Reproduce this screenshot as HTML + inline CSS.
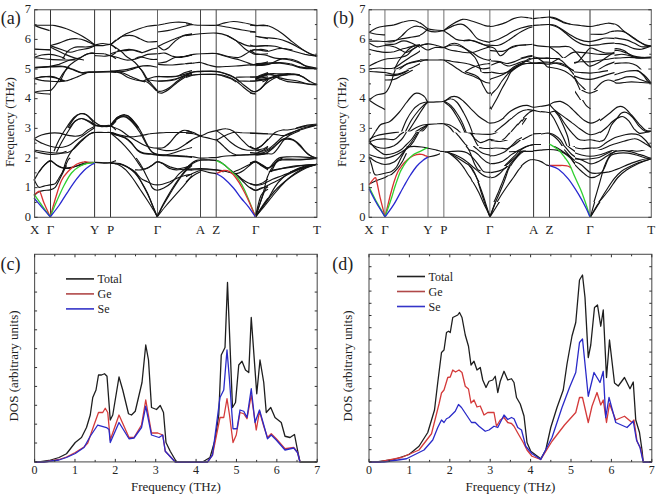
<!DOCTYPE html>
<html><head><meta charset="utf-8"><style>
html,body{margin:0;padding:0;background:#fff;width:656px;height:497px;overflow:hidden}
svg{display:block}
text{font-family:"Liberation Serif", serif}
</style></head><body>
<svg width="656" height="497" viewBox="0 0 656 497">
<rect width="656" height="497" fill="#fff"/>
<line x1="50.5" y1="9.75" x2="50.5" y2="217.3" stroke="#333" stroke-width="1"/>
<line x1="94.6" y1="9.75" x2="94.6" y2="217.3" stroke="#333" stroke-width="1"/>
<line x1="110.5" y1="9.75" x2="110.5" y2="217.3" stroke="#333" stroke-width="1"/>
<line x1="157.5" y1="9.75" x2="157.5" y2="217.3" stroke="#666" stroke-width="1"/>
<line x1="200.5" y1="9.75" x2="200.5" y2="217.3" stroke="#444" stroke-width="1"/>
<line x1="216.2" y1="9.75" x2="216.2" y2="217.3" stroke="#444" stroke-width="1"/>
<line x1="255.8" y1="9.75" x2="255.8" y2="217.3" stroke="#555" stroke-width="1"/>
<defs><mask id="m34_0" maskUnits="userSpaceOnUse" x="0" y="0" width="656" height="497"><rect x="0" y="0" width="656" height="497" fill="#fff"/></mask></defs>
<g mask="url(#m34_0)">
<path d="M34.0 25.2C36.7 25.2 46.7 25.2 50.2 25.2C53.8 25.3 52.5 25.0 55.2 25.6C58.0 26.2 62.8 27.4 66.5 28.8C70.2 30.1 74.4 32.1 77.8 33.8C81.1 35.4 83.6 36.9 86.5 38.8C89.4 40.6 93.5 44.0 94.9 45.0" fill="none" stroke="#141414" stroke-width="1.15"/>
<path d="M34.0 25.2C35.2 25.7 38.9 27.2 41.5 28.1C44.1 29.0 48.3 30.2 49.6 30.6" fill="none" stroke="#141414" stroke-width="1.15"/>
<path d="M50.2 45.6C51.7 45.2 55.9 44.2 59.0 43.1C62.1 42.1 65.9 40.1 69.0 39.4C72.1 38.6 75.0 38.5 77.8 38.8C80.5 39.0 82.4 39.6 85.2 40.6C88.1 41.7 93.3 44.3 94.9 45.0" fill="none" stroke="#141414" stroke-width="1.15"/>
<path d="M94.9 45.0C96.2 44.8 100.1 43.6 102.8 43.5C105.4 43.4 108.3 45.0 110.5 44.4C112.7 43.8 115.1 40.7 116.0 40.0" fill="none" stroke="#141414" stroke-width="1.15"/>
<path d="M94.9 45.6C96.2 45.6 100.1 45.8 102.8 45.6C105.4 45.4 108.3 43.9 110.5 44.4C112.7 44.9 115.1 48.0 116.0 48.8" fill="none" stroke="#141414" stroke-width="1.15"/>
<polyline points="34.00,49.00 50.25,49.75" fill="none" stroke="#141414" stroke-width="1.15" stroke-linejoin="round" />
<polyline points="34.00,49.25 50.25,50.00" fill="none" stroke="#141414" stroke-width="1.15" stroke-linejoin="round" />
<path d="M50.2 45.6C52.3 46.4 59.4 48.9 62.8 50.0C66.1 51.1 67.5 52.2 70.2 52.2C73.0 52.2 75.9 50.7 79.0 50.0C82.1 49.3 86.4 48.9 89.0 48.1C91.6 47.4 93.9 46.0 94.9 45.6" fill="none" stroke="#141414" stroke-width="1.15"/>
<path d="M62.8 58.8C63.6 57.5 65.9 53.1 67.8 51.2C69.6 49.4 72.1 48.2 74.0 47.5C75.9 46.8 76.7 47.0 79.0 46.9C81.3 46.8 85.1 47.1 87.8 46.9C90.4 46.7 93.7 45.8 94.9 45.6" fill="none" stroke="#141414" stroke-width="1.15"/>
<path d="M50.2 46.9C52.8 48.1 61.1 52.5 65.2 54.4C69.4 56.2 72.1 57.2 75.2 58.1C78.4 59.1 82.5 59.7 84.0 60.0" fill="none" stroke="#141414" stroke-width="1.15"/>
<path d="M34.0 57.5C35.2 57.1 38.8 55.5 41.5 55.0C44.2 54.5 47.3 54.2 50.2 54.4C53.2 54.6 56.5 55.5 59.0 56.2C61.5 57.0 64.2 58.3 65.2 58.8" fill="none" stroke="#141414" stroke-width="1.15"/>
<path d="M34.0 57.5C36.7 57.8 45.0 59.0 50.2 59.4C55.5 59.8 61.1 59.9 65.2 60.0C69.4 60.1 73.6 60.0 75.2 60.0" fill="none" stroke="#141414" stroke-width="1.15"/>
<path d="M34.0 67.5C36.7 67.3 46.1 66.8 50.2 66.2C54.4 65.7 55.7 65.4 59.0 64.4C62.3 63.3 66.9 61.0 70.2 60.0C73.6 59.0 76.3 59.1 79.0 58.1C81.7 57.2 84.4 55.3 86.5 54.4C88.6 53.5 90.1 52.9 91.5 52.8C92.9 52.6 94.3 53.4 94.9 53.5" fill="none" stroke="#141414" stroke-width="1.15"/>
<path d="M34.0 67.5C36.7 67.3 45.5 66.7 50.2 66.5C55.0 66.3 59.2 65.9 62.8 66.2C66.3 66.6 68.4 67.7 71.5 68.8C74.6 69.8 78.6 72.0 81.5 72.5C84.4 73.0 84.2 72.1 89.0 71.9C93.8 71.7 106.0 71.2 110.5 71.2C115.0 71.2 115.1 71.8 116.0 71.9" fill="none" stroke="#141414" stroke-width="1.15"/>
<path d="M34.0 67.9C36.7 67.7 45.5 67.2 50.2 67.0C55.0 66.8 59.2 66.4 62.8 66.8C66.3 67.1 68.4 68.2 71.5 69.2C74.6 70.3 78.6 72.5 81.5 73.0C84.4 73.5 84.2 72.6 89.0 72.4C93.8 72.2 106.0 71.8 110.5 71.8C115.0 71.8 115.1 72.3 116.0 72.4" fill="none" stroke="#141414" stroke-width="1.15"/>
<path d="M60.2 81.2C61.3 79.2 64.6 71.7 66.5 68.8C68.4 65.8 69.4 65.4 71.5 63.8C73.6 62.1 76.3 60.4 79.0 58.8C81.7 57.1 85.1 54.6 87.8 53.8C90.4 52.9 93.7 53.5 94.9 53.5" fill="none" stroke="#141414" stroke-width="1.15"/>
<path d="M94.9 53.5C96.4 53.5 101.4 53.4 104.0 53.8C106.6 54.1 108.5 55.8 110.5 55.6C112.5 55.4 115.1 53.0 116.0 52.5" fill="none" stroke="#141414" stroke-width="1.15"/>
<path d="M94.9 55.6C96.4 55.7 101.4 56.2 104.0 56.2C106.6 56.2 108.5 55.2 110.5 55.6C112.5 56.0 115.1 58.2 116.0 58.8" fill="none" stroke="#141414" stroke-width="1.15"/>
<path d="M34.0 78.8C35.2 78.4 38.8 77.2 41.5 76.9C44.2 76.6 47.3 76.6 50.2 76.9C53.2 77.2 56.5 78.0 59.0 78.8C61.5 79.5 64.2 80.8 65.2 81.2" fill="none" stroke="#141414" stroke-width="1.15"/>
<path d="M110.6 44.4C111.8 43.5 114.9 41.1 117.5 39.4C120.1 37.6 122.9 35.4 126.2 33.8C129.6 32.1 134.0 30.6 137.5 29.4C141.0 28.1 144.2 26.9 147.5 26.2C150.8 25.6 155.6 25.4 157.2 25.2" fill="none" stroke="#141414" stroke-width="1.15"/>
<path d="M158.1 25.2C159.3 25.0 162.2 24.2 165.0 23.8C167.8 23.2 171.7 22.5 175.0 22.2C178.3 22.0 182.2 22.1 185.0 22.5C187.8 22.9 190.8 24.1 192.0 24.4" fill="none" stroke="#141414" stroke-width="1.15"/>
<path d="M158.1 31.9C159.7 31.7 163.9 31.4 167.5 30.6C171.1 29.9 175.9 28.5 180.0 27.5C184.1 26.5 190.0 24.9 192.0 24.4" fill="none" stroke="#141414" stroke-width="1.15"/>
<path d="M117.5 39.4C118.3 38.9 120.0 36.9 122.5 36.2C125.0 35.6 129.6 35.2 132.5 35.6C135.4 36.0 137.5 37.7 140.0 38.8C142.5 39.8 144.6 41.4 147.5 41.9C150.4 42.3 155.6 41.6 157.2 41.5" fill="none" stroke="#141414" stroke-width="1.15"/>
<path d="M110.6 44.4C111.8 45.1 115.5 47.4 117.5 48.8C119.5 50.1 121.0 51.2 122.5 52.5C124.0 53.8 124.2 54.6 126.2 56.2C128.3 57.9 132.5 60.2 135.0 62.5C137.5 64.8 139.4 67.3 141.2 70.0C143.1 72.7 145.0 76.8 146.2 78.8C147.5 80.8 148.3 81.5 148.8 82.0" fill="none" stroke="#141414" stroke-width="1.15"/>
<path d="M110.6 53.8C112.0 53.3 115.7 52.0 118.8 51.2C121.8 50.5 126.0 49.5 128.8 49.4C131.5 49.3 132.7 50.1 135.0 50.6C137.3 51.1 139.8 52.7 142.5 52.5C145.2 52.3 148.8 50.1 151.2 49.4C153.7 48.6 156.2 48.3 157.2 48.1" fill="none" stroke="#141414" stroke-width="1.15"/>
<path d="M117.5 50.6C119.0 50.6 123.8 50.7 126.2 50.6C128.8 50.5 130.4 49.9 132.5 50.0C134.6 50.1 137.1 50.7 138.8 51.2C140.4 51.8 141.9 52.8 142.5 53.1" fill="none" stroke="#141414" stroke-width="1.15"/>
<path d="M110.6 55.6C111.8 55.9 114.9 56.8 117.5 57.5C120.1 58.2 123.5 59.7 126.2 60.0C129.0 60.3 131.5 59.8 133.8 59.4C136.0 59.0 137.7 58.3 140.0 57.5C142.3 56.7 144.6 55.0 147.5 54.4C150.4 53.8 155.6 53.9 157.2 53.8" fill="none" stroke="#141414" stroke-width="1.15"/>
<path d="M135.0 58.8C135.8 58.4 138.5 57.1 140.0 56.9C141.5 56.7 141.9 57.1 143.8 57.5C145.6 57.9 149.0 59.1 151.2 59.4C153.5 59.7 156.2 59.4 157.2 59.4" fill="none" stroke="#141414" stroke-width="1.15"/>
<path d="M110.6 71.2C111.8 71.1 114.7 70.9 117.5 70.6C120.3 70.3 124.2 70.0 127.5 69.4C130.8 68.8 134.2 67.5 137.5 66.9C140.8 66.2 144.2 65.6 147.5 65.6C150.8 65.7 155.6 67.0 157.2 67.2" fill="none" stroke="#141414" stroke-width="1.15"/>
<path d="M110.6 71.2C112.4 71.5 118.0 71.7 121.2 72.5C124.5 73.3 127.1 75.0 130.0 76.2C132.9 77.5 136.2 79.0 138.8 80.0C141.2 81.0 144.0 81.7 145.0 82.0" fill="none" stroke="#141414" stroke-width="1.15"/>
<path d="M158.1 46.2C159.5 45.6 163.4 43.8 166.2 42.5C169.1 41.2 171.9 40.0 175.0 38.8C178.1 37.5 182.2 35.8 185.0 35.0C187.8 34.2 190.8 34.0 192.0 33.8" fill="none" stroke="#141414" stroke-width="1.15"/>
<path d="M158.1 46.2C159.1 46.9 162.0 49.8 163.8 50.0C165.5 50.2 166.9 49.0 168.8 47.5C170.6 46.0 172.7 43.1 175.0 41.2C177.3 39.4 179.7 37.4 182.5 36.2C185.3 35.1 190.4 34.7 192.0 34.4" fill="none" stroke="#141414" stroke-width="1.15"/>
<path d="M158.1 53.8C159.3 53.6 162.6 52.7 165.0 53.1C167.4 53.5 170.0 55.5 172.5 56.2C175.0 57.0 176.8 57.7 180.0 57.5C183.2 57.3 190.0 55.4 192.0 55.0" fill="none" stroke="#141414" stroke-width="1.15"/>
<path d="M158.1 63.1C159.5 62.9 163.4 62.8 166.2 61.9C169.1 60.9 171.9 58.4 175.0 57.5C178.1 56.6 182.2 56.7 185.0 56.2C187.8 55.8 190.8 55.2 192.0 55.0" fill="none" stroke="#141414" stroke-width="1.15"/>
<path d="M158.1 64.4C160.5 64.5 168.0 65.1 172.5 65.0C177.0 64.9 181.8 64.1 185.0 63.8C188.2 63.4 190.8 63.2 192.0 63.1" fill="none" stroke="#141414" stroke-width="1.15"/>
<path d="M158.1 76.2C159.7 76.4 164.3 76.9 167.5 76.9C170.7 76.9 174.6 77.0 177.5 76.2C180.4 75.5 182.6 73.4 185.0 72.5C187.4 71.6 190.8 70.9 192.0 70.6" fill="none" stroke="#141414" stroke-width="1.15"/>
<path d="M158.1 81.2C160.1 81.0 166.4 80.6 170.0 80.0C173.6 79.4 176.3 78.8 180.0 77.5C183.7 76.2 190.0 73.3 192.0 72.5" fill="none" stroke="#141414" stroke-width="1.15"/>
<path d="M186.0 23.8C187.2 23.9 191.1 24.5 193.5 24.8C195.9 25.0 196.6 25.2 200.4 25.2C204.2 25.3 212.5 25.6 216.4 25.2C220.2 24.9 220.6 23.8 223.5 23.1C226.4 22.5 230.2 21.6 233.5 21.5C236.8 21.4 239.8 22.1 243.5 22.8C247.2 23.4 251.5 24.8 255.6 25.2C259.7 25.7 265.9 25.6 268.0 25.6" fill="none" stroke="#141414" stroke-width="1.15"/>
<path d="M216.4 25.2C218.6 25.6 225.4 26.7 229.8 27.5C234.1 28.3 237.9 29.3 242.2 30.0C246.6 30.7 253.4 31.6 255.6 31.9" fill="none" stroke="#141414" stroke-width="1.15"/>
<path d="M186.0 35.6C188.4 35.3 195.3 34.2 200.4 33.8C205.4 33.3 211.9 32.8 216.4 33.1C220.9 33.4 223.6 34.2 227.2 35.6C230.9 37.1 235.2 40.2 238.5 41.9C241.8 43.5 244.4 44.9 247.2 45.6C250.1 46.4 252.2 46.2 255.6 46.2C259.1 46.2 265.9 45.7 268.0 45.6" fill="none" stroke="#141414" stroke-width="1.15"/>
<path d="M227.2 35.6C228.7 36.5 233.1 38.4 236.0 40.6C238.9 42.8 242.2 46.8 244.8 48.8C247.2 50.7 249.2 51.6 251.0 52.5C252.8 53.4 252.8 54.2 255.6 54.4C258.5 54.6 265.9 53.9 268.0 53.8" fill="none" stroke="#141414" stroke-width="1.15"/>
<polyline points="255.62,36.25 268.00,38.75" fill="none" stroke="#141414" stroke-width="1.15" stroke-linejoin="round" />
<path d="M255.6 50.0C256.5 49.9 258.9 49.3 261.0 49.4C263.1 49.5 266.8 50.4 268.0 50.6" fill="none" stroke="#141414" stroke-width="1.15"/>
<path d="M186.0 56.2C187.2 55.9 191.1 54.8 193.5 54.4C195.9 54.0 196.6 53.9 200.4 53.8C204.2 53.6 211.9 53.1 216.4 53.5C220.9 53.9 223.6 55.6 227.2 56.2C230.9 56.9 235.4 57.9 238.5 57.5C241.6 57.1 243.9 54.9 246.0 53.8C248.1 52.6 249.4 51.4 251.0 50.6C252.6 49.9 254.9 49.6 255.6 49.4" fill="none" stroke="#141414" stroke-width="1.15"/>
<path d="M216.4 53.5C218.6 54.2 225.9 56.4 229.8 57.5C233.6 58.6 236.6 59.1 239.8 60.0C242.9 60.9 245.9 62.3 248.5 63.1C251.1 64.0 252.4 64.9 255.6 65.0C258.9 65.1 265.9 64.0 268.0 63.8" fill="none" stroke="#141414" stroke-width="1.15"/>
<path d="M186.0 63.8C187.2 63.6 191.1 63.3 193.5 63.1C195.9 62.9 197.9 62.2 200.4 62.5C202.9 62.8 205.8 64.3 208.5 65.0C211.2 65.7 213.5 66.6 216.4 66.9C219.3 67.1 222.7 66.6 226.0 66.5C229.3 66.4 231.1 66.4 236.0 66.0C240.9 65.6 250.3 65.1 255.6 64.4C261.0 63.7 265.9 62.3 268.0 61.9" fill="none" stroke="#141414" stroke-width="1.15"/>
<path d="M186.0 75.0C187.2 74.5 191.1 72.5 193.5 71.9C195.9 71.2 196.6 71.4 200.4 71.2C204.2 71.1 212.1 70.8 216.4 71.2C220.6 71.7 223.1 72.8 226.0 73.8C228.9 74.7 231.2 75.5 233.5 76.9C235.8 78.2 238.7 81.1 239.8 82.0" fill="none" stroke="#141414" stroke-width="1.15"/>
<path d="M186.0 75.6C187.2 75.5 191.1 75.2 193.5 75.0C195.9 74.8 196.6 74.5 200.4 74.4C204.2 74.3 212.5 74.1 216.4 74.4C220.2 74.7 221.1 75.5 223.5 76.2C225.9 77.0 228.9 77.8 231.0 78.8C233.1 79.7 235.2 81.5 236.0 82.0" fill="none" stroke="#141414" stroke-width="1.15"/>
<path d="M255.6 77.5C256.5 77.1 258.9 75.8 261.0 75.0C263.1 74.2 266.8 72.9 268.0 72.5" fill="none" stroke="#141414" stroke-width="1.15"/>
<polyline points="255.62,78.75 268.00,76.88" fill="none" stroke="#141414" stroke-width="1.15" stroke-linejoin="round" />
<path d="M250.0 25.2C250.9 25.3 253.1 25.6 255.6 25.6C258.1 25.6 262.2 24.9 265.0 25.2C267.8 25.6 269.6 26.1 272.5 27.5C275.4 28.9 279.2 31.4 282.5 33.8C285.8 36.1 289.2 39.3 292.5 41.9C295.8 44.5 299.6 47.4 302.5 49.4C305.4 51.4 307.6 52.6 310.0 53.8C312.4 54.9 315.9 55.8 317.1 56.2" fill="none" stroke="#141414" stroke-width="1.15"/>
<polyline points="250.00,31.88 255.62,32.12" fill="none" stroke="#141414" stroke-width="1.15" stroke-linejoin="round" />
<path d="M255.6 36.2C257.2 36.5 261.4 37.1 265.0 37.5C268.6 37.9 273.8 38.0 277.5 38.8C281.2 39.5 284.2 40.5 287.5 41.9C290.8 43.2 294.2 45.1 297.5 46.9C300.8 48.6 304.2 50.9 307.5 52.5C310.8 54.1 315.5 55.6 317.1 56.2" fill="none" stroke="#141414" stroke-width="1.15"/>
<path d="M250.0 45.0C250.9 45.2 253.1 46.1 255.6 46.2C258.1 46.4 261.8 45.6 265.0 45.6C268.2 45.6 271.9 45.7 275.0 46.2C278.1 46.8 280.6 47.9 283.8 48.8C286.9 49.6 290.2 50.3 293.8 51.2C297.3 52.2 301.1 53.5 305.0 54.4C308.9 55.2 315.1 55.9 317.1 56.2" fill="none" stroke="#141414" stroke-width="1.15"/>
<path d="M250.0 51.2C250.9 51.0 253.5 49.9 255.6 49.8C257.7 49.6 260.3 50.4 262.5 50.6C264.7 50.9 266.2 51.6 268.8 51.2C271.2 50.9 275.0 49.2 277.5 48.8C280.0 48.3 281.2 48.3 283.8 48.5C286.2 48.7 291.0 49.8 292.5 50.0" fill="none" stroke="#141414" stroke-width="1.15"/>
<path d="M250.0 50.0C250.9 50.6 253.1 52.9 255.6 53.8C258.1 54.6 261.8 54.3 265.0 55.0C268.2 55.7 272.1 57.5 275.0 58.1C277.9 58.8 280.0 58.4 282.5 58.8C285.0 59.1 287.1 59.3 290.0 60.0C292.9 60.7 296.9 61.9 300.0 63.1C303.1 64.4 305.9 66.6 308.8 67.5C311.6 68.4 315.7 68.5 317.1 68.8" fill="none" stroke="#141414" stroke-width="1.15"/>
<path d="M255.6 63.8C257.4 63.6 262.2 63.3 266.2 63.1C270.3 62.9 276.0 62.4 280.0 62.5C284.0 62.6 286.7 63.0 290.0 63.8C293.3 64.5 296.7 66.1 300.0 66.9C303.3 67.6 307.1 67.9 310.0 68.1C312.9 68.4 315.9 68.4 317.1 68.5" fill="none" stroke="#141414" stroke-width="1.15"/>
<path d="M255.6 65.6C257.8 65.4 264.7 65.4 268.8 64.4C272.8 63.3 276.9 60.3 280.0 59.4C283.1 58.4 284.6 58.4 287.5 58.8C290.4 59.1 294.6 60.1 297.5 61.2C300.4 62.4 301.7 64.5 305.0 65.6C308.3 66.8 315.1 67.7 317.1 68.1" fill="none" stroke="#141414" stroke-width="1.15"/>
<path d="M250.0 65.0C250.9 65.0 252.5 65.0 255.6 64.8C258.8 64.5 264.7 64.0 268.8 63.8C272.8 63.5 276.2 62.9 280.0 63.1C283.8 63.3 287.5 64.2 291.2 65.0C295.0 65.8 298.2 67.5 302.5 68.1C306.8 68.8 314.7 68.6 317.1 68.8" fill="none" stroke="#141414" stroke-width="1.15"/>
<path d="M255.6 78.8C256.8 78.2 260.1 76.5 262.5 75.6C264.9 74.8 267.1 74.1 270.0 73.8C272.9 73.4 276.5 73.8 280.0 73.8C283.5 73.8 287.9 73.4 291.2 73.8C294.6 74.1 297.3 74.6 300.0 75.6C302.7 76.7 305.8 78.9 307.5 80.0C309.2 81.1 309.6 81.7 310.0 82.0" fill="none" stroke="#141414" stroke-width="1.15"/>
<path d="M255.6 80.0C257.8 79.7 264.9 79.0 268.8 78.1C272.6 77.3 275.6 75.5 278.8 75.0C281.9 74.5 286.0 75.0 287.5 75.0" fill="none" stroke="#141414" stroke-width="1.15"/>
<path d="M262.5 82.0C264.6 81.0 271.7 77.4 275.0 76.2C278.3 75.1 281.2 75.2 282.5 75.0" fill="none" stroke="#141414" stroke-width="1.15"/>
<path d="M34.0 78.5C35.2 78.2 38.8 77.4 41.5 77.0C44.2 76.6 48.0 76.2 50.2 76.2C52.5 76.3 53.6 76.7 55.2 77.2C56.9 77.8 58.6 79.1 60.2 79.8C61.9 80.4 63.4 81.1 65.2 81.0C67.1 80.9 69.4 79.9 71.5 79.1C73.6 78.4 75.2 77.7 77.8 76.6C80.2 75.6 85.0 73.5 86.5 72.9" fill="none" stroke="#141414" stroke-width="1.15"/>
<path d="M34.0 78.5C35.2 78.8 38.8 79.9 41.5 80.4C44.2 80.8 47.3 81.0 50.2 81.2C53.2 81.5 56.7 81.6 59.0 81.6C61.3 81.6 63.2 81.3 64.0 81.2" fill="none" stroke="#141414" stroke-width="1.15"/>
<path d="M50.2 91.0C50.9 90.4 52.5 89.1 54.0 87.2C55.5 85.4 57.3 82.2 59.0 79.8C60.7 77.2 62.3 74.4 64.0 72.2C65.7 70.1 68.2 67.6 69.0 66.6" fill="none" stroke="#141414" stroke-width="1.15"/>
<path d="M34.0 92.2C35.2 92.0 38.8 91.3 41.5 91.0C44.2 90.7 48.8 90.5 50.2 90.4" fill="none" stroke="#141414" stroke-width="1.15"/>
<path d="M34.0 92.2C35.2 92.5 38.8 93.2 41.5 93.5C44.2 93.8 48.8 94.0 50.2 94.1" fill="none" stroke="#141414" stroke-width="1.15"/>
<path d="M67.8 128.0C68.8 126.4 71.9 120.9 74.0 118.5C76.1 116.1 78.2 114.4 80.2 113.8C82.3 113.1 84.1 113.3 86.5 114.8C88.9 116.2 92.4 120.4 94.9 122.2C97.4 124.1 98.9 125.4 101.5 126.0C104.1 126.6 108.1 126.8 110.5 126.0C112.9 125.2 115.1 121.8 116.0 121.0" fill="none" stroke="#141414" stroke-width="1.15"/>
<path d="M69.0 128.0C70.0 126.8 73.2 122.6 75.2 121.0C77.3 119.4 79.2 118.5 81.5 118.5C83.8 118.5 86.8 120.0 89.0 121.0C91.2 122.0 92.8 123.8 94.9 124.8C97.0 125.7 98.9 126.4 101.5 126.6C104.1 126.8 109.0 126.1 110.5 126.0" fill="none" stroke="#141414" stroke-width="1.15"/>
<path d="M110.6 71.6C112.2 71.8 117.2 71.9 120.0 72.9C122.8 73.8 125.0 76.1 127.5 77.2C130.0 78.4 132.5 79.1 135.0 79.8C137.5 80.4 140.4 80.6 142.5 81.0C144.6 81.4 145.8 81.3 147.5 82.2C149.2 83.2 150.9 85.2 152.5 86.6C154.1 88.1 155.6 90.3 157.2 91.0C158.9 91.7 160.4 91.6 162.5 91.0C164.6 90.4 167.5 88.9 170.0 87.2C172.5 85.6 175.0 82.9 177.5 81.0C180.0 79.1 182.6 77.4 185.0 76.0C187.4 74.6 190.8 73.4 192.0 72.9" fill="none" stroke="#141414" stroke-width="1.15"/>
<path d="M157.2 92.2C158.1 92.4 160.4 93.5 162.5 92.9C164.6 92.2 167.5 90.3 170.0 88.5C172.5 86.7 175.0 84.1 177.5 82.2C180.0 80.4 182.6 78.6 185.0 77.2C187.4 75.9 190.8 74.6 192.0 74.1" fill="none" stroke="#141414" stroke-width="1.15"/>
<path d="M110.6 71.6C112.6 71.6 118.9 72.0 122.5 71.6C126.1 71.2 129.6 70.0 132.5 69.1C135.4 68.3 138.8 67.0 140.0 66.6" fill="none" stroke="#141414" stroke-width="1.15"/>
<path d="M137.5 66.0C138.3 66.8 141.0 69.1 142.5 71.0C144.0 72.9 145.0 75.4 146.2 77.2C147.5 79.1 148.8 80.7 150.0 82.2C151.2 83.8 152.5 85.3 153.8 86.6C155.0 88.0 156.7 89.8 157.2 90.4" fill="none" stroke="#141414" stroke-width="1.15"/>
<path d="M142.5 81.6C143.3 81.2 145.6 79.9 147.5 79.1C149.4 78.4 152.1 77.4 153.8 77.0C155.4 76.6 155.2 76.7 157.2 76.6C159.3 76.6 162.9 76.7 166.2 76.6C169.6 76.5 174.4 76.4 177.5 76.0C180.6 75.6 182.6 74.8 185.0 74.1C187.4 73.5 190.8 72.6 192.0 72.2" fill="none" stroke="#141414" stroke-width="1.15"/>
<path d="M147.5 79.8C149.1 80.0 154.1 80.8 157.2 81.0C160.4 81.2 163.3 81.2 166.2 81.0C169.2 80.8 171.9 80.7 175.0 79.8C178.1 78.8 183.3 76.1 185.0 75.4" fill="none" stroke="#141414" stroke-width="1.15"/>
<path d="M110.6 124.8C111.8 123.5 115.1 118.9 117.5 117.2C119.9 115.6 122.7 114.5 125.0 114.8C127.3 115.0 129.2 116.3 131.2 118.5C133.3 120.7 136.5 126.4 137.5 128.0" fill="none" stroke="#141414" stroke-width="1.15"/>
<path d="M110.6 126.0C111.8 124.8 115.1 120.2 117.5 118.5C119.9 116.8 122.1 115.2 125.0 116.0C127.9 116.8 132.7 121.5 135.0 123.5C137.3 125.5 138.1 127.2 138.8 128.0" fill="none" stroke="#141414" stroke-width="1.15"/>
<path d="M186.0 74.8C187.2 74.3 191.1 72.5 193.5 72.0C195.9 71.5 196.6 71.7 200.4 71.6C204.2 71.6 212.1 71.2 216.4 71.6C220.6 72.0 222.7 73.0 226.0 74.1C229.3 75.3 233.1 76.7 236.0 78.5C238.9 80.3 241.0 82.8 243.5 84.8C246.0 86.7 249.0 89.2 251.0 90.4C253.0 91.5 254.0 91.9 255.6 91.6C257.3 91.3 258.9 90.5 261.0 88.5C263.1 86.5 266.8 81.2 268.0 79.8" fill="none" stroke="#141414" stroke-width="1.15"/>
<path d="M186.0 77.5C187.2 77.1 191.1 75.5 193.5 75.0C195.9 74.5 196.6 74.6 200.4 74.5C204.2 74.4 212.1 74.2 216.4 74.5C220.6 74.8 222.7 74.9 226.0 76.0C229.3 77.1 233.1 79.1 236.0 81.0C238.9 82.9 241.0 85.3 243.5 87.2C246.0 89.2 249.0 91.7 251.0 92.9C253.0 94.0 254.9 93.9 255.6 94.1" fill="none" stroke="#141414" stroke-width="1.15"/>
<path d="M236.0 77.2C237.7 77.2 242.7 77.0 246.0 77.0C249.3 77.0 253.1 77.2 255.6 77.0C258.1 76.8 258.9 76.6 261.0 76.0C263.1 75.4 266.8 73.9 268.0 73.5" fill="none" stroke="#141414" stroke-width="1.15"/>
<path d="M239.8 81.0C241.6 81.0 248.4 81.2 251.0 81.2C253.6 81.2 254.0 81.1 255.6 81.0C257.3 80.9 258.9 80.8 261.0 80.4C263.1 80.0 266.8 78.8 268.0 78.5" fill="none" stroke="#141414" stroke-width="1.15"/>
<path d="M255.6 79.8C256.5 79.2 258.9 77.6 261.0 76.6C263.1 75.7 266.8 74.5 268.0 74.1" fill="none" stroke="#141414" stroke-width="1.15"/>
<path d="M250.0 90.4C250.9 90.6 254.0 91.8 255.6 91.6C257.3 91.4 258.2 90.5 260.0 89.1C261.8 87.8 264.0 85.3 266.2 83.5C268.5 81.7 271.0 79.9 273.8 78.5C276.5 77.1 279.0 76.0 282.5 75.4C286.0 74.8 291.7 74.5 295.0 74.8C298.3 75.0 300.0 75.5 302.5 76.6C305.0 77.8 307.6 80.3 310.0 81.6C312.4 83.0 315.9 84.2 317.1 84.8" fill="none" stroke="#141414" stroke-width="1.15"/>
<polyline points="250.00,92.88 255.00,93.50" fill="none" stroke="#141414" stroke-width="1.15" stroke-linejoin="round" />
<path d="M250.0 77.0C250.9 77.0 253.5 77.1 255.6 77.0C257.7 76.9 260.3 77.0 262.5 76.6C264.7 76.2 266.7 75.0 268.8 74.8C270.8 74.5 272.7 75.4 275.0 75.4C277.3 75.4 279.4 75.0 282.5 74.8C285.6 74.5 290.8 74.1 293.8 74.1C296.7 74.1 299.0 74.6 300.0 74.8" fill="none" stroke="#141414" stroke-width="1.15"/>
<path d="M250.0 81.0C250.9 81.0 253.1 81.0 255.6 80.8C258.1 80.5 261.8 80.3 265.0 79.8C268.2 79.2 271.7 77.4 275.0 77.2C278.3 77.1 281.2 78.5 285.0 79.1C288.8 79.8 294.0 80.3 297.5 81.0C301.0 81.7 303.0 82.9 306.2 83.5C309.5 84.1 315.3 84.5 317.1 84.8" fill="none" stroke="#141414" stroke-width="1.15"/>
<path d="M255.6 78.5C257.4 77.8 263.4 74.8 266.2 74.1C269.1 73.5 270.2 73.9 272.5 74.8C274.8 75.6 277.5 78.0 280.0 79.1C282.5 80.3 284.2 81.0 287.5 81.6C290.8 82.2 296.2 82.4 300.0 82.9C303.8 83.4 307.1 84.2 310.0 84.5C312.9 84.8 315.9 84.7 317.1 84.8" fill="none" stroke="#141414" stroke-width="1.15"/>
<path d="M296.2 128.0C297.9 127.6 302.8 126.0 306.2 125.4C309.7 124.7 315.3 124.3 317.1 124.1" fill="none" stroke="#141414" stroke-width="1.15"/>
<path d="M54.0 151.2C54.8 149.4 56.9 144.0 59.0 140.0C61.1 136.0 64.0 131.2 66.5 127.5C69.0 123.8 71.7 119.8 74.0 117.5C76.3 115.2 78.2 114.2 80.2 113.8C82.3 113.3 84.6 114.0 86.5 115.0C88.4 116.0 90.1 118.3 91.5 120.0C92.9 121.7 93.2 124.1 94.9 125.0C96.5 125.9 98.9 125.5 101.5 125.6C104.1 125.7 108.1 126.5 110.5 125.6C112.9 124.8 115.1 121.5 116.0 120.6" fill="none" stroke="#141414" stroke-width="1.15"/>
<path d="M56.5 152.5C57.3 150.8 59.4 146.2 61.5 142.5C63.6 138.8 66.7 133.5 69.0 130.0C71.3 126.5 73.2 123.2 75.2 121.2C77.3 119.3 79.4 118.5 81.5 118.5C83.6 118.5 85.9 120.3 87.8 121.2C89.6 122.2 91.6 123.6 92.8 124.4C93.9 125.1 93.4 125.4 94.9 125.6C96.3 125.9 98.9 126.0 101.5 126.0C104.1 126.0 108.1 125.0 110.5 125.6C112.9 126.3 115.1 129.3 116.0 130.0" fill="none" stroke="#141414" stroke-width="1.15"/>
<path d="M34.0 138.8C35.2 138.1 38.8 135.9 41.5 135.0C44.2 134.1 47.3 133.4 50.2 133.1C53.2 132.8 56.3 132.8 59.0 133.1C61.7 133.4 63.8 134.5 66.5 135.0C69.2 135.5 72.8 136.2 75.2 136.2C77.8 136.2 79.4 136.0 81.5 135.0C83.6 134.0 85.5 131.5 87.8 130.0C90.0 128.5 93.7 126.9 94.9 126.2" fill="none" stroke="#141414" stroke-width="1.15"/>
<path d="M34.0 138.8C35.2 139.5 38.8 141.9 41.5 143.1C44.2 144.4 47.3 145.5 50.2 146.2C53.2 147.0 56.3 147.5 59.0 147.5C61.7 147.5 64.4 146.9 66.5 146.2C68.6 145.6 69.8 144.8 71.5 143.8C73.2 142.7 74.4 141.5 76.5 140.0C78.6 138.5 81.7 136.6 84.0 135.0C86.3 133.4 88.4 131.9 90.2 130.6C92.1 129.4 94.1 128.0 94.9 127.5" fill="none" stroke="#141414" stroke-width="1.15"/>
<path d="M34.0 150.0C35.2 150.2 38.8 150.8 41.5 151.2C44.2 151.7 47.3 152.2 50.2 152.5C53.2 152.8 56.1 153.1 59.0 153.1C61.9 153.1 65.2 153.2 67.8 152.5C70.2 151.8 71.7 150.6 74.0 148.8C76.3 146.9 79.0 143.6 81.5 141.2C84.0 138.9 86.8 135.8 89.0 134.4C91.2 132.9 92.4 132.8 94.9 132.5C97.4 132.2 101.4 132.5 104.0 132.5C106.6 132.5 108.5 132.3 110.5 132.5C112.5 132.7 115.1 133.5 116.0 133.8" fill="none" stroke="#141414" stroke-width="1.15"/>
<path d="M34.0 151.2C35.2 151.6 38.8 152.6 41.5 153.1C44.2 153.6 47.3 154.3 50.2 154.4C53.2 154.5 56.3 154.3 59.0 153.8C61.7 153.2 65.2 151.7 66.5 151.2" fill="none" stroke="#141414" stroke-width="1.15"/>
<path d="M62.8 172.0C63.4 170.0 65.0 163.5 66.5 160.0C68.0 156.5 69.4 154.2 71.5 151.2C73.6 148.3 76.5 145.0 79.0 142.5C81.5 140.0 84.4 137.8 86.5 136.2C88.6 134.7 90.1 133.8 91.5 133.1C92.9 132.5 94.3 132.4 94.9 132.2" fill="none" stroke="#141414" stroke-width="1.15"/>
<path d="M39.0 172.0C39.8 170.9 42.1 167.5 44.0 165.6C45.9 163.7 48.2 160.7 50.2 160.6C52.3 160.5 54.2 163.8 56.5 165.0C58.8 166.2 61.7 167.6 64.0 168.1C66.3 168.6 67.8 168.6 70.2 168.1C72.8 167.6 76.3 165.9 79.0 165.0C81.7 164.1 83.9 162.9 86.5 162.5C89.1 162.1 92.0 162.4 94.9 162.5C97.8 162.6 101.4 163.1 104.0 163.1C106.6 163.1 108.5 162.9 110.5 162.5C112.5 162.1 115.1 160.9 116.0 160.6" fill="none" stroke="#141414" stroke-width="1.15"/>
<path d="M110.6 125.6C111.8 124.3 115.1 119.3 117.5 117.5C119.9 115.7 122.5 114.6 125.0 115.0C127.5 115.4 130.0 117.5 132.5 120.0C135.0 122.5 137.7 126.2 140.0 130.0C142.3 133.8 144.4 139.0 146.2 142.5C148.1 146.0 149.8 149.4 151.2 151.2C152.7 153.1 154.0 153.2 155.0 153.8C156.0 154.3 156.9 154.3 157.2 154.4" fill="none" stroke="#141414" stroke-width="1.15"/>
<path d="M110.6 126.2C111.8 125.0 115.1 120.3 117.5 118.8C119.9 117.2 122.5 116.2 125.0 116.9C127.5 117.5 130.0 119.9 132.5 122.5C135.0 125.1 137.5 128.5 140.0 132.5C142.5 136.5 145.4 142.9 147.5 146.2C149.6 149.6 150.9 151.1 152.5 152.5C154.1 153.9 156.5 154.1 157.2 154.4" fill="none" stroke="#141414" stroke-width="1.15"/>
<path d="M110.6 126.2C112.2 126.9 117.0 128.3 120.0 130.0C123.0 131.7 126.2 134.6 128.8 136.2C131.2 137.9 132.5 138.5 135.0 140.0C137.5 141.5 141.0 143.8 143.8 145.0C146.5 146.2 149.0 147.0 151.2 147.5C153.5 148.0 155.2 148.1 157.2 148.1C159.3 148.1 161.6 148.4 163.8 147.5C165.9 146.6 167.9 144.6 170.0 142.5C172.1 140.4 174.2 137.0 176.2 135.0C178.3 133.0 180.6 131.4 182.5 130.6C184.4 129.9 185.9 130.3 187.5 130.6C189.1 130.9 191.2 132.2 192.0 132.5" fill="none" stroke="#141414" stroke-width="1.15"/>
<path d="M110.6 132.5C112.2 132.9 116.8 134.3 120.0 135.0C123.2 135.7 126.5 136.8 130.0 136.9C133.5 137.0 137.9 136.1 141.2 135.6C144.6 135.1 147.3 134.2 150.0 133.8C152.7 133.3 154.5 133.3 157.2 133.1C160.0 132.9 163.1 132.6 166.2 132.5C169.4 132.4 173.1 132.5 176.2 132.5C179.4 132.5 182.4 132.4 185.0 132.5C187.6 132.6 190.8 133.0 192.0 133.1" fill="none" stroke="#141414" stroke-width="1.15"/>
<path d="M110.6 132.5C111.8 132.9 115.1 134.2 117.5 135.0C119.9 135.8 122.7 136.2 125.0 137.5C127.3 138.8 129.2 140.4 131.2 142.5C133.3 144.6 135.4 148.2 137.5 150.0C139.6 151.8 141.5 152.5 143.8 153.1C146.0 153.8 149.0 153.5 151.2 153.8C153.5 154.0 154.8 154.5 157.2 154.8C159.8 155.0 162.9 155.1 166.2 155.2C169.6 155.4 173.2 155.4 177.5 155.6C181.8 155.9 189.6 156.7 192.0 156.9" fill="none" stroke="#141414" stroke-width="1.15"/>
<path d="M110.6 133.0C111.8 133.4 115.1 134.7 117.5 135.5C119.9 136.3 122.7 136.8 125.0 138.0C127.3 139.2 129.2 140.9 131.2 143.0C133.3 145.1 135.4 148.7 137.5 150.5C139.6 152.3 141.5 153.0 143.8 153.6C146.0 154.2 149.0 154.0 151.2 154.2C153.5 154.5 154.8 155.0 157.2 155.2C159.8 155.5 162.9 155.6 166.2 155.8C169.6 155.9 173.2 155.9 177.5 156.1C181.8 156.4 189.6 157.2 192.0 157.4" fill="none" stroke="#141414" stroke-width="1.15"/>
<path d="M110.6 133.1C111.8 134.1 115.1 136.6 117.5 138.8C119.9 140.9 122.5 143.5 125.0 146.2C127.5 149.0 130.2 152.1 132.5 155.0C134.8 157.9 137.1 161.5 138.8 163.8C140.4 166.0 141.0 168.0 142.5 168.8C144.0 169.5 145.8 168.8 147.5 168.1C149.2 167.5 150.9 166.0 152.5 165.0C154.1 164.0 155.6 162.2 157.2 161.9C158.9 161.6 160.4 162.3 162.5 163.1C164.6 164.0 167.5 165.9 170.0 166.9C172.5 167.8 175.0 168.6 177.5 168.8C180.0 168.9 182.6 168.1 185.0 167.5C187.4 166.9 190.8 165.4 192.0 165.0" fill="none" stroke="#141414" stroke-width="1.15"/>
<path d="M157.2 148.8C158.8 149.1 163.3 150.4 166.2 150.6C169.2 150.8 172.3 150.7 175.0 150.0C177.7 149.3 179.7 147.9 182.5 146.2C185.3 144.6 190.4 141.0 192.0 140.0" fill="none" stroke="#141414" stroke-width="1.15"/>
<path d="M157.2 154.4C158.8 154.4 163.3 155.1 166.2 154.8C169.2 154.4 172.3 153.3 175.0 152.5C177.7 151.7 179.7 150.8 182.5 150.0C185.3 149.2 190.4 147.9 192.0 147.5" fill="none" stroke="#141414" stroke-width="1.15"/>
<path d="M186.0 130.6C187.2 130.9 191.0 131.7 193.5 132.5C196.0 133.3 198.2 135.6 200.8 135.6C203.2 135.6 205.9 133.3 208.5 132.5C211.1 131.7 213.5 131.2 216.4 130.6C219.3 130.0 223.1 128.6 226.0 128.8C228.9 128.9 231.0 129.6 233.5 131.2C236.0 132.9 238.5 136.2 241.0 138.8C243.5 141.2 246.1 144.6 248.5 146.2C250.9 147.9 253.3 148.8 255.4 148.8C257.5 148.8 258.9 147.9 261.0 146.2C263.1 144.6 266.8 140.0 268.0 138.8" fill="none" stroke="#141414" stroke-width="1.15"/>
<path d="M186.0 133.1C187.2 133.2 191.0 133.2 193.5 133.8C196.0 134.3 198.2 135.5 200.8 136.2C203.2 137.0 205.9 137.5 208.5 138.1C211.1 138.7 213.9 140.1 216.4 139.8C218.9 139.4 220.6 137.5 223.5 136.2C226.4 135.0 230.4 133.1 233.5 132.5C236.6 131.9 238.6 132.6 242.2 132.8C245.9 132.9 251.1 133.0 255.4 133.1C259.7 133.3 265.9 133.6 268.0 133.8" fill="none" stroke="#141414" stroke-width="1.15"/>
<path d="M186.0 143.8C187.2 142.9 191.0 140.1 193.5 138.8C196.0 137.4 199.5 136.1 200.8 135.6" fill="none" stroke="#141414" stroke-width="1.15"/>
<path d="M216.4 130.6C217.6 131.5 221.1 133.6 223.5 135.6C225.9 137.6 228.5 140.5 231.0 142.5C233.5 144.5 236.0 146.2 238.5 147.5C241.0 148.8 243.2 149.6 246.0 150.0C248.8 150.4 252.5 150.2 255.4 150.0C258.3 149.8 261.4 149.4 263.5 148.8C265.6 148.1 267.2 146.7 268.0 146.2" fill="none" stroke="#141414" stroke-width="1.15"/>
<path d="M216.4 139.8C217.6 140.8 221.3 144.2 223.5 146.2C225.7 148.3 227.7 150.5 229.8 151.9C231.8 153.3 233.3 154.3 236.0 154.8C238.7 155.2 242.8 154.9 246.0 154.8C249.2 154.6 252.5 154.5 255.4 153.8C258.3 153.0 261.4 151.0 263.5 150.0C265.6 149.0 267.2 147.9 268.0 147.5" fill="none" stroke="#141414" stroke-width="1.15"/>
<path d="M186.0 156.2C187.2 156.4 191.0 156.6 193.5 156.9C196.0 157.2 198.2 158.0 200.8 158.1C203.2 158.3 205.9 157.9 208.5 157.8C211.1 157.6 213.9 157.8 216.4 157.5C218.9 157.2 220.6 156.6 223.5 156.2C226.4 155.9 230.2 155.8 233.5 155.6C236.8 155.4 239.9 155.1 243.5 155.0C247.1 154.9 251.3 155.0 255.4 154.8C259.5 154.5 265.9 153.9 268.0 153.8" fill="none" stroke="#141414" stroke-width="1.15"/>
<path d="M186.0 168.8C186.8 167.9 189.3 165.1 191.0 163.8C192.7 162.4 194.4 161.3 196.0 160.6C197.6 160.0 198.7 159.9 200.8 159.8C202.8 159.6 205.9 159.9 208.5 160.0C211.1 160.1 215.1 160.5 216.4 160.6" fill="none" stroke="#141414" stroke-width="1.15"/>
<path d="M186.0 170.0C187.2 170.0 191.0 169.8 193.5 169.8C196.0 169.7 196.9 169.7 200.8 169.8C204.6 169.8 212.6 169.6 216.4 170.0C220.2 170.4 222.3 171.7 223.5 172.0" fill="none" stroke="#141414" stroke-width="1.15"/>
<path d="M233.5 172.0C234.8 171.5 238.5 169.9 241.0 168.8C243.5 167.6 246.1 166.1 248.5 165.0C250.9 163.9 253.3 161.9 255.4 161.9C257.5 161.9 258.9 163.9 261.0 165.0C263.1 166.1 266.8 168.1 268.0 168.8" fill="none" stroke="#141414" stroke-width="1.15"/>
<path d="M250.0 133.1C250.9 133.2 253.1 133.4 255.6 133.5C258.1 133.6 261.8 133.6 265.0 133.8C268.2 133.9 272.1 134.1 275.0 134.4C277.9 134.7 280.4 135.5 282.5 135.6C284.6 135.7 285.4 135.7 287.5 135.0C289.6 134.3 292.1 132.5 295.0 131.2C297.9 130.0 301.3 128.5 305.0 127.5C308.7 126.5 315.1 125.4 317.1 125.0" fill="none" stroke="#141414" stroke-width="1.15"/>
<path d="M250.0 146.2C250.9 146.7 253.5 149.0 255.6 148.8C257.7 148.5 260.3 146.7 262.5 145.0C264.7 143.3 266.7 140.8 268.8 138.8C270.8 136.7 272.7 134.0 275.0 132.5C277.3 131.0 280.4 130.4 282.5 130.0C284.6 129.6 285.4 130.2 287.5 130.0C289.6 129.8 292.1 129.4 295.0 128.8C297.9 128.1 301.3 126.9 305.0 126.2C308.7 125.6 315.1 125.2 317.1 125.0" fill="none" stroke="#141414" stroke-width="1.15"/>
<path d="M255.6 150.0C256.8 150.2 260.3 151.5 262.5 151.2C264.7 151.0 266.7 150.0 268.8 148.8C270.8 147.5 272.7 145.7 275.0 143.8C277.3 141.8 280.0 138.6 282.5 136.9C285.0 135.1 287.1 134.3 290.0 133.1C292.9 132.0 295.5 131.4 300.0 130.0C304.5 128.6 314.3 125.8 317.1 125.0" fill="none" stroke="#141414" stroke-width="1.15"/>
<path d="M250.0 154.4C250.9 154.4 253.5 154.6 255.6 154.4C257.7 154.2 260.3 153.9 262.5 153.1C264.7 152.4 266.7 151.2 268.8 150.0C270.8 148.8 272.7 147.3 275.0 145.6C277.3 144.0 280.0 141.0 282.5 140.0C285.0 139.0 287.9 139.2 290.0 139.4C292.1 139.6 293.3 140.1 295.0 141.2C296.7 142.4 298.3 144.6 300.0 146.2C301.7 147.9 303.3 149.7 305.0 151.2C306.7 152.8 308.0 154.5 310.0 155.6C312.0 156.8 315.9 157.7 317.1 158.1" fill="none" stroke="#141414" stroke-width="1.15"/>
<path d="M250.0 152.5C250.9 152.6 253.5 153.0 255.6 153.1C257.7 153.2 259.7 153.0 262.5 153.1C265.3 153.2 270.0 154.5 272.5 153.8C275.0 153.0 275.6 151.0 277.5 148.8C279.4 146.5 281.7 142.3 283.8 140.0C285.8 137.7 287.3 136.6 290.0 135.0C292.7 133.4 298.3 131.4 300.0 130.6" fill="none" stroke="#141414" stroke-width="1.15"/>
<path d="M255.6 155.0C257.2 154.8 262.0 155.0 265.0 153.8C268.0 152.5 271.0 149.8 273.8 147.5C276.5 145.2 279.0 141.6 281.2 140.0C283.5 138.4 285.4 138.1 287.5 138.1C289.6 138.1 291.7 138.9 293.8 140.0C295.8 141.1 297.9 142.9 300.0 145.0C302.1 147.1 304.2 150.5 306.2 152.5C308.3 154.5 310.7 155.9 312.5 156.9C314.3 157.8 316.4 157.9 317.1 158.1" fill="none" stroke="#141414" stroke-width="1.15"/>
<path d="M250.0 163.8C250.9 163.3 253.5 161.0 255.6 161.2C257.7 161.5 260.3 163.9 262.5 165.0C264.7 166.1 266.9 168.5 268.8 168.1C270.6 167.7 272.1 164.2 273.8 162.5C275.4 160.8 276.5 159.1 278.8 158.1C281.0 157.2 284.0 157.1 287.5 156.9C291.0 156.7 296.2 156.8 300.0 156.9C303.8 157.0 307.1 157.3 310.0 157.5C312.9 157.7 315.9 158.0 317.1 158.1" fill="none" stroke="#141414" stroke-width="1.15"/>
<path d="M271.2 172.0C272.1 170.4 274.4 164.5 276.2 162.5C278.1 160.5 279.4 160.4 282.5 160.0C285.6 159.6 291.0 160.1 295.0 160.0C299.0 159.9 302.6 159.7 306.2 159.4C309.9 159.1 315.3 158.3 317.1 158.1" fill="none" stroke="#141414" stroke-width="1.15"/>
<path d="M268.8 172.0C270.8 171.5 277.1 169.6 281.2 168.8C285.4 167.9 289.6 167.5 293.8 166.9C297.9 166.2 302.4 165.4 306.2 165.0C310.1 164.6 315.3 164.5 317.1 164.4" fill="none" stroke="#141414" stroke-width="1.15"/>
<path d="M290.0 172.0C291.7 171.5 296.7 169.7 300.0 168.8C303.3 167.8 307.1 167.0 310.0 166.2C312.9 165.5 315.9 164.7 317.1 164.4" fill="none" stroke="#141414" stroke-width="1.15"/>
<path d="M34.0 180.5C34.8 179.0 37.1 174.5 39.0 171.8C40.9 169.0 43.4 166.0 45.2 164.2C47.1 162.5 48.8 161.3 50.2 161.1C51.7 160.9 52.5 162.1 54.0 163.0C55.5 163.9 57.3 165.9 59.0 166.8C60.7 167.6 61.9 167.9 64.0 168.0C66.1 168.1 68.6 167.9 71.5 167.4C74.4 166.9 78.6 165.6 81.5 164.9C84.4 164.1 86.8 163.4 89.0 163.0C91.2 162.6 92.6 162.4 94.9 162.4C97.2 162.3 100.1 162.6 102.8 162.8C105.4 162.9 108.3 162.9 110.5 163.0C112.7 163.1 115.1 163.5 116.0 163.6" fill="none" stroke="#141414" stroke-width="1.15"/>
<path d="M34.0 179.2C34.4 180.1 35.7 182.9 36.5 184.2C37.3 185.6 37.8 187.1 39.0 187.4C40.2 187.7 42.1 186.5 44.0 186.1C45.9 185.7 48.4 185.3 50.2 184.9C52.1 184.5 53.8 184.8 55.2 183.6C56.7 182.5 57.5 180.4 59.0 178.0C60.5 175.6 62.5 172.2 64.0 169.2C65.5 166.3 66.7 162.4 67.8 160.5C68.8 158.6 69.8 158.4 70.2 158.0" fill="none" stroke="#141414" stroke-width="1.15"/>
<path d="M34.0 195.5C34.8 194.9 37.3 192.6 39.0 191.8C40.7 190.9 42.1 190.8 44.0 190.5C45.9 190.2 48.4 190.4 50.2 189.9C52.1 189.4 53.8 188.9 55.2 187.4C56.7 185.8 57.8 182.9 59.0 180.5C60.2 178.1 61.5 175.5 62.8 173.0C64.0 170.5 65.9 166.8 66.5 165.5" fill="none" stroke="#141414" stroke-width="1.15"/>
<path d="M110.6 163.0C111.8 163.2 115.1 163.2 117.5 164.2C119.9 165.3 122.5 167.0 125.0 169.2C127.5 171.5 130.0 174.7 132.5 178.0C135.0 181.3 137.5 185.5 140.0 189.2C142.5 193.0 145.2 197.0 147.5 200.5C149.8 204.0 152.1 207.8 153.8 210.5C155.4 213.2 156.7 215.7 157.2 216.8" fill="none" stroke="#141414" stroke-width="1.15"/>
<path d="M110.6 163.0C112.2 163.1 117.0 162.8 120.0 163.6C123.0 164.5 126.2 166.4 128.8 168.0C131.2 169.6 132.9 170.7 135.0 173.0C137.1 175.3 139.2 178.4 141.2 181.8C143.3 185.1 145.6 189.0 147.5 193.0C149.4 197.0 150.9 201.5 152.5 205.5C154.1 209.5 156.5 214.9 157.2 216.8" fill="none" stroke="#141414" stroke-width="1.15"/>
<path d="M110.6 163.0C112.6 163.3 119.1 163.8 122.5 164.9C125.9 165.9 128.8 167.5 131.2 169.2C133.8 171.0 135.4 172.6 137.5 175.5C139.6 178.4 141.7 182.8 143.8 186.8C145.8 190.7 147.8 194.2 150.0 199.2C152.2 204.2 156.0 213.8 157.2 216.8" fill="none" stroke="#141414" stroke-width="1.15"/>
<path d="M135.0 169.9C136.0 169.9 139.2 170.2 141.2 169.9C143.3 169.6 145.6 168.8 147.5 168.0C149.4 167.2 150.9 165.9 152.5 164.9C154.1 163.8 155.6 162.0 157.2 161.8C158.9 161.5 160.4 162.5 162.5 163.6C164.6 164.8 167.7 167.6 170.0 168.6C172.3 169.7 173.8 169.8 176.2 169.9C178.8 170.0 182.4 169.2 185.0 169.2C187.6 169.2 190.8 169.8 192.0 169.9" fill="none" stroke="#141414" stroke-width="1.15"/>
<path d="M136.2 158.0C137.1 159.2 139.8 163.0 141.2 165.5C142.7 168.0 143.8 170.5 145.0 173.0C146.2 175.5 147.5 178.0 148.8 180.5C150.0 183.0 151.1 186.4 152.5 188.0C153.9 189.6 155.4 190.2 157.2 190.2C159.1 190.2 161.4 189.2 163.8 188.0C166.1 186.8 168.8 185.3 171.2 183.0C173.8 180.7 176.2 176.8 178.8 174.2C181.2 171.8 184.0 169.7 186.2 168.0C188.5 166.3 191.0 164.9 192.0 164.2" fill="none" stroke="#141414" stroke-width="1.15"/>
<path d="M128.8 168.0C129.8 168.6 132.9 170.0 135.0 171.8C137.1 173.5 139.2 177.0 141.2 178.6C143.3 180.3 145.6 180.8 147.5 181.8C149.4 182.7 150.9 183.7 152.5 184.2C154.1 184.8 155.6 184.9 157.2 184.9C158.9 184.9 160.4 184.8 162.5 184.2C164.6 183.7 167.5 182.8 170.0 181.8C172.5 180.7 175.0 179.0 177.5 178.0C180.0 177.0 182.6 176.1 185.0 175.5C187.4 174.9 190.8 174.5 192.0 174.2" fill="none" stroke="#141414" stroke-width="1.15"/>
<path d="M157.2 216.8C158.1 214.9 160.6 209.2 162.5 205.5C164.4 201.8 166.7 197.8 168.8 194.2C170.8 190.7 172.9 187.4 175.0 184.2C177.1 181.1 179.2 178.2 181.2 175.5C183.3 172.8 185.7 169.9 187.5 168.0C189.3 166.1 191.2 164.9 192.0 164.2" fill="none" stroke="#141414" stroke-width="1.15"/>
<path d="M157.2 216.8C158.3 214.7 161.4 208.4 163.8 204.2C166.1 200.1 169.0 195.5 171.2 191.8C173.5 188.0 175.2 185.1 177.5 181.8C179.8 178.4 182.6 174.5 185.0 171.8C187.4 169.0 190.8 166.5 192.0 165.5" fill="none" stroke="#141414" stroke-width="1.15"/>
<path d="M157.2 216.8C158.8 214.9 163.1 209.2 166.2 205.5C169.4 201.8 173.1 197.8 176.2 194.2C179.4 190.7 182.4 187.4 185.0 184.2C187.6 181.1 190.8 177.0 192.0 175.5" fill="none" stroke="#141414" stroke-width="1.15"/>
<path d="M186.0 168.0C187.2 167.2 191.1 164.3 193.5 163.0C195.9 161.7 196.8 160.7 200.6 160.2C204.4 159.8 212.6 159.6 216.4 160.2C220.2 160.9 221.1 162.5 223.5 164.2C225.9 166.0 228.9 168.9 231.0 170.5C233.1 172.1 233.9 173.6 236.0 173.6C238.1 173.6 241.0 172.1 243.5 170.5C246.0 168.9 249.0 165.7 251.0 164.2C253.0 162.8 253.7 161.5 255.4 161.8C257.0 162.0 258.9 164.1 261.0 165.5C263.1 166.9 266.8 169.1 268.0 169.9" fill="none" stroke="#141414" stroke-width="1.15"/>
<path d="M186.0 169.2C188.4 169.1 195.6 168.5 200.6 168.6C205.7 168.7 211.9 169.4 216.4 169.9C220.8 170.4 224.0 171.0 227.2 171.8C230.5 172.5 233.5 173.0 236.0 174.2C238.5 175.5 240.2 177.8 242.2 179.2C244.3 180.7 246.3 182.1 248.5 183.0C250.7 183.9 253.3 184.8 255.4 184.9C257.5 185.0 258.9 184.6 261.0 183.6C263.1 182.7 266.8 180.0 268.0 179.2" fill="none" stroke="#141414" stroke-width="1.15"/>
<path d="M186.0 176.8C187.2 176.1 191.1 174.0 193.5 173.0C195.9 172.0 198.1 170.6 200.6 170.5C203.1 170.4 205.9 171.9 208.5 172.4C211.1 172.9 215.1 173.4 216.4 173.6" fill="none" stroke="#141414" stroke-width="1.15"/>
<path d="M186.0 181.8C187.2 180.7 191.1 177.2 193.5 175.5C195.9 173.8 199.4 172.4 200.6 171.8" fill="none" stroke="#141414" stroke-width="1.15"/>
<path d="M236.0 174.2C237.0 175.3 240.2 178.4 242.2 180.5C244.3 182.6 246.3 185.1 248.5 186.8C250.7 188.4 253.3 190.3 255.4 190.5C257.5 190.7 258.9 188.6 261.0 188.0C263.1 187.4 266.8 187.0 268.0 186.8" fill="none" stroke="#141414" stroke-width="1.15"/>
<path d="M255.4 216.8C256.3 213.2 258.9 200.1 261.0 195.5C263.1 190.9 266.8 190.3 268.0 189.2" fill="none" stroke="#141414" stroke-width="1.15"/>
<path d="M255.4 216.8C256.7 214.7 261.4 207.4 263.5 204.2C265.6 201.1 267.2 199.0 268.0 198.0" fill="none" stroke="#141414" stroke-width="1.15"/>
<path d="M255.4 216.8C256.9 212.4 262.6 195.5 264.8 190.5C266.9 185.5 267.5 187.4 268.0 186.8" fill="none" stroke="#141414" stroke-width="1.15"/>
<path d="M250.0 163.0C250.9 162.8 253.5 161.3 255.6 161.8C257.7 162.2 260.5 164.5 262.5 165.5C264.5 166.5 265.8 168.0 267.5 168.0C269.2 168.0 270.8 166.8 272.5 165.5C274.2 164.2 275.8 161.8 277.5 160.5C279.2 159.2 281.7 158.4 282.5 158.0" fill="none" stroke="#141414" stroke-width="1.15"/>
<path d="M255.6 216.8C256.8 213.2 260.5 202.2 262.5 195.5C264.5 188.8 265.8 181.5 267.5 176.8C269.2 172.0 270.8 169.4 272.5 166.8C274.2 164.1 275.8 162.4 277.5 161.1C279.2 159.9 278.8 159.6 282.5 159.2C286.2 158.9 294.2 159.4 300.0 159.2C305.8 159.1 314.3 158.7 317.1 158.6" fill="none" stroke="#141414" stroke-width="1.15"/>
<path d="M250.0 183.6C250.9 183.9 253.5 185.1 255.6 185.2C257.7 185.4 259.7 185.2 262.5 184.2C265.3 183.2 269.2 180.7 272.5 179.2C275.8 177.8 279.2 176.8 282.5 175.5C285.8 174.2 289.2 173.1 292.5 171.8C295.8 170.4 298.4 168.6 302.5 167.4C306.6 166.1 314.7 164.8 317.1 164.2" fill="none" stroke="#141414" stroke-width="1.15"/>
<path d="M250.0 187.4C250.9 187.9 253.5 190.1 255.6 190.2C257.7 190.4 260.1 189.0 262.5 188.0C264.9 187.0 267.5 185.5 270.0 184.2C272.5 183.0 275.0 181.9 277.5 180.5C280.0 179.1 282.3 177.6 285.0 176.1C287.7 174.7 290.4 173.2 293.8 171.8C297.1 170.3 301.1 168.6 305.0 167.4C308.9 166.1 315.1 164.8 317.1 164.2" fill="none" stroke="#141414" stroke-width="1.15"/>
<path d="M255.6 216.8C256.8 215.1 260.1 210.1 262.5 206.8C264.9 203.4 267.5 199.9 270.0 196.8C272.5 193.6 274.6 190.9 277.5 188.0C280.4 185.1 284.2 182.0 287.5 179.2C290.8 176.5 294.2 173.8 297.5 171.8C300.8 169.7 304.2 168.0 307.5 166.8C310.8 165.5 315.5 164.7 317.1 164.2" fill="none" stroke="#141414" stroke-width="1.15"/>
<path d="M255.6 216.8C257.2 214.9 261.8 209.5 265.0 205.5C268.2 201.5 271.7 197.0 275.0 193.0C278.3 189.0 281.7 184.9 285.0 181.8C288.3 178.6 291.5 176.5 295.0 174.2C298.5 172.0 302.6 169.7 306.2 168.0C309.9 166.3 315.3 164.9 317.1 164.2" fill="none" stroke="#141414" stroke-width="1.15"/>
<path d="M255.6 216.8C257.4 214.2 263.0 206.8 266.2 201.8C269.5 196.8 272.3 190.7 275.0 186.8C277.7 182.8 279.8 180.5 282.5 178.0C285.2 175.5 287.9 173.6 291.2 171.8C294.6 169.9 298.2 168.0 302.5 166.8C306.8 165.5 314.7 164.7 317.1 164.2" fill="none" stroke="#141414" stroke-width="1.15"/>
<path d="M270.0 170.5C271.9 170.2 277.3 169.4 281.2 168.6C285.2 167.9 287.8 166.9 293.8 166.1C299.7 165.4 313.2 164.6 317.1 164.2" fill="none" stroke="#141414" stroke-width="1.15"/>
</g>
<path d="M34.0 195.5C34.6 194.9 36.7 192.3 37.8 191.8C38.8 191.2 39.2 190.5 40.2 192.4C41.3 194.2 42.3 198.9 44.0 203.0C45.7 207.1 49.2 214.5 50.2 216.8" fill="none" stroke="#d83030" stroke-width="1.3"/>
<path d="M50.2 216.8C51.1 213.8 53.4 205.3 55.2 199.2C57.1 193.2 59.2 185.3 61.5 180.5C63.8 175.7 66.5 173.2 69.0 170.5C71.5 167.8 74.0 165.7 76.5 164.2C79.0 162.8 81.9 162.1 84.0 161.8C86.1 161.4 87.2 162.2 89.0 162.4C90.8 162.5 93.9 162.7 94.9 162.8" fill="none" stroke="#d83030" stroke-width="1.3"/>
<path d="M34.0 194.2C35.0 195.7 38.2 200.1 40.2 203.0C42.3 205.9 44.8 209.5 46.5 211.8C48.2 214.0 49.6 215.9 50.2 216.8" fill="none" stroke="#30d030" stroke-width="1.3"/>
<path d="M50.2 216.8C51.3 214.2 54.2 207.0 56.5 201.8C58.8 196.5 61.5 190.3 64.0 185.5C66.5 180.7 69.0 176.1 71.5 173.0C74.0 169.9 76.5 168.3 79.0 166.8C81.5 165.2 83.9 164.3 86.5 163.6C89.1 163.0 93.5 162.9 94.9 162.8" fill="none" stroke="#30d030" stroke-width="1.3"/>
<path d="M34.0 198.0C35.2 199.5 38.8 203.6 41.5 206.8C44.2 209.9 48.8 215.1 50.2 216.8" fill="none" stroke="#2828d0" stroke-width="1.3"/>
<path d="M50.2 216.8C51.7 214.9 56.1 209.7 59.0 205.5C61.9 201.3 64.8 196.1 67.8 191.8C70.7 187.4 73.8 182.8 76.5 179.2C79.2 175.7 81.7 172.8 84.0 170.5C86.3 168.2 88.4 166.8 90.2 165.5C92.1 164.2 94.1 163.4 94.9 163.0" fill="none" stroke="#2828d0" stroke-width="1.3"/>
<path d="M216.4 160.5C217.6 161.1 221.1 162.5 223.5 164.2C225.9 166.0 228.5 168.6 231.0 171.1C233.5 173.6 236.2 176.0 238.5 179.2C240.8 182.5 242.7 186.1 244.8 190.5C246.8 194.9 249.2 201.1 251.0 205.5C252.8 209.9 254.6 214.9 255.4 216.8" fill="none" stroke="#30d030" stroke-width="1.3"/>
<path d="M216.4 173.6C217.6 173.1 221.3 170.8 223.5 170.5C225.7 170.2 227.7 170.5 229.8 171.8C231.8 173.0 233.9 175.3 236.0 178.0C238.1 180.7 240.2 184.2 242.2 188.0C244.3 191.8 246.3 195.7 248.5 200.5C250.7 205.3 254.2 214.0 255.4 216.8" fill="none" stroke="#d83030" stroke-width="1.3"/>
<path d="M216.4 173.6C217.6 174.4 220.6 175.6 223.5 178.0C226.4 180.4 230.6 184.7 233.5 188.0C236.4 191.3 238.5 194.9 241.0 198.0C243.5 201.1 246.1 203.6 248.5 206.8C250.9 209.9 254.2 215.1 255.4 216.8" fill="none" stroke="#2828d0" stroke-width="1.3"/>
<rect x="34.6" y="9.75" width="282.29999999999995" height="207.55" fill="none" stroke="#555" stroke-width="1.1"/>
<line x1="34.6" y1="217.30" x2="37.6" y2="217.30" stroke="#333" stroke-width="1"/>
<line x1="316.9" y1="217.30" x2="313.9" y2="217.30" stroke="#333" stroke-width="1"/>
<line x1="34.6" y1="202.48" x2="36.6" y2="202.48" stroke="#333" stroke-width="1"/>
<line x1="316.9" y1="202.48" x2="314.9" y2="202.48" stroke="#333" stroke-width="1"/>
<line x1="34.6" y1="187.65" x2="37.6" y2="187.65" stroke="#333" stroke-width="1"/>
<line x1="316.9" y1="187.65" x2="313.9" y2="187.65" stroke="#333" stroke-width="1"/>
<line x1="34.6" y1="172.83" x2="36.6" y2="172.83" stroke="#333" stroke-width="1"/>
<line x1="316.9" y1="172.83" x2="314.9" y2="172.83" stroke="#333" stroke-width="1"/>
<line x1="34.6" y1="158.00" x2="37.6" y2="158.00" stroke="#333" stroke-width="1"/>
<line x1="316.9" y1="158.00" x2="313.9" y2="158.00" stroke="#333" stroke-width="1"/>
<line x1="34.6" y1="143.18" x2="36.6" y2="143.18" stroke="#333" stroke-width="1"/>
<line x1="316.9" y1="143.18" x2="314.9" y2="143.18" stroke="#333" stroke-width="1"/>
<line x1="34.6" y1="128.35" x2="37.6" y2="128.35" stroke="#333" stroke-width="1"/>
<line x1="316.9" y1="128.35" x2="313.9" y2="128.35" stroke="#333" stroke-width="1"/>
<line x1="34.6" y1="113.53" x2="36.6" y2="113.53" stroke="#333" stroke-width="1"/>
<line x1="316.9" y1="113.53" x2="314.9" y2="113.53" stroke="#333" stroke-width="1"/>
<line x1="34.6" y1="98.70" x2="37.6" y2="98.70" stroke="#333" stroke-width="1"/>
<line x1="316.9" y1="98.70" x2="313.9" y2="98.70" stroke="#333" stroke-width="1"/>
<line x1="34.6" y1="83.88" x2="36.6" y2="83.88" stroke="#333" stroke-width="1"/>
<line x1="316.9" y1="83.88" x2="314.9" y2="83.88" stroke="#333" stroke-width="1"/>
<line x1="34.6" y1="69.05" x2="37.6" y2="69.05" stroke="#333" stroke-width="1"/>
<line x1="316.9" y1="69.05" x2="313.9" y2="69.05" stroke="#333" stroke-width="1"/>
<line x1="34.6" y1="54.23" x2="36.6" y2="54.23" stroke="#333" stroke-width="1"/>
<line x1="316.9" y1="54.23" x2="314.9" y2="54.23" stroke="#333" stroke-width="1"/>
<line x1="34.6" y1="39.40" x2="37.6" y2="39.40" stroke="#333" stroke-width="1"/>
<line x1="316.9" y1="39.40" x2="313.9" y2="39.40" stroke="#333" stroke-width="1"/>
<line x1="34.6" y1="24.58" x2="36.6" y2="24.58" stroke="#333" stroke-width="1"/>
<line x1="316.9" y1="24.58" x2="314.9" y2="24.58" stroke="#333" stroke-width="1"/>
<line x1="34.6" y1="9.75" x2="37.6" y2="9.75" stroke="#333" stroke-width="1"/>
<line x1="316.9" y1="9.75" x2="313.9" y2="9.75" stroke="#333" stroke-width="1"/>
<text x="31.0" y="220.9" font-size="12.5" text-anchor="end" fill="#222" >0</text>
<text x="31.0" y="191.25" font-size="12.5" text-anchor="end" fill="#222" >1</text>
<text x="31.0" y="161.6" font-size="12.5" text-anchor="end" fill="#222" >2</text>
<text x="31.0" y="131.95000000000002" font-size="12.5" text-anchor="end" fill="#222" >3</text>
<text x="31.0" y="102.30000000000001" font-size="12.5" text-anchor="end" fill="#222" >4</text>
<text x="31.0" y="72.65" font-size="12.5" text-anchor="end" fill="#222" >5</text>
<text x="31.0" y="43.000000000000036" font-size="12.5" text-anchor="end" fill="#222" >6</text>
<text x="31.0" y="13.350000000000028" font-size="12.5" text-anchor="end" fill="#222" >7</text>
<text x="34.6" y="233.8" font-size="13" text-anchor="middle" fill="#222" >X</text>
<text x="50.5" y="233.8" font-size="13" text-anchor="middle" fill="#222" >Γ</text>
<text x="94.6" y="233.8" font-size="13" text-anchor="middle" fill="#222" >Y</text>
<text x="110.5" y="233.8" font-size="13" text-anchor="middle" fill="#222" >P</text>
<text x="157.5" y="233.8" font-size="13" text-anchor="middle" fill="#222" >Γ</text>
<text x="200.5" y="233.8" font-size="13" text-anchor="middle" fill="#222" >A</text>
<text x="216.2" y="233.8" font-size="13" text-anchor="middle" fill="#222" >Z</text>
<text x="255.8" y="233.8" font-size="13" text-anchor="middle" fill="#222" >Γ</text>
<text x="316.9" y="233.8" font-size="13" text-anchor="middle" fill="#222" >T</text>
<line x1="384.9" y1="9.75" x2="384.9" y2="217.3" stroke="#999" stroke-width="1.4"/>
<line x1="428.0" y1="9.75" x2="428.0" y2="217.3" stroke="#999" stroke-width="1.4"/>
<line x1="443.8" y1="9.75" x2="443.8" y2="217.3" stroke="#999" stroke-width="1.4"/>
<line x1="489.8" y1="9.75" x2="489.8" y2="217.3" stroke="#999" stroke-width="1.4"/>
<line x1="533.6" y1="9.75" x2="533.6" y2="217.3" stroke="#333" stroke-width="1"/>
<line x1="549.5" y1="9.75" x2="549.5" y2="217.3" stroke="#333" stroke-width="1"/>
<line x1="590.0" y1="9.75" x2="590.0" y2="217.3" stroke="#333" stroke-width="1"/>
<defs><mask id="m369_0" maskUnits="userSpaceOnUse" x="0" y="0" width="656" height="497"><rect x="0" y="0" width="656" height="497" fill="#fff"/><rect x="368.5" y="7.5" width="83.0" height="63.0" fill="#000"/><rect x="450.5" y="7.5" width="83.0" height="63.0" fill="#000"/><rect x="532.5" y="7.5" width="83.0" height="63.0" fill="#000"/><rect x="614.5" y="7.5" width="38.0" height="63.0" fill="#000"/><rect x="368.5" y="69.5" width="83.0" height="63.0" fill="#000"/><rect x="450.5" y="69.5" width="83.0" height="63.0" fill="#000"/><rect x="532.5" y="69.5" width="83.0" height="63.0" fill="#000"/><rect x="614.5" y="69.5" width="38.0" height="63.0" fill="#000"/><rect x="368.5" y="131.5" width="83.0" height="45.0" fill="#000"/><rect x="450.5" y="131.5" width="83.0" height="45.0" fill="#000"/><rect x="532.5" y="131.5" width="83.0" height="45.0" fill="#000"/><rect x="614.5" y="131.5" width="38.0" height="45.0" fill="#000"/><rect x="368.5" y="175.5" width="83.0" height="43.0" fill="#000"/><rect x="450.5" y="175.5" width="83.0" height="43.0" fill="#000"/><rect x="532.5" y="175.5" width="83.0" height="43.0" fill="#000"/><rect x="614.5" y="175.5" width="38.0" height="43.0" fill="#000"/><rect x="440" y="110" width="82" height="62" fill="#000"/><rect x="440" y="172" width="82" height="46" fill="#000"/><rect x="444.6" y="146" width="45.39999999999998" height="36" fill="#000"/><rect x="490.6" y="140" width="42.60000000000002" height="36" fill="#000"/><rect x="490.6" y="166" width="42.60000000000002" height="36" fill="#000"/><rect x="575" y="140" width="77" height="62" fill="#000"/><rect x="420" y="10" width="70" height="62" fill="#000"/><rect x="437" y="72" width="81" height="60.5" fill="#000"/><rect x="575" y="90" width="77" height="60" fill="#000"/><rect x="491" y="58" width="83" height="60" fill="#000"/><rect x="541" y="100" width="59" height="46" fill="#000"/></mask><mask id="m369_1" maskUnits="userSpaceOnUse" x="0" y="0" width="656" height="497"><rect x="368.5" y="7.5" width="83.0" height="63.0" fill="#fff"/><rect x="450.5" y="7.5" width="83.0" height="63.0" fill="#000"/><rect x="368.5" y="69.5" width="83.0" height="63.0" fill="#000"/><rect x="450.5" y="69.5" width="83.0" height="63.0" fill="#000"/><rect x="420" y="10" width="70" height="62" fill="#000"/></mask><mask id="m369_2" maskUnits="userSpaceOnUse" x="0" y="0" width="656" height="497"><rect x="450.5" y="7.5" width="83.0" height="63.0" fill="#fff"/><rect x="532.5" y="7.5" width="83.0" height="63.0" fill="#000"/><rect x="368.5" y="69.5" width="83.0" height="63.0" fill="#000"/><rect x="450.5" y="69.5" width="83.0" height="63.0" fill="#000"/><rect x="532.5" y="69.5" width="83.0" height="63.0" fill="#000"/><rect x="420" y="10" width="70" height="62" fill="#000"/><rect x="491" y="58" width="83" height="60" fill="#000"/></mask><mask id="m369_3" maskUnits="userSpaceOnUse" x="0" y="0" width="656" height="497"><rect x="532.5" y="7.5" width="83.0" height="63.0" fill="#fff"/><rect x="614.5" y="7.5" width="38.0" height="63.0" fill="#000"/><rect x="450.5" y="69.5" width="83.0" height="63.0" fill="#000"/><rect x="532.5" y="69.5" width="83.0" height="63.0" fill="#000"/><rect x="614.5" y="69.5" width="38.0" height="63.0" fill="#000"/><rect x="491" y="58" width="83" height="60" fill="#000"/></mask><mask id="m369_4" maskUnits="userSpaceOnUse" x="0" y="0" width="656" height="497"><rect x="614.5" y="7.5" width="38.0" height="63.0" fill="#fff"/><rect x="532.5" y="69.5" width="83.0" height="63.0" fill="#000"/><rect x="614.5" y="69.5" width="38.0" height="63.0" fill="#000"/></mask><mask id="m369_5" maskUnits="userSpaceOnUse" x="0" y="0" width="656" height="497"><rect x="368.5" y="69.5" width="83.0" height="63.0" fill="#fff"/><rect x="450.5" y="69.5" width="83.0" height="63.0" fill="#000"/><rect x="368.5" y="131.5" width="83.0" height="45.0" fill="#000"/><rect x="450.5" y="131.5" width="83.0" height="45.0" fill="#000"/><rect x="440" y="110" width="82" height="62" fill="#000"/><rect x="420" y="10" width="70" height="62" fill="#000"/><rect x="437" y="72" width="81" height="60.5" fill="#000"/></mask><mask id="m369_6" maskUnits="userSpaceOnUse" x="0" y="0" width="656" height="497"><rect x="450.5" y="69.5" width="83.0" height="63.0" fill="#fff"/><rect x="532.5" y="69.5" width="83.0" height="63.0" fill="#000"/><rect x="368.5" y="131.5" width="83.0" height="45.0" fill="#000"/><rect x="450.5" y="131.5" width="83.0" height="45.0" fill="#000"/><rect x="532.5" y="131.5" width="83.0" height="45.0" fill="#000"/><rect x="440" y="110" width="82" height="62" fill="#000"/><rect x="420" y="10" width="70" height="62" fill="#000"/><rect x="437" y="72" width="81" height="60.5" fill="#000"/><rect x="491" y="58" width="83" height="60" fill="#000"/></mask><mask id="m369_7" maskUnits="userSpaceOnUse" x="0" y="0" width="656" height="497"><rect x="532.5" y="69.5" width="83.0" height="63.0" fill="#fff"/><rect x="614.5" y="69.5" width="38.0" height="63.0" fill="#000"/><rect x="450.5" y="131.5" width="83.0" height="45.0" fill="#000"/><rect x="532.5" y="131.5" width="83.0" height="45.0" fill="#000"/><rect x="614.5" y="131.5" width="38.0" height="45.0" fill="#000"/><rect x="575" y="90" width="77" height="60" fill="#000"/><rect x="491" y="58" width="83" height="60" fill="#000"/><rect x="541" y="100" width="59" height="46" fill="#000"/></mask><mask id="m369_8" maskUnits="userSpaceOnUse" x="0" y="0" width="656" height="497"><rect x="614.5" y="69.5" width="38.0" height="63.0" fill="#fff"/><rect x="532.5" y="131.5" width="83.0" height="45.0" fill="#000"/><rect x="614.5" y="131.5" width="38.0" height="45.0" fill="#000"/><rect x="575" y="90" width="77" height="60" fill="#000"/></mask><mask id="m369_9" maskUnits="userSpaceOnUse" x="0" y="0" width="656" height="497"><rect x="368.5" y="131.5" width="83.0" height="45.0" fill="#fff"/><rect x="450.5" y="131.5" width="83.0" height="45.0" fill="#000"/><rect x="368.5" y="175.5" width="83.0" height="43.0" fill="#000"/><rect x="450.5" y="175.5" width="83.0" height="43.0" fill="#000"/><rect x="440" y="110" width="82" height="62" fill="#000"/><rect x="440" y="172" width="82" height="46" fill="#000"/><rect x="444.6" y="146" width="45.39999999999998" height="36" fill="#000"/><rect x="437" y="72" width="81" height="60.5" fill="#000"/></mask><mask id="m369_10" maskUnits="userSpaceOnUse" x="0" y="0" width="656" height="497"><rect x="450.5" y="131.5" width="83.0" height="45.0" fill="#fff"/><rect x="532.5" y="131.5" width="83.0" height="45.0" fill="#000"/><rect x="368.5" y="175.5" width="83.0" height="43.0" fill="#000"/><rect x="450.5" y="175.5" width="83.0" height="43.0" fill="#000"/><rect x="532.5" y="175.5" width="83.0" height="43.0" fill="#000"/><rect x="440" y="110" width="82" height="62" fill="#000"/><rect x="440" y="172" width="82" height="46" fill="#000"/><rect x="444.6" y="146" width="45.39999999999998" height="36" fill="#000"/><rect x="490.6" y="140" width="42.60000000000002" height="36" fill="#000"/><rect x="490.6" y="166" width="42.60000000000002" height="36" fill="#000"/><rect x="437" y="72" width="81" height="60.5" fill="#000"/></mask><mask id="m369_11" maskUnits="userSpaceOnUse" x="0" y="0" width="656" height="497"><rect x="532.5" y="131.5" width="83.0" height="45.0" fill="#fff"/><rect x="614.5" y="131.5" width="38.0" height="45.0" fill="#000"/><rect x="450.5" y="175.5" width="83.0" height="43.0" fill="#000"/><rect x="532.5" y="175.5" width="83.0" height="43.0" fill="#000"/><rect x="614.5" y="175.5" width="38.0" height="43.0" fill="#000"/><rect x="490.6" y="140" width="42.60000000000002" height="36" fill="#000"/><rect x="490.6" y="166" width="42.60000000000002" height="36" fill="#000"/><rect x="575" y="140" width="77" height="62" fill="#000"/><rect x="575" y="90" width="77" height="60" fill="#000"/><rect x="541" y="100" width="59" height="46" fill="#000"/></mask><mask id="m369_12" maskUnits="userSpaceOnUse" x="0" y="0" width="656" height="497"><rect x="614.5" y="131.5" width="38.0" height="45.0" fill="#fff"/><rect x="532.5" y="175.5" width="83.0" height="43.0" fill="#000"/><rect x="614.5" y="175.5" width="38.0" height="43.0" fill="#000"/><rect x="575" y="140" width="77" height="62" fill="#000"/><rect x="575" y="90" width="77" height="60" fill="#000"/></mask><mask id="m369_13" maskUnits="userSpaceOnUse" x="0" y="0" width="656" height="497"><rect x="368.5" y="175.5" width="83.0" height="43.0" fill="#fff"/><rect x="450.5" y="175.5" width="83.0" height="43.0" fill="#000"/><rect x="440" y="172" width="82" height="46" fill="#000"/><rect x="444.6" y="146" width="45.39999999999998" height="36" fill="#000"/></mask><mask id="m369_14" maskUnits="userSpaceOnUse" x="0" y="0" width="656" height="497"><rect x="450.5" y="175.5" width="83.0" height="43.0" fill="#fff"/><rect x="532.5" y="175.5" width="83.0" height="43.0" fill="#000"/><rect x="440" y="172" width="82" height="46" fill="#000"/><rect x="444.6" y="146" width="45.39999999999998" height="36" fill="#000"/><rect x="490.6" y="140" width="42.60000000000002" height="36" fill="#000"/><rect x="490.6" y="166" width="42.60000000000002" height="36" fill="#000"/></mask><mask id="m369_15" maskUnits="userSpaceOnUse" x="0" y="0" width="656" height="497"><rect x="532.5" y="175.5" width="83.0" height="43.0" fill="#fff"/><rect x="614.5" y="175.5" width="38.0" height="43.0" fill="#000"/><rect x="490.6" y="140" width="42.60000000000002" height="36" fill="#000"/><rect x="490.6" y="166" width="42.60000000000002" height="36" fill="#000"/><rect x="575" y="140" width="77" height="62" fill="#000"/></mask><mask id="m369_16" maskUnits="userSpaceOnUse" x="0" y="0" width="656" height="497"><rect x="614.5" y="175.5" width="38.0" height="43.0" fill="#fff"/><rect x="575" y="140" width="77" height="62" fill="#000"/></mask><mask id="m369_17" maskUnits="userSpaceOnUse" x="0" y="0" width="656" height="497"><rect x="440" y="110" width="82" height="62" fill="#fff"/><rect x="444.6" y="146" width="45.39999999999998" height="36" fill="#000"/><rect x="490.6" y="140" width="42.60000000000002" height="36" fill="#000"/><rect x="490.6" y="166" width="42.60000000000002" height="36" fill="#000"/><rect x="437" y="72" width="81" height="60.5" fill="#000"/><rect x="491" y="58" width="83" height="60" fill="#000"/></mask><mask id="m369_18" maskUnits="userSpaceOnUse" x="0" y="0" width="656" height="497"><rect x="440" y="172" width="82" height="46" fill="#fff"/><rect x="444.6" y="146" width="45.39999999999998" height="36" fill="#000"/><rect x="490.6" y="140" width="42.60000000000002" height="36" fill="#000"/><rect x="490.6" y="166" width="42.60000000000002" height="36" fill="#000"/></mask><mask id="m369_19" maskUnits="userSpaceOnUse" x="0" y="0" width="656" height="497"><rect x="444.6" y="146" width="45.39999999999998" height="36" fill="#fff"/></mask><mask id="m369_20" maskUnits="userSpaceOnUse" x="0" y="0" width="656" height="497"><rect x="490.6" y="140" width="42.60000000000002" height="36" fill="#fff"/><rect x="490.6" y="166" width="42.60000000000002" height="36" fill="#000"/></mask><mask id="m369_21" maskUnits="userSpaceOnUse" x="0" y="0" width="656" height="497"><rect x="490.6" y="166" width="42.60000000000002" height="36" fill="#fff"/></mask><mask id="m369_22" maskUnits="userSpaceOnUse" x="0" y="0" width="656" height="497"><rect x="575" y="140" width="77" height="62" fill="#fff"/><rect x="575" y="90" width="77" height="60" fill="#000"/><rect x="541" y="100" width="59" height="46" fill="#000"/></mask><mask id="m369_23" maskUnits="userSpaceOnUse" x="0" y="0" width="656" height="497"><rect x="420" y="10" width="70" height="62" fill="#fff"/></mask><mask id="m369_24" maskUnits="userSpaceOnUse" x="0" y="0" width="656" height="497"><rect x="437" y="72" width="81" height="60.5" fill="#fff"/><rect x="491" y="58" width="83" height="60" fill="#000"/></mask><mask id="m369_25" maskUnits="userSpaceOnUse" x="0" y="0" width="656" height="497"><rect x="575" y="90" width="77" height="60" fill="#fff"/><rect x="541" y="100" width="59" height="46" fill="#000"/></mask><mask id="m369_26" maskUnits="userSpaceOnUse" x="0" y="0" width="656" height="497"><rect x="491" y="58" width="83" height="60" fill="#fff"/><rect x="541" y="100" width="59" height="46" fill="#000"/></mask><mask id="m369_27" maskUnits="userSpaceOnUse" x="0" y="0" width="656" height="497"><rect x="541" y="100" width="59" height="46" fill="#fff"/></mask></defs>
<g mask="url(#m369_1)">
<path d="M369.0 32.4C370.2 31.6 373.8 29.0 376.5 28.0C379.2 27.0 382.1 26.6 385.0 26.1C387.9 25.6 390.8 25.6 394.0 24.9C397.2 24.1 400.9 22.5 404.0 21.8C407.1 21.0 410.2 20.4 412.8 20.5C415.2 20.6 417.1 21.4 419.0 22.4C420.9 23.3 422.5 25.1 424.0 26.1C425.5 27.2 425.9 28.0 428.0 28.6C430.1 29.2 433.8 29.5 436.5 29.9C439.2 30.3 441.6 31.9 444.0 31.1C446.4 30.4 449.8 26.4 451.0 25.5" fill="none" stroke="#141414" stroke-width="1.15"/>
<path d="M369.0 32.4C370.2 32.7 373.8 33.8 376.5 34.2C379.2 34.7 383.6 34.8 385.0 34.9" fill="none" stroke="#141414" stroke-width="1.15"/>
<path d="M369.0 41.1C370.2 41.1 373.8 41.1 376.5 41.1C379.2 41.2 382.1 41.4 385.0 41.5C387.9 41.6 391.2 42.4 394.0 41.5C396.8 40.6 399.2 38.1 401.5 36.1C403.8 34.2 405.7 31.5 407.8 29.9C409.8 28.3 412.1 27.1 414.0 26.5C415.9 25.9 417.3 26.0 419.0 26.5C420.7 27.0 422.5 28.4 424.0 29.2C425.5 30.1 425.9 31.0 428.0 31.5C430.1 32.0 433.8 32.4 436.5 32.4C439.2 32.3 442.8 31.3 444.0 31.1" fill="none" stroke="#141414" stroke-width="1.15"/>
<path d="M385.0 41.5C386.5 41.3 391.0 41.0 394.0 40.5C397.0 40.0 400.0 39.1 402.8 38.6C405.5 38.1 407.8 37.8 410.2 37.4C412.8 37.0 415.5 36.6 417.8 36.1C420.0 35.6 422.3 35.2 424.0 34.2C425.7 33.3 427.3 31.1 428.0 30.5" fill="none" stroke="#141414" stroke-width="1.15"/>
<path d="M369.0 43.0C370.2 43.6 373.8 46.3 376.5 46.8C379.2 47.2 382.1 45.5 385.0 45.5C387.9 45.5 391.2 45.9 394.0 46.8C396.8 47.6 399.4 49.6 401.5 50.5C403.6 51.4 404.6 52.6 406.5 52.4C408.4 52.2 410.7 50.4 412.8 49.2C414.8 48.1 416.7 46.5 419.0 45.5C421.3 44.5 423.6 43.0 426.5 43.0C429.4 43.0 433.6 44.8 436.5 45.5C439.4 46.2 441.6 47.6 444.0 47.4C446.4 47.2 449.8 44.8 451.0 44.2" fill="none" stroke="#141414" stroke-width="1.15"/>
<path d="M385.0 44.2C386.5 44.2 391.2 44.8 394.0 44.2C396.8 43.7 399.4 41.6 401.5 41.1C403.6 40.6 404.4 40.6 406.5 41.1C408.6 41.6 411.5 43.1 414.0 44.2C416.5 45.4 419.4 47.1 421.5 48.0C423.6 48.9 425.7 49.6 426.5 49.9" fill="none" stroke="#141414" stroke-width="1.15"/>
<path d="M369.0 49.2C370.2 49.6 373.8 50.6 376.5 51.1C379.2 51.6 382.1 52.3 385.0 52.4C387.9 52.5 391.2 52.3 394.0 51.8C396.8 51.2 399.4 49.9 401.5 49.2C403.6 48.6 404.6 48.5 406.5 48.0C408.4 47.5 410.7 46.6 412.8 46.1C414.8 45.6 416.7 45.2 419.0 44.9C421.3 44.6 423.6 44.1 426.5 44.2C429.4 44.4 433.6 45.0 436.5 45.5C439.4 46.0 441.6 46.6 444.0 47.4C446.4 48.1 449.8 49.5 451.0 49.9" fill="none" stroke="#141414" stroke-width="1.15"/>
<path d="M369.0 66.1C370.2 65.5 373.8 63.5 376.5 62.4C379.2 61.2 381.7 60.0 385.0 59.2C388.3 58.5 392.9 58.6 396.5 58.0C400.1 57.4 403.8 57.0 406.5 55.5C409.2 54.0 410.7 50.9 412.8 49.2C414.8 47.6 418.0 46.1 419.0 45.5" fill="none" stroke="#141414" stroke-width="1.15"/>
<path d="M369.0 69.2C370.7 69.0 376.3 68.1 379.0 68.0C381.7 67.9 382.5 68.6 385.0 68.6C387.5 68.6 391.2 68.9 394.0 68.0C396.8 67.1 399.0 64.7 401.5 63.0C404.0 61.3 406.1 59.9 409.0 58.0C411.9 56.1 416.1 53.8 419.0 51.8C421.9 49.7 425.0 46.8 426.5 45.5C428.0 44.2 427.8 44.5 428.0 44.2" fill="none" stroke="#141414" stroke-width="1.15"/>
<path d="M394.0 70.0C394.8 68.4 397.3 63.1 399.0 60.5C400.7 57.9 402.1 56.3 404.0 54.2C405.9 52.2 408.2 49.5 410.2 48.0C412.3 46.5 414.2 45.9 416.5 45.5C418.8 45.1 422.8 45.5 424.0 45.5" fill="none" stroke="#141414" stroke-width="1.15"/>
<path d="M399.0 70.0C400.2 69.0 403.6 65.6 406.5 64.2C409.4 62.9 413.6 62.4 416.5 61.8C419.4 61.1 421.5 60.9 424.0 60.5C426.5 60.1 428.2 59.4 431.5 59.2C434.8 59.1 440.8 59.2 444.0 59.9C447.2 60.5 449.8 62.5 451.0 63.0" fill="none" stroke="#141414" stroke-width="1.15"/>
<path d="M394.0 70.0C395.2 69.5 399.0 67.9 401.5 66.8C404.0 65.6 406.5 63.9 409.0 63.0C411.5 62.1 414.0 61.6 416.5 61.1C419.0 60.6 422.8 60.1 424.0 59.9" fill="none" stroke="#141414" stroke-width="1.15"/>
<path d="M406.5 70.0C407.8 69.5 411.5 67.9 414.0 66.8C416.5 65.6 419.2 64.0 421.5 63.0C423.8 62.0 425.5 61.0 428.0 60.5C430.5 60.0 433.8 60.0 436.5 59.9C439.2 59.8 442.8 59.9 444.0 59.9" fill="none" stroke="#141414" stroke-width="1.15"/>
</g>
<g mask="url(#m369_2)">
<path d="M451.0 25.5C452.0 24.9 455.0 22.8 457.2 21.8C459.5 20.8 462.0 19.6 464.8 19.5C467.5 19.4 470.8 20.3 473.5 21.1C476.2 21.9 478.2 23.4 481.0 24.2C483.8 25.1 487.1 26.4 490.0 26.5C492.9 26.6 495.8 25.6 498.5 24.9C501.2 24.2 503.5 23.4 506.0 22.4C508.5 21.3 511.0 19.5 513.5 18.6C516.0 17.7 518.5 17.1 521.0 17.0C523.5 16.9 526.5 17.5 528.5 17.8C530.5 18.0 532.2 18.5 533.0 18.6" fill="none" stroke="#141414" stroke-width="1.15"/>
<path d="M451.0 26.8C452.2 26.3 456.4 24.6 458.5 24.2C460.6 23.9 461.6 24.0 463.5 24.9C465.4 25.7 467.7 27.6 469.8 29.2C471.8 30.9 473.7 33.1 476.0 34.9C478.3 36.6 481.2 38.8 483.5 39.9C485.8 41.0 487.5 41.6 490.0 41.5C492.5 41.4 495.8 40.2 498.5 39.2C501.2 38.2 503.5 36.9 506.0 35.5C508.5 34.1 511.0 32.4 513.5 31.1C516.0 29.9 518.5 28.8 521.0 28.0C523.5 27.2 526.5 26.5 528.5 26.1C530.5 25.7 532.2 25.6 533.0 25.5" fill="none" stroke="#141414" stroke-width="1.15"/>
<path d="M451.0 36.5C452.0 37.1 455.0 39.2 457.2 39.9C459.5 40.6 462.7 40.8 464.8 40.8C466.8 40.8 467.9 39.6 469.8 39.9C471.6 40.1 473.7 41.5 476.0 42.4C478.3 43.2 481.2 44.4 483.5 44.9C485.8 45.4 487.5 45.2 490.0 45.2C492.5 45.3 495.8 45.8 498.5 45.2C501.2 44.7 503.5 43.2 506.0 41.8C508.5 40.3 511.0 38.4 513.5 36.8C516.0 35.1 518.5 33.2 521.0 31.8C523.5 30.3 526.5 28.8 528.5 28.0C530.5 27.2 532.2 27.0 533.0 26.8" fill="none" stroke="#141414" stroke-width="1.15"/>
<path d="M451.0 44.2C452.2 44.1 456.2 43.4 458.5 43.6C460.8 43.8 462.7 44.6 464.8 45.5C466.8 46.4 468.7 48.6 471.0 49.2C473.3 49.9 476.0 49.6 478.5 49.2C481.0 48.9 484.1 47.8 486.0 47.4C487.9 47.0 488.5 46.5 490.0 46.8C491.5 47.0 493.1 47.2 494.8 48.6C496.4 50.1 498.3 54.6 499.8 55.5C501.2 56.4 501.8 55.5 503.5 54.2C505.2 53.0 507.7 49.5 509.8 48.0C511.8 46.5 513.3 46.0 516.0 45.5C518.7 45.0 523.2 45.1 526.0 44.9C528.8 44.7 531.8 44.4 533.0 44.2" fill="none" stroke="#141414" stroke-width="1.15"/>
<path d="M451.0 49.9C452.2 50.0 455.8 50.1 458.5 50.5C461.2 50.9 464.3 51.5 467.2 52.4C470.2 53.2 473.3 54.6 476.0 55.5C478.7 56.4 481.2 57.4 483.5 58.0C485.8 58.6 487.5 58.6 490.0 59.2C492.5 59.9 496.0 60.7 498.5 61.8C501.0 62.8 502.7 65.3 504.8 65.5C506.8 65.7 508.7 64.0 511.0 63.0C513.3 62.0 516.0 60.3 518.5 59.2C521.0 58.2 523.6 57.4 526.0 56.8C528.4 56.1 531.8 55.7 533.0 55.5" fill="none" stroke="#141414" stroke-width="1.15"/>
<path d="M451.0 44.2C452.0 44.4 455.2 44.2 457.2 44.9C459.3 45.5 461.6 47.0 463.5 48.0C465.4 49.0 467.0 49.7 468.5 51.1C470.0 52.6 471.0 54.6 472.2 56.8C473.5 58.9 474.8 62.0 476.0 64.2C477.2 66.5 479.1 69.0 479.8 70.0" fill="none" stroke="#141414" stroke-width="1.15"/>
<path d="M451.0 59.2C452.2 59.2 456.0 58.8 458.5 59.2C461.0 59.7 463.5 60.7 466.0 61.8C468.5 62.8 471.4 64.1 473.5 65.5C475.6 66.9 477.7 69.2 478.5 70.0" fill="none" stroke="#141414" stroke-width="1.15"/>
<path d="M451.0 64.9C451.6 65.4 453.7 67.1 454.8 68.0C455.8 68.9 456.8 69.7 457.2 70.0" fill="none" stroke="#141414" stroke-width="1.15"/>
<path d="M490.0 50.5C491.0 50.6 493.8 51.0 496.0 51.1C498.2 51.2 501.0 51.6 503.5 51.1C506.0 50.6 508.5 48.9 511.0 48.0C513.5 47.1 516.0 46.0 518.5 45.5C521.0 45.0 524.8 45.0 526.0 44.9" fill="none" stroke="#141414" stroke-width="1.15"/>
<path d="M507.2 70.0C508.7 68.8 513.3 65.0 516.0 63.0C518.7 61.0 520.7 59.1 523.5 58.0C526.3 56.9 531.4 56.4 533.0 56.1" fill="none" stroke="#141414" stroke-width="1.15"/>
<path d="M513.5 70.0C514.8 69.0 518.5 65.8 521.0 64.2C523.5 62.7 526.5 61.3 528.5 60.5C530.5 59.7 532.2 59.5 533.0 59.2" fill="none" stroke="#141414" stroke-width="1.15"/>
</g>
<g mask="url(#m369_3)">
<path d="M533.0 18.6C534.2 18.5 537.8 18.0 540.5 17.8C543.2 17.5 546.8 17.0 549.2 17.0C551.8 17.0 553.2 17.2 555.5 18.0C557.8 18.8 560.5 20.7 563.0 21.8C565.5 22.8 567.6 23.6 570.5 24.2C573.4 24.9 577.2 25.1 580.5 25.5C583.8 25.9 587.4 26.6 590.5 26.5C593.6 26.4 596.3 25.4 599.2 24.9C602.2 24.3 605.4 23.4 608.0 23.2C610.6 23.1 613.8 24.1 615.0 24.2" fill="none" stroke="#141414" stroke-width="1.15"/>
<path d="M549.2 17.0C550.7 17.5 555.5 18.9 558.0 19.9C560.5 20.9 562.2 22.3 564.2 23.0C566.3 23.7 569.5 24.0 570.5 24.2" fill="none" stroke="#141414" stroke-width="1.15"/>
<path d="M533.0 25.5C534.2 25.4 537.8 25.0 540.5 24.9C543.2 24.7 546.8 24.4 549.2 24.5C551.8 24.6 553.4 24.7 555.5 25.5C557.6 26.3 559.5 27.8 561.8 29.2C564.0 30.7 566.8 32.7 569.2 34.2C571.8 35.8 574.2 37.5 576.8 38.6C579.2 39.8 582.0 40.6 584.2 41.1C586.5 41.6 588.2 41.7 590.5 41.5C592.8 41.3 595.5 40.5 598.0 39.9C600.5 39.3 602.7 38.2 605.5 38.0C608.3 37.8 613.4 38.5 615.0 38.6" fill="none" stroke="#141414" stroke-width="1.15"/>
<path d="M549.2 24.5C550.7 25.0 555.3 26.0 558.0 27.4C560.7 28.8 563.0 31.0 565.5 33.0C568.0 35.0 570.5 37.5 573.0 39.2C575.5 41.0 578.0 42.6 580.5 43.6C583.0 44.7 586.3 45.2 588.0 45.5C589.7 45.8 588.8 45.6 590.5 45.5C592.2 45.4 595.5 45.2 598.0 44.9C600.5 44.6 602.7 43.9 605.5 43.6C608.3 43.3 613.4 43.1 615.0 43.0" fill="none" stroke="#141414" stroke-width="1.15"/>
<path d="M590.5 34.2C592.6 34.2 599.7 34.7 603.0 34.2C606.3 33.8 608.5 32.3 610.5 31.8C612.5 31.2 614.2 31.2 615.0 31.1" fill="none" stroke="#141414" stroke-width="1.15"/>
<path d="M533.0 44.9C534.2 45.1 537.8 45.8 540.5 46.1C543.2 46.4 546.3 46.6 549.2 46.8C552.2 46.9 554.7 46.8 558.0 46.8C561.3 46.8 566.1 45.7 569.2 46.8C572.4 47.8 574.5 50.7 576.8 53.0C579.0 55.3 581.1 58.4 583.0 60.5C584.9 62.6 586.8 64.6 588.0 65.5C589.2 66.4 588.8 66.5 590.5 66.1C592.2 65.7 595.5 64.4 598.0 63.0C600.5 61.6 602.7 59.9 605.5 58.0C608.3 56.1 613.4 52.8 615.0 51.8" fill="none" stroke="#141414" stroke-width="1.15"/>
<path d="M549.2 46.8C550.7 47.8 555.5 50.9 558.0 53.0C560.5 55.1 562.2 57.6 564.2 59.2C566.3 60.9 568.2 62.6 570.5 63.0C572.8 63.4 575.5 63.4 578.0 61.8C580.5 60.1 583.4 55.3 585.5 53.0C587.6 50.7 588.4 48.4 590.5 48.0C592.6 47.6 595.5 49.7 598.0 50.5C600.5 51.3 602.7 52.6 605.5 53.0C608.3 53.4 613.4 53.0 615.0 53.0" fill="none" stroke="#141414" stroke-width="1.15"/>
<path d="M533.0 56.8C534.2 57.0 537.8 57.8 540.5 58.0C543.2 58.2 546.3 57.6 549.2 58.0C552.2 58.4 555.5 60.5 558.0 60.5C560.5 60.5 561.8 59.4 564.2 58.0C566.8 56.6 570.3 53.3 573.0 52.4C575.7 51.4 578.0 52.3 580.5 52.4C583.0 52.5 585.1 52.7 588.0 53.0C590.9 53.3 594.7 54.0 598.0 54.2C601.3 54.5 605.2 54.4 608.0 54.2C610.8 54.1 613.8 53.7 615.0 53.6" fill="none" stroke="#141414" stroke-width="1.15"/>
<path d="M533.0 57.4C534.2 57.9 537.8 59.5 540.5 60.5C543.2 61.5 546.3 62.9 549.2 63.6C552.2 64.4 555.3 64.4 558.0 64.9C560.7 65.4 563.4 65.9 565.5 66.8C567.6 67.6 569.7 69.5 570.5 70.0" fill="none" stroke="#141414" stroke-width="1.15"/>
<path d="M533.0 63.0C535.7 63.0 545.1 62.8 549.2 63.0C553.4 63.2 555.3 63.6 558.0 64.2C560.7 64.9 563.8 65.8 565.5 66.8C567.2 67.7 567.6 69.5 568.0 70.0" fill="none" stroke="#141414" stroke-width="1.15"/>
<path d="M570.5 63.0C572.2 62.8 577.2 62.0 580.5 61.8C583.8 61.5 587.6 62.0 590.5 61.8C593.4 61.5 595.1 60.9 598.0 60.5C600.9 60.1 605.2 59.7 608.0 59.2C610.8 58.8 613.8 58.2 615.0 58.0" fill="none" stroke="#141414" stroke-width="1.15"/>
<path d="M598.0 70.0C599.2 69.2 602.7 66.9 605.5 65.5C608.3 64.1 613.4 62.4 615.0 61.8" fill="none" stroke="#141414" stroke-width="1.15"/>
</g>
<g mask="url(#m369_4)">
<path d="M574.0 24.2C575.2 24.5 578.8 25.1 581.5 25.5C584.2 25.9 587.3 26.8 590.2 26.8C593.2 26.8 596.3 26.0 599.0 25.5C601.7 25.0 604.2 24.0 606.5 23.6C608.8 23.2 610.9 22.9 612.8 23.2C614.6 23.6 615.9 24.2 617.8 25.5C619.6 26.8 621.7 29.2 624.0 31.1C626.3 33.0 629.0 35.0 631.5 36.8C634.0 38.5 636.7 40.4 639.0 41.8C641.3 43.1 643.2 44.1 645.2 44.9C647.3 45.6 650.2 45.9 651.2 46.1" fill="none" stroke="#141414" stroke-width="1.15"/>
<path d="M590.2 34.2C592.5 34.2 600.0 34.8 604.0 34.2C608.0 33.7 611.1 31.6 614.0 31.1C616.9 30.6 619.4 30.8 621.5 31.1C623.6 31.4 624.4 31.9 626.5 33.0C628.6 34.1 631.5 36.3 634.0 38.0C636.5 39.7 639.4 41.8 641.5 43.0C643.6 44.2 644.9 45.0 646.5 45.5C648.1 46.0 650.5 46.0 651.2 46.1" fill="none" stroke="#141414" stroke-width="1.15"/>
<path d="M574.0 34.2C575.2 34.9 578.8 36.8 581.5 38.0C584.2 39.2 587.3 41.2 590.2 41.5C593.2 41.8 595.9 40.6 599.0 39.9C602.1 39.2 605.7 37.6 609.0 37.4C612.3 37.2 616.1 38.2 619.0 38.6C621.9 39.0 624.0 39.1 626.5 39.9C629.0 40.6 631.5 41.9 634.0 43.0C636.5 44.1 638.6 46.2 641.5 46.8C644.4 47.3 649.6 46.2 651.2 46.1" fill="none" stroke="#141414" stroke-width="1.15"/>
<path d="M574.0 40.5C575.2 41.0 578.8 42.9 581.5 43.6C584.2 44.4 587.3 44.8 590.2 44.9C593.2 45.0 595.9 44.5 599.0 44.2C602.1 44.0 605.7 43.7 609.0 43.6C612.3 43.5 616.1 43.3 619.0 43.6C621.9 43.9 624.0 44.7 626.5 45.5C629.0 46.3 631.5 48.0 634.0 48.6C636.5 49.2 638.6 49.7 641.5 49.2C644.4 48.8 649.6 46.6 651.2 46.1" fill="none" stroke="#141414" stroke-width="1.15"/>
<path d="M574.0 50.5C575.2 50.9 578.8 52.5 581.5 53.0C584.2 53.5 587.3 53.6 590.2 53.6C593.2 53.6 595.9 53.4 599.0 53.0C602.1 52.6 605.9 51.5 609.0 51.1C612.1 50.7 614.8 50.2 617.8 50.5C620.7 50.8 623.8 52.1 626.5 53.0C629.2 53.9 631.5 55.4 634.0 56.1C636.5 56.9 638.6 57.2 641.5 57.4C644.4 57.6 649.6 57.4 651.2 57.4" fill="none" stroke="#141414" stroke-width="1.15"/>
<path d="M574.0 48.6C574.8 49.8 577.3 53.5 579.0 55.5C580.7 57.5 582.1 59.0 584.0 60.5C585.9 62.0 588.2 64.0 590.2 64.2C592.3 64.5 594.4 63.2 596.5 61.8C598.6 60.3 600.7 57.4 602.8 55.5C604.8 53.6 606.7 51.6 609.0 50.5C611.3 49.4 614.0 48.6 616.5 48.6C619.0 48.6 621.9 49.6 624.0 50.5C626.1 51.4 626.9 53.0 629.0 54.2C631.1 55.5 632.8 57.5 636.5 58.0C640.2 58.5 648.8 57.5 651.2 57.4" fill="none" stroke="#141414" stroke-width="1.15"/>
<path d="M574.0 65.5C574.8 64.2 577.3 60.3 579.0 58.0C580.7 55.7 582.1 53.5 584.0 51.8C585.9 50.0 588.2 47.8 590.2 47.4C592.3 47.0 594.4 48.3 596.5 49.2C598.6 50.2 600.2 52.0 602.8 53.0C605.2 54.0 608.4 55.3 611.5 55.5C614.6 55.7 618.6 54.2 621.5 54.2C624.4 54.2 626.5 55.0 629.0 55.5C631.5 56.0 632.8 57.1 636.5 57.4C640.2 57.7 648.8 57.4 651.2 57.4" fill="none" stroke="#141414" stroke-width="1.15"/>
<path d="M574.0 61.8C575.2 61.5 578.8 60.7 581.5 60.5C584.2 60.3 587.3 60.6 590.2 60.5C593.2 60.4 595.9 60.2 599.0 59.9C602.1 59.6 605.7 58.9 609.0 58.6C612.3 58.3 615.7 58.2 619.0 58.0C622.3 57.8 625.7 57.4 629.0 57.4C632.3 57.4 635.3 57.9 639.0 58.0C642.7 58.1 649.2 58.0 651.2 58.0" fill="none" stroke="#141414" stroke-width="1.15"/>
<path d="M605.2 70.0C606.3 69.0 608.8 65.4 611.5 64.2C614.2 63.1 618.6 63.2 621.5 63.0C624.4 62.8 626.5 62.6 629.0 63.0C631.5 63.4 634.4 64.3 636.5 65.5C638.6 66.7 640.7 69.2 641.5 70.0" fill="none" stroke="#141414" stroke-width="1.15"/>
</g>
<g mask="url(#m369_5)">
<path d="M369.0 100.0C370.2 99.2 373.8 96.1 376.5 95.0C379.2 93.9 382.9 94.4 385.0 93.1C387.1 91.9 387.9 89.5 389.0 87.5C390.1 85.5 390.8 83.3 391.5 81.2C392.2 79.2 392.8 76.9 393.4 75.0C394.0 73.1 394.9 70.8 395.2 70.0" fill="none" stroke="#141414" stroke-width="1.15"/>
<path d="M369.0 100.0C370.2 100.8 373.8 103.4 376.5 105.0C379.2 106.6 383.6 108.6 385.0 109.4" fill="none" stroke="#141414" stroke-width="1.15"/>
<path d="M385.0 80.0C386.5 79.9 391.2 80.1 394.0 79.4C396.8 78.6 399.0 76.9 401.5 75.6C404.0 74.4 407.1 72.8 409.0 71.9C410.9 70.9 412.1 70.3 412.8 70.0" fill="none" stroke="#141414" stroke-width="1.15"/>
<path d="M369.0 71.2C370.2 71.4 373.8 71.7 376.5 71.9C379.2 72.1 382.1 72.1 385.0 72.5C387.9 72.9 391.2 74.3 394.0 74.4C396.8 74.5 399.0 73.9 401.5 73.1C404.0 72.4 407.8 70.5 409.0 70.0" fill="none" stroke="#141414" stroke-width="1.15"/>
<path d="M385.0 75.0C386.5 75.1 391.2 75.8 394.0 75.6C396.8 75.4 399.4 74.5 401.5 73.8C403.6 73.0 405.7 71.7 406.5 71.2" fill="none" stroke="#141414" stroke-width="1.15"/>
<path d="M375.2 132.0C376.1 130.8 378.6 126.5 380.2 125.0C381.9 123.5 383.3 123.8 385.0 123.1C386.7 122.5 387.9 123.0 390.2 121.2C392.6 119.5 396.3 115.6 399.0 112.5C401.7 109.4 404.2 105.4 406.5 102.5C408.8 99.6 411.1 96.6 412.8 95.0C414.4 93.4 415.0 93.2 416.5 93.1C418.0 93.0 420.0 93.6 421.5 94.4C423.0 95.1 424.2 96.2 425.2 97.5C426.3 98.8 426.1 101.1 428.0 101.9C429.9 102.6 433.8 101.9 436.5 101.9C439.2 101.9 441.6 102.6 444.0 101.9C446.4 101.1 449.8 98.2 451.0 97.5" fill="none" stroke="#141414" stroke-width="1.15"/>
<polyline points="444.00,101.88 451.00,106.25" fill="none" stroke="#141414" stroke-width="1.15" stroke-linejoin="round" />
<path d="M401.5 132.0C402.3 130.0 404.6 123.7 406.5 120.0C408.4 116.3 410.7 112.6 412.8 110.0C414.8 107.4 417.1 105.6 419.0 104.4C420.9 103.1 422.5 102.9 424.0 102.5C425.5 102.1 427.3 102.0 428.0 101.9" fill="none" stroke="#141414" stroke-width="1.15"/>
<path d="M405.2 132.0C406.3 130.0 409.2 123.7 411.5 120.0C413.8 116.3 416.9 112.5 419.0 110.0C421.1 107.5 422.5 106.4 424.0 105.0C425.5 103.6 427.3 102.4 428.0 101.9" fill="none" stroke="#141414" stroke-width="1.15"/>
<path d="M407.8 132.0C408.8 130.4 411.9 125.8 414.0 122.5C416.1 119.2 418.4 115.4 420.2 112.5C422.1 109.6 424.0 106.8 425.2 105.0C426.5 103.2 427.5 102.4 428.0 101.9" fill="none" stroke="#141414" stroke-width="1.15"/>
<path d="M409.0 132.0C410.2 131.2 414.2 128.7 416.5 127.5C418.8 126.3 420.7 125.5 422.8 125.0C424.8 124.5 426.3 124.6 429.0 124.4C431.7 124.2 436.5 123.9 439.0 123.8C441.5 123.6 442.0 123.3 444.0 123.8C446.0 124.2 449.8 125.8 451.0 126.2" fill="none" stroke="#141414" stroke-width="1.15"/>
<path d="M415.2 132.0C416.3 131.4 419.4 129.4 421.5 128.1C423.6 126.9 426.9 125.0 428.0 124.4" fill="none" stroke="#141414" stroke-width="1.15"/>
<path d="M419.0 132.0C419.8 131.3 422.5 129.0 424.0 127.8C425.5 126.5 427.3 124.9 428.0 124.4" fill="none" stroke="#141414" stroke-width="1.15"/>
<path d="M421.5 132.0C422.1 131.4 424.2 129.8 425.2 128.5C426.3 127.2 427.5 125.1 428.0 124.4" fill="none" stroke="#141414" stroke-width="1.15"/>
</g>
<g mask="url(#m369_6)">
<path d="M451.0 98.1C451.8 97.9 453.9 96.6 456.0 96.9C458.1 97.2 461.0 98.2 463.5 100.0C466.0 101.8 468.5 105.0 471.0 107.5C473.5 110.0 476.2 112.9 478.5 115.0C480.8 117.1 482.8 118.6 484.8 120.0C486.7 121.4 487.7 122.8 490.0 123.1C492.3 123.4 495.8 123.0 498.5 121.9C501.2 120.7 503.5 118.2 506.0 116.2C508.5 114.3 511.0 111.7 513.5 110.0C516.0 108.3 518.5 106.9 521.0 106.2C523.5 105.6 526.5 106.0 528.5 106.2C530.5 106.5 532.2 107.3 533.0 107.5" fill="none" stroke="#141414" stroke-width="1.15"/>
<path d="M451.0 100.0C452.0 100.2 455.2 100.2 457.2 101.2C459.3 102.3 461.6 104.0 463.5 106.2C465.4 108.5 466.8 111.9 468.5 115.0C470.2 118.1 472.0 122.2 473.5 125.0C475.0 127.8 476.6 130.8 477.2 132.0" fill="none" stroke="#141414" stroke-width="1.15"/>
<path d="M451.0 105.0C452.0 105.8 455.2 107.7 457.2 110.0C459.3 112.3 461.6 116.0 463.5 118.8C465.4 121.5 467.0 124.0 468.5 126.2C470.0 128.5 471.6 131.0 472.2 132.0" fill="none" stroke="#141414" stroke-width="1.15"/>
<path d="M451.0 123.8C452.0 124.4 455.4 126.1 457.2 127.5C459.1 128.9 461.4 131.2 462.2 132.0" fill="none" stroke="#141414" stroke-width="1.15"/>
<path d="M458.5 70.0C459.8 70.6 463.5 72.6 466.0 73.8C468.5 74.9 471.0 75.8 473.5 76.9C476.0 77.9 478.9 79.1 481.0 80.0C483.1 80.9 484.5 82.0 486.0 82.5C487.5 83.0 489.3 83.0 490.0 83.1" fill="none" stroke="#141414" stroke-width="1.15"/>
<path d="M478.5 70.0C478.9 70.8 480.0 72.5 481.0 75.0C482.0 77.5 483.5 82.1 484.8 85.0C486.0 87.9 487.6 91.1 488.5 92.5C489.4 93.9 488.8 93.3 490.0 93.1C491.2 92.9 494.2 92.4 496.0 91.2C497.8 90.1 499.3 88.3 501.0 86.2C502.7 84.2 504.3 81.0 506.0 78.8C507.7 76.5 509.8 74.0 511.0 72.5C512.2 71.0 513.1 70.4 513.5 70.0" fill="none" stroke="#141414" stroke-width="1.15"/>
<path d="M490.0 108.8C490.8 107.9 493.1 106.2 494.8 103.8C496.4 101.2 498.1 97.1 499.8 93.8C501.4 90.4 503.1 86.9 504.8 83.8C506.4 80.6 508.3 77.3 509.8 75.0C511.2 72.7 512.9 70.8 513.5 70.0" fill="none" stroke="#141414" stroke-width="1.15"/>
<path d="M490.0 79.4C491.2 79.1 495.0 78.2 497.2 77.5C499.5 76.8 501.2 76.0 503.5 75.0C505.8 74.0 509.3 72.1 511.0 71.2C512.7 70.4 513.1 70.2 513.5 70.0" fill="none" stroke="#141414" stroke-width="1.15"/>
<path d="M479.8 70.0C480.4 70.3 481.8 71.5 483.5 71.9C485.2 72.3 487.5 72.5 490.0 72.5C492.5 72.5 495.8 72.2 498.5 71.9C501.2 71.6 504.8 70.8 506.0 70.6" fill="none" stroke="#141414" stroke-width="1.15"/>
<path d="M497.2 132.0C498.7 130.8 503.3 127.4 506.0 125.0C508.7 122.6 511.0 119.8 513.5 117.5C516.0 115.2 518.5 112.9 521.0 111.2C523.5 109.6 526.5 108.3 528.5 107.5C530.5 106.7 532.2 106.5 533.0 106.2" fill="none" stroke="#141414" stroke-width="1.15"/>
<path d="M513.5 132.0C514.8 130.4 518.5 125.8 521.0 122.5C523.5 119.2 526.5 114.8 528.5 112.5C530.5 110.2 532.2 109.4 533.0 108.8" fill="none" stroke="#141414" stroke-width="1.15"/>
<path d="M516.0 132.0C517.2 130.4 521.2 125.8 523.5 122.5C525.8 119.2 528.2 114.6 529.8 112.5C531.3 110.4 532.5 110.4 533.0 110.0" fill="none" stroke="#141414" stroke-width="1.15"/>
</g>
<g mask="url(#m369_7)">
<path d="M533.0 106.9C534.2 106.8 537.8 106.6 540.5 106.2C543.2 105.9 546.3 105.8 549.2 105.0C552.2 104.2 555.3 101.6 558.0 101.2C560.7 100.9 563.0 101.9 565.5 103.1C568.0 104.4 570.5 106.6 573.0 108.8C575.5 110.9 578.2 114.2 580.5 116.2C582.8 118.3 585.1 120.1 586.8 121.2C588.4 122.4 588.6 123.3 590.5 123.1C592.4 122.9 595.5 121.6 598.0 120.0C600.5 118.4 603.2 115.6 605.5 113.8C607.8 111.9 610.2 109.9 611.8 108.8C613.3 107.6 614.5 107.2 615.0 106.9" fill="none" stroke="#141414" stroke-width="1.15"/>
<path d="M533.0 110.0C534.2 110.2 537.8 110.8 540.5 111.2C543.2 111.7 546.8 112.6 549.2 112.5C551.8 112.4 553.2 110.2 555.5 110.6C557.8 111.0 560.5 113.4 563.0 115.0C565.5 116.6 568.0 118.1 570.5 120.0C573.0 121.9 575.9 124.2 578.0 126.2C580.1 128.2 582.2 131.0 583.0 132.0" fill="none" stroke="#141414" stroke-width="1.15"/>
<path d="M549.2 112.5C550.1 113.5 552.6 116.5 554.2 118.8C555.9 121.0 557.8 124.0 559.2 126.2C560.7 128.5 562.4 131.0 563.0 132.0" fill="none" stroke="#141414" stroke-width="1.15"/>
<path d="M550.5 110.0C551.8 110.8 555.7 113.1 558.0 115.0C560.3 116.9 562.2 119.0 564.2 121.2C566.3 123.5 569.0 127.0 570.5 128.8C572.0 130.5 572.6 131.5 573.0 132.0" fill="none" stroke="#141414" stroke-width="1.15"/>
<path d="M558.0 70.0C559.7 70.4 565.5 71.5 568.0 72.5C570.5 73.5 571.5 74.6 573.0 76.2C574.5 77.9 575.3 79.6 576.8 82.5C578.2 85.4 580.1 90.2 581.8 93.8C583.4 97.3 585.3 101.2 586.8 103.8C588.2 106.2 589.9 107.9 590.5 108.8" fill="none" stroke="#141414" stroke-width="1.15"/>
<path d="M568.0 70.0C568.8 70.8 571.3 72.9 573.0 75.0C574.7 77.1 576.3 80.4 578.0 82.5C579.7 84.6 581.3 85.8 583.0 87.5C584.7 89.2 586.8 91.6 588.0 92.5C589.2 93.4 589.2 93.8 590.5 93.1C591.8 92.5 593.6 90.5 595.5 88.8C597.4 87.0 599.7 84.0 601.8 82.5C603.8 81.0 605.8 80.1 608.0 80.0C610.2 79.9 613.8 81.6 615.0 81.9" fill="none" stroke="#141414" stroke-width="1.15"/>
<path d="M571.8 75.0C573.2 75.5 577.4 77.4 580.5 78.1C583.6 78.9 587.2 79.6 590.5 79.4C593.8 79.2 597.6 77.7 600.5 76.9C603.4 76.0 605.6 75.1 608.0 74.4C610.4 73.6 613.8 72.8 615.0 72.5" fill="none" stroke="#141414" stroke-width="1.15"/>
<path d="M570.5 71.2C572.2 71.5 577.2 72.2 580.5 72.5C583.8 72.8 587.2 73.2 590.5 73.1C593.8 73.0 597.6 72.3 600.5 71.9C603.4 71.5 606.8 70.8 608.0 70.6" fill="none" stroke="#141414" stroke-width="1.15"/>
<path d="M605.5 132.0C606.3 130.8 608.9 127.0 610.5 125.0C612.1 123.0 614.2 120.8 615.0 120.0" fill="none" stroke="#141414" stroke-width="1.15"/>
<path d="M609.2 132.0C609.9 131.0 612.0 127.6 613.0 126.2C614.0 124.9 614.7 124.2 615.0 123.8" fill="none" stroke="#141414" stroke-width="1.15"/>
</g>
<g mask="url(#m369_8)">
<path d="M574.0 77.5C575.2 79.2 578.8 84.9 581.5 87.5C584.2 90.1 587.8 92.7 590.2 93.1C592.8 93.5 594.4 91.6 596.5 90.0C598.6 88.4 600.7 85.3 602.8 83.8C604.8 82.2 606.7 80.7 609.0 80.6C611.3 80.5 614.0 82.8 616.5 83.1C619.0 83.4 621.5 82.7 624.0 82.5C626.5 82.3 628.6 81.9 631.5 81.9C634.4 81.9 638.2 82.3 641.5 82.5C644.8 82.7 649.6 83.0 651.2 83.1" fill="none" stroke="#141414" stroke-width="1.15"/>
<path d="M591.5 92.5C592.8 91.5 596.7 88.1 599.0 86.2C601.3 84.4 603.2 82.1 605.2 81.2C607.3 80.4 609.2 81.6 611.5 81.2C613.8 80.9 616.5 80.1 619.0 79.4C621.5 78.6 624.0 77.3 626.5 76.9C629.0 76.5 631.5 76.4 634.0 76.9C636.5 77.4 638.6 79.0 641.5 80.0C644.4 81.0 649.6 82.6 651.2 83.1" fill="none" stroke="#141414" stroke-width="1.15"/>
<path d="M574.0 75.0C575.2 75.4 578.8 76.7 581.5 77.5C584.2 78.3 587.3 79.8 590.2 80.0C593.2 80.2 595.9 79.4 599.0 78.8C602.1 78.1 605.9 77.1 609.0 76.2C612.1 75.4 614.8 74.6 617.8 73.8C620.7 72.9 623.8 71.8 626.5 71.2C629.2 70.7 631.9 70.6 634.0 70.6C636.1 70.6 637.3 70.3 639.0 71.2C640.7 72.2 642.5 74.6 644.0 76.2C645.5 77.9 646.5 80.1 647.8 81.2C649.0 82.4 650.7 82.8 651.2 83.1" fill="none" stroke="#141414" stroke-width="1.15"/>
<path d="M574.0 72.5C575.2 72.6 578.8 73.0 581.5 73.1C584.2 73.2 587.3 73.3 590.2 73.1C593.2 72.9 596.3 72.4 599.0 71.9C601.7 71.4 605.2 70.3 606.5 70.0" fill="none" stroke="#141414" stroke-width="1.15"/>
<path d="M574.0 81.2C574.8 82.9 577.3 87.9 579.0 91.2C580.7 94.6 582.1 98.3 584.0 101.2C585.9 104.2 589.2 107.5 590.2 108.8" fill="none" stroke="#141414" stroke-width="1.15"/>
<path d="M574.0 110.0C575.2 111.2 578.8 115.3 581.5 117.5C584.2 119.7 587.3 122.5 590.2 123.1C593.2 123.8 595.9 122.8 599.0 121.2C602.1 119.7 605.9 116.1 609.0 113.8C612.1 111.4 614.8 107.8 617.8 106.9C620.7 105.9 623.8 106.8 626.5 108.1C629.2 109.5 631.5 112.4 634.0 115.0C636.5 117.6 639.0 121.0 641.5 123.8C644.0 126.5 647.8 130.0 649.0 131.2" fill="none" stroke="#141414" stroke-width="1.15"/>
<path d="M600.2 132.0C601.7 130.4 606.3 124.8 609.0 122.5C611.7 120.2 614.4 119.8 616.5 118.1C618.6 116.5 619.8 113.3 621.5 112.5C623.2 111.7 624.4 112.1 626.5 113.1C628.6 114.2 631.7 116.6 634.0 118.8C636.3 120.9 638.6 124.0 640.2 126.2C641.9 128.5 643.4 131.0 644.0 132.0" fill="none" stroke="#141414" stroke-width="1.15"/>
<path d="M605.2 132.0C606.7 130.2 611.3 123.7 614.0 121.2C616.7 118.8 619.4 118.0 621.5 117.5C623.6 117.0 624.8 117.1 626.5 118.1C628.2 119.2 630.0 121.4 631.5 123.8C633.0 126.1 634.6 130.6 635.2 132.0" fill="none" stroke="#141414" stroke-width="1.15"/>
<path d="M607.8 132.0C609.0 130.4 613.0 124.7 615.2 122.5C617.5 120.3 619.4 118.8 621.5 118.8C623.6 118.8 625.9 120.3 627.8 122.5C629.6 124.7 631.9 130.4 632.8 132.0" fill="none" stroke="#141414" stroke-width="1.15"/>
<polyline points="574.00,127.50 581.50,132.00" fill="none" stroke="#141414" stroke-width="1.15" stroke-linejoin="round" />
<path d="M636.5 70.0C637.8 70.8 641.5 72.8 644.0 75.0C646.5 77.2 650.0 81.8 651.2 83.1" fill="none" stroke="#141414" stroke-width="1.15"/>
</g>
<g mask="url(#m369_9)">
<path d="M369.0 141.4C369.5 140.6 371.1 138.6 372.1 137.0C373.2 135.4 374.5 133.1 375.2 132.0C376.0 130.9 376.3 130.4 376.5 130.1" fill="none" stroke="#141414" stroke-width="1.15"/>
<path d="M369.0 139.5C370.2 138.9 373.8 136.7 376.5 135.8C379.2 134.8 382.1 134.4 385.0 133.9C387.9 133.4 391.7 132.9 394.0 132.6C396.3 132.3 398.2 132.1 399.0 132.0" fill="none" stroke="#141414" stroke-width="1.15"/>
<path d="M369.0 142.0C370.2 141.6 373.8 140.0 376.5 139.5C379.2 139.0 382.1 138.9 385.0 138.9C387.9 138.9 391.5 140.2 394.0 139.5C396.5 138.8 398.6 135.8 400.2 134.5C401.9 133.2 403.4 132.4 404.0 132.0" fill="none" stroke="#141414" stroke-width="1.15"/>
<path d="M369.0 143.2C370.2 143.9 373.8 146.2 376.5 147.0C379.2 147.8 382.1 148.5 385.0 148.2C387.9 148.0 391.2 147.2 394.0 145.8C396.8 144.3 399.4 141.8 401.5 139.5C403.6 137.2 405.7 133.2 406.5 132.0" fill="none" stroke="#141414" stroke-width="1.15"/>
<path d="M369.0 140.8C369.8 141.8 372.1 145.1 374.0 147.0C375.9 148.9 378.4 150.8 380.2 152.0C382.1 153.2 382.7 154.3 385.0 154.5C387.3 154.7 391.2 154.1 394.0 153.2C396.8 152.4 399.4 151.0 401.5 149.5C403.6 148.0 404.8 146.2 406.5 144.5C408.2 142.8 409.8 141.6 411.5 139.5C413.2 137.4 415.7 133.2 416.5 132.0" fill="none" stroke="#141414" stroke-width="1.15"/>
<path d="M369.0 154.5C370.2 154.9 373.8 156.4 376.5 157.0C379.2 157.6 382.1 158.5 385.0 158.2C387.9 158.0 391.2 156.8 394.0 155.8C396.8 154.7 399.0 153.5 401.5 152.0C404.0 150.5 406.9 148.9 409.0 147.0C411.1 145.1 412.3 143.2 414.0 140.8C415.7 138.2 418.2 133.5 419.0 132.0" fill="none" stroke="#141414" stroke-width="1.15"/>
<path d="M369.0 157.0C370.2 157.8 373.8 160.8 376.5 162.0C379.2 163.2 382.1 164.5 385.0 164.5C387.9 164.5 391.2 163.7 394.0 162.0C396.8 160.3 399.4 156.8 401.5 154.5C403.6 152.2 404.8 150.3 406.5 148.2C408.2 146.2 409.8 144.3 411.5 142.0C413.2 139.7 415.5 136.2 416.5 134.5C417.5 132.8 417.5 132.4 417.8 132.0" fill="none" stroke="#141414" stroke-width="1.15"/>
<path d="M369.0 157.0C369.4 158.2 370.7 161.8 371.5 164.5C372.3 167.2 373.2 171.5 374.0 173.2C374.8 175.0 374.7 175.1 376.5 175.1C378.3 175.1 382.5 173.9 385.0 173.2C387.5 172.6 389.6 172.4 391.5 171.4C393.4 170.3 394.8 169.4 396.5 167.0C398.2 164.6 399.8 160.1 401.5 157.0C403.2 153.9 405.7 149.7 406.5 148.2" fill="none" stroke="#141414" stroke-width="1.15"/>
<path d="M369.0 185.8C370.2 184.7 373.8 181.0 376.5 179.5C379.2 178.0 382.5 177.8 385.0 177.0C387.5 176.2 389.4 176.0 391.5 174.5C393.6 173.0 395.9 170.5 397.8 168.2C399.6 166.0 401.3 163.2 402.8 160.8C404.2 158.2 405.9 154.5 406.5 153.2" fill="none" stroke="#141414" stroke-width="1.15"/>
<path d="M406.5 147.0C407.8 146.9 411.5 146.4 414.0 146.4C416.5 146.4 419.2 146.7 421.5 147.0C423.8 147.3 425.5 147.7 428.0 148.2C430.5 148.8 433.8 149.5 436.5 150.1C439.2 150.8 441.6 151.6 444.0 152.0C446.4 152.4 449.8 152.5 451.0 152.6" fill="none" stroke="#141414" stroke-width="1.15"/>
<path d="M428.0 157.0C429.4 156.7 433.8 156.0 436.5 155.1C439.2 154.3 441.6 152.7 444.0 152.0C446.4 151.3 449.8 151.0 451.0 150.8" fill="none" stroke="#141414" stroke-width="1.15"/>
</g>
<g mask="url(#m369_10)">
<path d="M473.5 132.0C474.8 132.2 478.2 132.9 481.0 133.2C483.8 133.6 487.1 133.9 490.0 133.9C492.9 133.9 496.2 133.6 498.5 133.2C500.8 132.9 502.7 132.2 503.5 132.0" fill="none" stroke="#141414" stroke-width="1.15"/>
<path d="M468.5 134.5C469.8 135.3 473.5 138.4 476.0 139.5C478.5 140.6 481.2 141.3 483.5 141.4C485.8 141.5 487.7 140.1 490.0 140.1C492.3 140.1 495.0 141.4 497.2 141.4C499.5 141.4 501.4 140.9 503.5 140.1C505.6 139.4 507.7 138.4 509.8 137.0C511.8 135.6 515.0 132.8 516.0 132.0" fill="none" stroke="#141414" stroke-width="1.15"/>
<path d="M463.5 132.0C464.8 133.2 468.5 137.2 471.0 139.5C473.5 141.8 476.2 144.3 478.5 145.8C480.8 147.2 482.8 147.8 484.8 148.2C486.7 148.7 487.7 148.4 490.0 148.2C492.3 148.1 495.8 147.6 498.5 147.6C501.2 147.6 503.5 148.6 506.0 148.2C508.5 147.9 511.0 147.0 513.5 145.8C516.0 144.5 518.5 142.3 521.0 140.8C523.5 139.2 526.5 137.4 528.5 136.4C530.5 135.3 532.2 134.8 533.0 134.5" fill="none" stroke="#141414" stroke-width="1.15"/>
<path d="M456.0 132.0C457.2 133.2 461.0 137.0 463.5 139.5C466.0 142.0 468.5 144.8 471.0 147.0C473.5 149.2 476.0 151.3 478.5 152.6C481.0 154.0 484.1 154.6 486.0 155.1C487.9 155.6 487.9 155.8 490.0 155.8C492.1 155.8 495.8 155.6 498.5 155.1C501.2 154.6 503.5 153.6 506.0 152.6C508.5 151.7 511.0 150.6 513.5 149.5C516.0 148.4 518.5 146.9 521.0 145.8C523.5 144.6 526.5 143.4 528.5 142.6C530.5 141.9 532.2 141.6 533.0 141.4" fill="none" stroke="#141414" stroke-width="1.15"/>
<path d="M451.0 150.8C452.2 150.8 456.0 150.5 458.5 150.8C461.0 151.0 463.5 151.3 466.0 152.0C468.5 152.7 471.0 153.9 473.5 155.1C476.0 156.4 478.2 158.5 481.0 159.5C483.8 160.5 487.1 161.3 490.0 161.4C492.9 161.5 495.8 160.9 498.5 160.1C501.2 159.4 503.5 158.0 506.0 157.0C508.5 156.0 511.0 154.7 513.5 153.9C516.0 153.0 518.5 152.5 521.0 152.0C523.5 151.5 526.5 151.0 528.5 150.8C530.5 150.5 532.2 150.8 533.0 150.8" fill="none" stroke="#141414" stroke-width="1.15"/>
<path d="M451.0 153.2C452.2 153.7 456.0 154.7 458.5 155.8C461.0 156.8 463.5 158.0 466.0 159.5C468.5 161.0 471.0 162.8 473.5 164.5C476.0 166.2 478.2 168.2 481.0 169.5C483.8 170.8 487.1 171.8 490.0 172.0C492.9 172.2 495.8 171.6 498.5 170.8C501.2 169.9 503.5 168.5 506.0 167.0C508.5 165.5 511.0 163.9 513.5 162.0C516.0 160.1 518.5 157.6 521.0 155.8C523.5 153.9 527.2 151.6 528.5 150.8" fill="none" stroke="#141414" stroke-width="1.15"/>
<path d="M468.5 132.0C469.1 133.2 471.0 136.6 472.2 139.5C473.5 142.4 475.0 146.6 476.0 149.5C477.0 152.4 477.5 154.1 478.5 157.0C479.5 159.9 481.0 164.3 482.2 167.0C483.5 169.7 484.7 171.7 486.0 173.2C487.3 174.8 488.3 176.1 490.0 176.4C491.7 176.7 494.2 176.3 496.0 175.1C497.8 174.0 499.1 171.9 501.0 169.5C502.9 167.1 505.2 163.5 507.2 160.8C509.3 158.0 511.2 155.5 513.5 153.2C515.8 151.0 518.5 148.7 521.0 147.0C523.5 145.3 526.5 144.1 528.5 143.2C530.5 142.4 532.2 142.2 533.0 142.0" fill="none" stroke="#141414" stroke-width="1.15"/>
<path d="M451.0 153.9C452.2 154.6 456.0 156.3 458.5 158.2C461.0 160.2 463.7 163.0 466.0 165.8C468.3 168.5 470.4 171.4 472.2 174.5C474.1 177.6 475.8 181.2 477.2 184.5C478.7 187.8 480.4 192.4 481.0 194.0" fill="none" stroke="#141414" stroke-width="1.15"/>
<path d="M451.0 155.1C452.0 156.1 455.2 158.4 457.2 160.8C459.3 163.1 461.4 166.4 463.5 169.5C465.6 172.6 467.9 176.2 469.8 179.5C471.6 182.8 473.5 187.1 474.8 189.5C476.0 191.9 476.8 193.2 477.2 194.0" fill="none" stroke="#141414" stroke-width="1.15"/>
<path d="M469.8 164.5C470.6 165.5 473.3 168.2 474.8 170.8C476.2 173.2 477.2 176.4 478.5 179.5C479.8 182.6 481.4 187.1 482.2 189.5C483.1 191.9 483.3 193.2 483.5 194.0" fill="none" stroke="#141414" stroke-width="1.15"/>
<path d="M497.2 194.0C497.9 192.4 499.8 187.5 501.0 184.5C502.2 181.5 503.3 178.7 504.8 175.8C506.2 172.8 507.9 169.7 509.8 167.0C511.6 164.3 513.7 161.6 516.0 159.5C518.3 157.4 520.7 156.0 523.5 154.5C526.3 153.0 531.4 151.4 533.0 150.8" fill="none" stroke="#141414" stroke-width="1.15"/>
<path d="M499.8 194.0C500.4 192.4 502.0 188.0 503.5 184.5C505.0 181.0 506.6 176.6 508.5 173.2C510.4 169.9 512.7 166.8 514.8 164.5C516.8 162.2 518.7 161.0 521.0 159.5C523.3 158.0 526.5 156.8 528.5 155.8C530.5 154.7 532.2 153.7 533.0 153.2" fill="none" stroke="#141414" stroke-width="1.15"/>
<path d="M503.5 194.0C504.5 192.0 507.5 185.7 509.8 182.0C512.0 178.3 514.5 175.1 517.2 172.0C520.0 168.9 523.4 165.3 526.0 163.2C528.6 161.2 531.8 160.1 533.0 159.5" fill="none" stroke="#141414" stroke-width="1.15"/>
</g>
<g mask="url(#m369_11)">
<path d="M533.0 133.9C534.2 133.8 537.8 133.5 540.5 133.5C543.2 133.5 546.8 133.5 549.2 133.9C551.8 134.2 553.2 134.4 555.5 135.8C557.8 137.1 560.5 139.9 563.0 142.0C565.5 144.1 568.0 146.4 570.5 148.2C573.0 150.1 575.5 152.1 578.0 153.2C580.5 154.4 583.4 154.7 585.5 155.1C587.6 155.5 588.4 156.1 590.5 155.8C592.6 155.4 595.5 154.3 598.0 153.2C600.5 152.2 602.7 150.5 605.5 149.5C608.3 148.5 613.4 147.4 615.0 147.0" fill="none" stroke="#141414" stroke-width="1.15"/>
<path d="M549.2 133.9C550.5 134.6 554.2 136.3 556.8 138.2C559.2 140.2 561.8 143.0 564.2 145.8C566.8 148.5 569.2 152.3 571.8 154.5C574.2 156.7 576.8 157.9 579.2 158.9C581.8 159.8 584.9 159.9 586.8 160.1C588.6 160.3 588.6 160.5 590.5 160.1C592.4 159.7 595.5 158.8 598.0 157.6C600.5 156.5 603.0 154.8 605.5 153.2C608.0 151.7 611.4 149.3 613.0 148.2C614.6 147.2 614.7 147.2 615.0 147.0" fill="none" stroke="#141414" stroke-width="1.15"/>
<path d="M533.0 144.5C534.2 144.5 537.8 144.5 540.5 144.5C543.2 144.5 546.8 144.1 549.2 144.5C551.8 144.9 553.4 146.0 555.5 147.0C557.6 148.0 559.5 149.3 561.8 150.8C564.0 152.2 567.0 154.1 569.2 155.8C571.5 157.4 573.2 159.5 575.5 160.8C577.8 162.0 580.5 162.6 583.0 163.2C585.5 163.9 588.0 164.7 590.5 164.5C593.0 164.3 595.5 163.2 598.0 162.0C600.5 160.8 603.0 158.9 605.5 157.0C608.0 155.1 611.4 152.2 613.0 150.8C614.6 149.3 614.7 148.7 615.0 148.2" fill="none" stroke="#141414" stroke-width="1.15"/>
<path d="M533.0 150.8C534.2 150.6 537.8 150.3 540.5 150.1C543.2 149.9 546.5 149.5 549.2 149.5C552.0 149.5 554.2 149.5 556.8 150.1C559.2 150.8 562.0 151.9 564.2 153.2C566.5 154.6 568.6 156.4 570.5 158.2C572.4 160.1 573.4 162.6 575.5 164.5C577.6 166.4 580.5 168.2 583.0 169.5C585.5 170.8 588.0 171.8 590.5 172.0C593.0 172.2 595.5 171.6 598.0 170.8C600.5 169.9 602.7 168.5 605.5 167.0C608.3 165.5 613.4 162.8 615.0 162.0" fill="none" stroke="#141414" stroke-width="1.15"/>
<path d="M533.0 159.5C534.2 159.8 538.2 160.4 540.5 161.4C542.8 162.3 545.2 164.4 546.8 165.1C548.3 165.9 549.4 165.6 549.9 165.8" fill="none" stroke="#141414" stroke-width="1.15"/>
<path d="M564.2 149.5C565.3 150.8 568.6 154.5 570.5 157.0C572.4 159.5 573.8 162.2 575.5 164.5C577.2 166.8 578.8 168.9 580.5 170.8C582.2 172.6 583.8 174.7 585.5 175.8C587.2 176.8 588.4 177.0 590.5 177.0C592.6 177.0 595.5 176.6 598.0 175.8C600.5 174.9 602.7 173.0 605.5 172.0C608.3 171.0 613.4 169.9 615.0 169.5" fill="none" stroke="#141414" stroke-width="1.15"/>
<path d="M560.5 132.0C561.3 133.2 563.4 137.2 565.5 139.5C567.6 141.8 570.5 144.4 573.0 145.8C575.5 147.1 577.6 147.2 580.5 147.6C583.4 148.0 587.6 148.2 590.5 148.2C593.4 148.2 595.5 148.0 598.0 147.6C600.5 147.2 603.0 146.5 605.5 145.8C608.0 145.0 611.4 143.9 613.0 143.2C614.6 142.6 614.7 142.2 615.0 142.0" fill="none" stroke="#141414" stroke-width="1.15"/>
<path d="M570.5 132.0C571.8 132.6 575.5 134.8 578.0 135.8C580.5 136.7 583.4 137.3 585.5 137.6C587.6 137.9 588.4 137.7 590.5 137.6C592.6 137.5 595.5 137.5 598.0 137.0C600.5 136.5 603.4 135.3 605.5 134.5C607.6 133.7 609.7 132.4 610.5 132.0" fill="none" stroke="#141414" stroke-width="1.15"/>
<path d="M590.5 172.0C591.8 172.2 595.5 173.1 598.0 173.2C600.5 173.4 602.7 173.0 605.5 172.6C608.3 172.2 613.4 171.1 615.0 170.8" fill="none" stroke="#141414" stroke-width="1.15"/>
<path d="M595.5 194.0C596.3 191.6 598.8 184.0 600.5 179.5C602.2 175.0 603.8 170.8 605.5 167.0C607.2 163.2 608.9 159.7 610.5 157.0C612.1 154.3 614.2 151.8 615.0 150.8" fill="none" stroke="#141414" stroke-width="1.15"/>
<path d="M600.5 194.0C601.3 192.0 603.8 185.7 605.5 182.0C607.2 178.3 608.9 174.7 610.5 172.0C612.1 169.3 614.2 166.8 615.0 165.8" fill="none" stroke="#141414" stroke-width="1.15"/>
</g>
<g mask="url(#m369_12)">
<path d="M574.0 137.0C575.2 137.5 578.8 139.6 581.5 140.1C584.2 140.6 587.3 140.2 590.2 140.1C593.2 140.0 596.3 140.0 599.0 139.5C601.7 139.0 604.4 138.2 606.5 137.0C608.6 135.8 610.7 132.8 611.5 132.0" fill="none" stroke="#141414" stroke-width="1.15"/>
<path d="M574.0 148.2C575.2 148.2 578.8 148.0 581.5 148.0C584.2 148.0 587.3 148.3 590.2 148.2C593.2 148.2 596.3 148.0 599.0 147.6C601.7 147.2 603.8 146.8 606.5 145.8C609.2 144.7 611.9 142.8 615.2 141.4C618.6 139.9 623.4 138.1 626.5 137.0C629.6 135.9 631.5 135.0 634.0 134.5C636.5 134.0 639.0 134.3 641.5 133.9C644.0 133.5 647.8 132.3 649.0 132.0" fill="none" stroke="#141414" stroke-width="1.15"/>
<path d="M590.2 156.4C591.7 155.6 596.3 153.1 599.0 152.0C601.7 150.9 604.0 150.1 606.5 149.5C609.0 148.9 611.1 149.2 614.0 148.2C616.9 147.3 620.9 145.4 624.0 143.9C627.1 142.3 630.2 139.6 632.8 138.9C635.2 138.1 636.9 138.7 639.0 139.5C641.1 140.3 643.2 142.5 645.2 143.9C647.3 145.2 650.2 147.0 651.2 147.6" fill="none" stroke="#141414" stroke-width="1.15"/>
<path d="M574.0 149.5C575.2 150.1 578.8 152.2 581.5 153.2C584.2 154.3 587.3 155.6 590.2 155.8C593.2 155.9 596.3 154.7 599.0 153.9C601.7 153.0 604.0 151.6 606.5 150.8C609.0 149.9 611.5 149.1 614.0 148.9C616.5 148.7 619.0 149.2 621.5 149.5C624.0 149.8 626.5 150.5 629.0 150.8C631.5 151.0 634.0 151.0 636.5 150.8C639.0 150.5 641.5 150.0 644.0 149.5C646.5 149.0 650.0 147.9 651.2 147.6" fill="none" stroke="#141414" stroke-width="1.15"/>
<path d="M574.0 158.2C575.2 158.7 578.8 159.8 581.5 160.8C584.2 161.7 587.3 163.7 590.2 163.9C593.2 164.1 596.3 163.1 599.0 162.0C601.7 160.9 604.0 158.4 606.5 157.0C609.0 155.6 611.5 154.7 614.0 153.9C616.5 153.0 619.0 152.2 621.5 152.0C624.0 151.8 626.5 152.2 629.0 152.6C631.5 153.0 634.0 153.8 636.5 154.5C639.0 155.2 641.5 156.3 644.0 157.0C646.5 157.7 650.0 158.6 651.2 158.9" fill="none" stroke="#141414" stroke-width="1.15"/>
<path d="M574.0 157.0C575.2 157.2 578.8 158.2 581.5 158.2C584.2 158.2 587.3 157.5 590.2 157.0C593.2 156.5 596.3 155.9 599.0 155.1C601.7 154.4 604.0 153.5 606.5 152.6C609.0 151.8 611.5 150.5 614.0 150.1C616.5 149.7 619.0 149.8 621.5 150.1C624.0 150.4 626.5 151.4 629.0 152.0C631.5 152.6 634.0 153.0 636.5 153.9C639.0 154.7 641.5 156.2 644.0 157.0C646.5 157.8 650.0 158.6 651.2 158.9" fill="none" stroke="#141414" stroke-width="1.15"/>
<path d="M574.0 163.2C575.2 164.3 578.8 167.9 581.5 169.5C584.2 171.1 587.3 172.2 590.2 172.6C593.2 173.0 595.9 172.1 599.0 172.0C602.1 171.9 606.1 172.4 609.0 172.0C611.9 171.6 614.0 170.5 616.5 169.5C619.0 168.5 621.5 166.8 624.0 165.8C626.5 164.7 629.0 163.9 631.5 163.2C634.0 162.6 635.7 162.7 639.0 162.0C642.3 161.3 649.2 159.4 651.2 158.9" fill="none" stroke="#141414" stroke-width="1.15"/>
<path d="M574.0 164.5C575.0 165.8 578.2 170.1 580.2 172.0C582.3 173.9 584.8 174.9 586.5 175.8C588.2 176.6 588.2 177.1 590.2 177.0C592.3 176.9 596.3 175.8 599.0 175.1C601.7 174.5 603.6 174.2 606.5 173.2C609.4 172.3 614.8 170.1 616.5 169.5" fill="none" stroke="#141414" stroke-width="1.15"/>
<path d="M596.5 194.0C596.9 192.0 598.0 186.1 599.0 182.0C600.0 177.9 601.5 173.0 602.8 169.5C604.0 166.0 605.0 163.0 606.5 160.8C608.0 158.5 609.8 156.9 611.5 155.8C613.2 154.6 615.7 154.2 616.5 153.9" fill="none" stroke="#141414" stroke-width="1.15"/>
<path d="M602.8 194.0C603.8 192.4 606.9 187.8 609.0 184.5C611.1 181.2 613.2 177.2 615.2 174.5C617.3 171.8 619.2 170.0 621.5 168.2C623.8 166.5 626.1 165.1 629.0 163.9C631.9 162.6 635.3 161.6 639.0 160.8C642.7 159.9 649.2 159.2 651.2 158.9" fill="none" stroke="#141414" stroke-width="1.15"/>
<path d="M606.5 194.0C607.8 192.4 611.5 187.5 614.0 184.5C616.5 181.5 619.0 178.2 621.5 175.8C624.0 173.2 626.1 171.4 629.0 169.5C631.9 167.6 635.3 166.3 639.0 164.5C642.7 162.7 649.2 159.8 651.2 158.9" fill="none" stroke="#141414" stroke-width="1.15"/>
</g>
<g mask="url(#m369_13)">
<path d="M369.0 158.0C370.2 158.6 373.8 160.7 376.5 161.8C379.2 162.8 382.5 164.5 385.0 164.2C387.5 164.0 390.0 161.5 391.5 160.5C393.0 159.5 393.6 158.4 394.0 158.0" fill="none" stroke="#141414" stroke-width="1.15"/>
<path d="M369.0 160.5C369.6 161.8 371.7 165.6 372.8 168.0C373.8 170.4 373.8 174.0 375.2 174.9C376.7 175.7 379.9 173.4 381.5 173.0C383.1 172.6 383.3 172.8 385.0 172.4C386.7 172.0 389.6 171.4 391.5 170.5C393.4 169.6 394.8 168.8 396.5 166.8C398.2 164.7 400.7 159.5 401.5 158.0" fill="none" stroke="#141414" stroke-width="1.15"/>
<path d="M369.0 184.2C370.2 183.6 373.8 181.6 376.5 180.5C379.2 179.4 382.5 178.6 385.0 177.4C387.5 176.1 389.6 174.6 391.5 173.0C393.4 171.4 395.0 169.9 396.5 168.0C398.0 166.1 399.2 163.4 400.2 161.8C401.3 160.1 402.3 158.6 402.8 158.0" fill="none" stroke="#141414" stroke-width="1.15"/>
</g>
<g mask="url(#m369_14)">
<path d="M454.8 158.0C456.2 159.7 460.8 164.5 463.5 168.0C466.2 171.5 468.5 175.1 471.0 179.2C473.5 183.4 476.2 188.6 478.5 193.0C480.8 197.4 482.8 201.5 484.8 205.5C486.7 209.5 489.1 214.9 490.0 216.8" fill="none" stroke="#141414" stroke-width="1.15"/>
<path d="M462.2 158.0C463.5 159.5 467.7 163.8 469.8 166.8C471.8 169.7 473.1 172.0 474.8 175.5C476.4 179.0 478.1 183.6 479.8 188.0C481.4 192.4 483.0 197.0 484.8 201.8C486.5 206.5 489.1 214.2 490.0 216.8" fill="none" stroke="#141414" stroke-width="1.15"/>
<path d="M469.8 165.5C470.6 166.8 473.3 170.1 474.8 173.0C476.2 175.9 477.0 179.0 478.5 183.0C480.0 187.0 482.0 192.6 483.5 196.8C485.0 200.9 486.2 204.7 487.2 208.0C488.3 211.3 489.5 215.3 490.0 216.8" fill="none" stroke="#141414" stroke-width="1.15"/>
<path d="M490.0 216.8C490.8 214.9 492.9 210.1 494.8 205.5C496.6 200.9 499.1 194.2 501.0 189.2C502.9 184.2 504.3 179.5 506.0 175.5C507.7 171.5 509.3 168.2 511.0 165.5C512.7 162.8 515.2 160.3 516.0 159.2" fill="none" stroke="#141414" stroke-width="1.15"/>
<path d="M490.0 216.8C491.0 214.0 494.0 205.7 496.0 200.5C498.0 195.3 500.4 190.1 502.2 185.5C504.1 180.9 505.6 176.5 507.2 173.0C508.9 169.5 510.6 166.8 512.2 164.2C513.9 161.8 516.4 159.0 517.2 158.0" fill="none" stroke="#141414" stroke-width="1.15"/>
<path d="M490.0 216.8C491.4 214.7 495.6 208.6 498.5 204.2C501.4 199.9 504.5 194.7 507.2 190.5C510.0 186.3 512.2 182.8 514.8 179.2C517.2 175.7 520.0 172.2 522.2 169.2C524.5 166.3 526.7 163.4 528.5 161.8C530.3 160.1 532.2 159.7 533.0 159.2" fill="none" stroke="#141414" stroke-width="1.15"/>
<path d="M462.2 158.0C463.7 159.0 468.3 162.4 471.0 164.2C473.7 166.1 476.2 168.0 478.5 169.2C480.8 170.5 482.8 171.5 484.8 172.0C486.7 172.5 487.7 172.5 490.0 172.4C492.3 172.2 495.8 171.8 498.5 171.1C501.2 170.5 503.5 169.8 506.0 168.6C508.5 167.5 511.0 165.4 513.5 164.2C516.0 163.1 518.5 162.5 521.0 161.8C523.5 161.0 526.5 160.3 528.5 159.9C530.5 159.5 532.2 159.4 533.0 159.2" fill="none" stroke="#141414" stroke-width="1.15"/>
<path d="M471.0 158.0C471.8 159.2 474.1 163.0 476.0 165.5C477.9 168.0 479.9 171.1 482.2 173.0C484.6 174.9 487.5 176.5 490.0 176.8C492.5 177.0 495.0 175.5 497.2 174.2C499.5 173.0 501.4 171.1 503.5 169.2C505.6 167.4 508.1 164.9 509.8 163.0C511.4 161.1 512.9 158.8 513.5 158.0" fill="none" stroke="#141414" stroke-width="1.15"/>
<path d="M481.0 158.0C481.8 158.6 484.5 160.9 486.0 161.8C487.5 162.6 488.3 162.7 490.0 163.0C491.7 163.3 494.0 163.9 496.0 163.6C498.0 163.3 500.6 162.1 502.2 161.1C503.9 160.2 505.4 158.5 506.0 158.0" fill="none" stroke="#141414" stroke-width="1.15"/>
</g>
<g mask="url(#m369_15)">
<path d="M533.0 159.2C534.2 159.7 537.8 160.7 540.5 161.8C543.2 162.8 547.8 165.1 549.2 165.8" fill="none" stroke="#141414" stroke-width="1.15"/>
<path d="M570.5 158.0C571.8 158.4 575.5 159.7 578.0 160.5C580.5 161.3 583.4 162.5 585.5 163.0C587.6 163.5 588.4 163.7 590.5 163.6C592.6 163.5 595.5 163.0 598.0 162.4C600.5 161.8 603.4 160.6 605.5 159.9C607.6 159.1 609.7 158.3 610.5 158.0" fill="none" stroke="#141414" stroke-width="1.15"/>
<path d="M574.2 160.5C575.3 161.5 578.4 165.0 580.5 166.8C582.6 168.5 585.1 170.3 586.8 171.1C588.4 172.0 588.6 171.9 590.5 171.8C592.4 171.6 595.5 171.5 598.0 170.5C600.5 169.5 603.4 167.2 605.5 165.5C607.6 163.8 608.9 161.8 610.5 160.5C612.1 159.2 614.2 158.4 615.0 158.0" fill="none" stroke="#141414" stroke-width="1.15"/>
<path d="M575.5 163.0C576.5 164.5 579.9 169.5 581.8 171.8C583.6 174.0 585.3 175.8 586.8 176.8C588.2 177.7 588.6 177.6 590.5 177.4C592.4 177.2 595.5 176.2 598.0 175.5C600.5 174.8 602.7 173.8 605.5 173.0C608.3 172.2 613.4 170.9 615.0 170.5" fill="none" stroke="#141414" stroke-width="1.15"/>
<path d="M590.5 216.8C591.3 213.8 593.8 204.9 595.5 199.2C597.2 193.6 598.8 188.2 600.5 183.0C602.2 177.8 604.0 172.2 605.5 168.0C607.0 163.8 608.6 159.7 609.2 158.0" fill="none" stroke="#141414" stroke-width="1.15"/>
<path d="M590.5 216.8C592.0 214.5 596.3 207.8 599.2 203.0C602.2 198.2 605.4 192.4 608.0 188.0C610.6 183.6 613.8 178.6 615.0 176.8" fill="none" stroke="#141414" stroke-width="1.15"/>
<path d="M590.5 216.8C591.8 214.7 595.3 208.0 598.0 204.2C600.7 200.5 603.9 197.0 606.8 194.2C609.6 191.5 613.6 189.0 615.0 188.0" fill="none" stroke="#141414" stroke-width="1.15"/>
</g>
<g mask="url(#m369_16)">
<path d="M574.0 159.2C575.2 159.9 578.8 162.2 581.5 163.0C584.2 163.8 587.1 164.4 590.0 164.2C592.9 164.1 596.2 163.4 599.0 162.4C601.8 161.3 605.2 158.7 606.5 158.0" fill="none" stroke="#141414" stroke-width="1.15"/>
<path d="M574.0 164.2C575.2 165.3 578.8 169.1 581.5 170.5C584.2 171.9 587.1 172.2 590.0 172.4C592.9 172.6 596.2 172.1 599.0 171.8C601.8 171.4 603.8 170.8 606.5 170.5C609.2 170.2 612.3 170.6 615.2 169.9C618.2 169.1 620.9 167.4 624.0 166.1C627.1 164.9 630.7 163.4 634.0 162.4C637.3 161.3 641.1 160.5 644.0 159.9C646.9 159.2 650.0 158.8 651.2 158.6" fill="none" stroke="#141414" stroke-width="1.15"/>
<path d="M574.0 165.5C575.0 166.8 577.6 171.0 580.2 173.0C582.9 175.0 586.9 177.0 590.0 177.4C593.1 177.8 596.2 176.1 599.0 175.5C601.8 174.9 603.8 174.5 606.5 173.6C609.2 172.8 612.3 171.9 615.2 170.5C618.2 169.1 620.9 167.0 624.0 165.5C627.1 164.0 630.7 162.8 634.0 161.8C637.3 160.7 641.1 159.8 644.0 159.2C646.9 158.7 650.0 158.7 651.2 158.6" fill="none" stroke="#141414" stroke-width="1.15"/>
<path d="M590.0 216.8C590.9 213.6 593.5 204.2 595.2 198.0C597.0 191.8 598.8 184.7 600.2 179.2C601.7 173.8 603.0 169.0 604.0 165.5C605.0 162.0 606.1 159.2 606.5 158.0" fill="none" stroke="#141414" stroke-width="1.15"/>
<path d="M590.0 216.8C591.5 213.8 596.2 204.5 599.0 199.2C601.8 194.0 604.0 189.7 606.5 185.5C609.0 181.3 611.1 177.4 614.0 174.2C616.9 171.1 620.2 168.8 624.0 166.8C627.8 164.7 632.0 163.1 636.5 161.8C641.0 160.4 648.8 159.1 651.2 158.6" fill="none" stroke="#141414" stroke-width="1.15"/>
<path d="M590.0 216.8C591.5 214.5 596.2 207.0 599.0 203.0C601.8 199.0 603.8 196.3 606.5 193.0C609.2 189.7 612.3 186.3 615.2 183.0C618.2 179.7 620.9 175.7 624.0 173.0C627.1 170.3 630.7 168.6 634.0 166.8C637.3 164.9 641.1 163.1 644.0 161.8C646.9 160.4 650.0 159.1 651.2 158.6" fill="none" stroke="#141414" stroke-width="1.15"/>
</g>
<g mask="url(#m369_17)">
<path d="M440.0 123.1C441.0 123.1 444.2 122.6 446.2 123.1C448.3 123.6 450.2 125.0 452.5 126.2C454.8 127.5 457.5 129.6 460.0 130.6C462.5 131.7 465.0 132.0 467.5 132.5C470.0 133.0 471.2 133.4 475.0 133.8C478.8 134.1 486.7 134.5 490.0 134.4C493.3 134.3 492.9 134.1 495.0 133.1C497.1 132.2 500.0 130.5 502.5 128.8C505.0 127.0 507.5 124.8 510.0 122.5C512.5 120.2 515.5 116.7 517.5 115.0C519.5 113.3 521.2 112.9 522.0 112.5" fill="none" stroke="#141414" stroke-width="1.15"/>
<path d="M446.2 123.8C447.3 124.6 450.4 126.7 452.5 128.8C454.6 130.8 456.7 133.8 458.8 136.2C460.8 138.8 462.9 141.5 465.0 143.8C467.1 146.0 469.2 148.3 471.2 150.0C473.3 151.7 475.4 152.8 477.5 153.8C479.6 154.7 481.7 155.2 483.8 155.6C485.8 156.0 487.7 156.2 490.0 156.2C492.3 156.2 495.0 156.1 497.5 155.6C500.0 155.1 502.5 153.9 505.0 153.1C507.5 152.4 509.7 151.8 512.5 151.2C515.3 150.7 520.4 150.2 522.0 150.0" fill="none" stroke="#141414" stroke-width="1.15"/>
<path d="M455.0 110.0C455.8 111.2 458.3 115.0 460.0 117.5C461.7 120.0 463.3 122.5 465.0 125.0C466.7 127.5 468.3 130.2 470.0 132.5C471.7 134.8 473.3 137.1 475.0 138.8C476.7 140.4 478.3 142.1 480.0 142.5C481.7 142.9 483.3 141.8 485.0 141.2C486.7 140.7 488.3 139.5 490.0 139.4C491.7 139.3 493.3 140.3 495.0 140.6C496.7 140.9 498.3 141.7 500.0 141.2C501.7 140.8 503.3 139.6 505.0 138.1C506.7 136.7 507.9 134.7 510.0 132.5C512.1 130.3 515.5 127.1 517.5 125.0C519.5 122.9 521.2 120.8 522.0 120.0" fill="none" stroke="#141414" stroke-width="1.15"/>
<path d="M462.5 110.0C463.3 112.1 465.8 118.3 467.5 122.5C469.2 126.7 470.8 131.2 472.5 135.0C474.2 138.8 475.8 142.3 477.5 145.0C479.2 147.7 480.8 149.6 482.5 151.2C484.2 152.9 485.8 154.2 487.5 155.0C489.2 155.8 491.7 156.0 492.5 156.2" fill="none" stroke="#141414" stroke-width="1.15"/>
<path d="M470.0 110.0C470.8 110.8 472.9 113.1 475.0 115.0C477.1 116.9 480.0 119.9 482.5 121.2C485.0 122.6 487.5 123.0 490.0 123.1C492.5 123.2 495.0 122.8 497.5 121.9C500.0 120.9 502.5 119.3 505.0 117.5C507.5 115.7 511.2 112.3 512.5 111.2" fill="none" stroke="#141414" stroke-width="1.15"/>
<path d="M440.0 151.2C441.2 151.4 445.0 151.6 447.5 151.9C450.0 152.2 452.5 152.8 455.0 153.1C457.5 153.4 460.0 153.0 462.5 153.8C465.0 154.5 467.5 156.2 470.0 157.5C472.5 158.8 475.0 160.2 477.5 161.2C480.0 162.3 482.5 163.3 485.0 163.8C487.5 164.2 490.0 164.2 492.5 163.8C495.0 163.3 497.5 162.3 500.0 161.2C502.5 160.2 505.0 158.8 507.5 157.5C510.0 156.2 512.6 154.8 515.0 153.8C517.4 152.7 520.8 151.7 522.0 151.2" fill="none" stroke="#141414" stroke-width="1.15"/>
<path d="M447.5 151.9C448.8 152.8 452.5 155.3 455.0 157.5C457.5 159.7 460.4 162.6 462.5 165.0C464.6 167.4 466.7 170.8 467.5 172.0" fill="none" stroke="#141414" stroke-width="1.15"/>
<path d="M447.5 152.5C449.2 153.8 454.6 157.5 457.5 160.0C460.4 162.5 463.1 165.5 465.0 167.5C466.9 169.5 468.1 171.2 468.8 172.0" fill="none" stroke="#141414" stroke-width="1.15"/>
<path d="M477.5 147.5C479.6 147.6 486.7 148.1 490.0 148.1C493.3 148.1 495.0 147.8 497.5 147.5C500.0 147.2 502.5 147.1 505.0 146.2C507.5 145.4 509.7 144.0 512.5 142.5C515.3 141.0 520.4 138.3 522.0 137.5" fill="none" stroke="#141414" stroke-width="1.15"/>
<path d="M497.5 172.0C498.8 170.8 502.5 167.2 505.0 165.0C507.5 162.8 510.0 160.8 512.5 158.8C515.0 156.7 518.8 153.5 520.0 152.5" fill="none" stroke="#141414" stroke-width="1.15"/>
<path d="M502.5 172.0C503.8 170.6 507.5 166.4 510.0 163.8C512.5 161.1 515.5 158.3 517.5 156.2C519.5 154.2 521.2 152.1 522.0 151.2" fill="none" stroke="#141414" stroke-width="1.15"/>
</g>
<g mask="url(#m369_18)">
<path d="M456.2 160.0C457.7 161.7 462.3 166.5 465.0 170.0C467.7 173.5 470.2 177.5 472.5 181.2C474.8 185.0 476.9 188.8 478.8 192.5C480.6 196.2 482.3 200.6 483.8 203.8C485.2 206.9 486.5 209.1 487.5 211.2C488.5 213.4 489.6 215.9 490.0 216.9" fill="none" stroke="#141414" stroke-width="1.15"/>
<path d="M465.0 160.0C466.0 161.2 469.4 164.6 471.2 167.5C473.1 170.4 474.6 173.8 476.2 177.5C477.9 181.2 479.8 186.0 481.2 190.0C482.7 194.0 483.9 197.7 485.0 201.2C486.1 204.8 487.3 208.6 488.1 211.2C489.0 213.9 489.7 215.9 490.0 216.9" fill="none" stroke="#141414" stroke-width="1.15"/>
<path d="M468.8 165.0C469.6 165.8 472.3 167.5 473.8 170.0C475.2 172.5 476.2 176.2 477.5 180.0C478.8 183.8 480.0 188.5 481.2 192.5C482.5 196.5 483.8 200.2 485.0 203.8C486.2 207.3 487.9 211.6 488.8 213.8C489.6 215.9 489.8 216.4 490.0 216.9" fill="none" stroke="#141414" stroke-width="1.15"/>
<path d="M490.0 216.9C490.6 215.1 492.3 210.1 493.8 206.2C495.2 202.4 497.1 197.9 498.8 193.8C500.4 189.6 502.1 185.2 503.8 181.2C505.4 177.3 507.1 173.1 508.8 170.0C510.4 166.9 512.3 164.2 513.8 162.5C515.2 160.8 516.9 160.4 517.5 160.0" fill="none" stroke="#141414" stroke-width="1.15"/>
<path d="M490.0 216.9C490.8 214.7 493.3 208.2 495.0 203.8C496.7 199.3 498.3 194.4 500.0 190.0C501.7 185.6 503.3 181.2 505.0 177.5C506.7 173.8 508.5 170.2 510.0 167.5C511.5 164.8 513.1 162.3 513.8 161.2" fill="none" stroke="#141414" stroke-width="1.15"/>
<path d="M490.0 216.9C491.2 214.9 495.0 209.1 497.5 205.0C500.0 200.9 502.5 196.5 505.0 192.5C507.5 188.5 510.2 184.6 512.5 181.2C514.8 177.9 517.2 174.6 518.8 172.5C520.3 170.4 521.5 169.4 522.0 168.8" fill="none" stroke="#141414" stroke-width="1.15"/>
<path d="M465.0 160.0C466.2 161.0 470.0 164.5 472.5 166.2C475.0 168.0 477.1 169.6 480.0 170.6C482.9 171.7 487.1 172.4 490.0 172.5C492.9 172.6 495.0 172.1 497.5 171.2C500.0 170.4 502.5 168.8 505.0 167.5C507.5 166.2 509.7 164.7 512.5 163.8C515.3 162.8 520.4 162.2 522.0 161.9" fill="none" stroke="#141414" stroke-width="1.15"/>
<path d="M472.5 160.0C473.3 161.2 475.6 165.2 477.5 167.5C479.4 169.8 481.7 172.2 483.8 173.8C485.8 175.3 487.7 176.8 490.0 176.9C492.3 177.0 495.0 175.7 497.5 174.4C500.0 173.0 502.9 170.7 505.0 168.8C507.1 166.8 508.8 164.0 510.0 162.5C511.2 161.0 512.1 160.4 512.5 160.0" fill="none" stroke="#141414" stroke-width="1.15"/>
<path d="M482.5 160.0C483.3 160.4 486.2 162.0 487.5 162.5C488.8 163.0 488.8 163.1 490.0 163.1C491.2 163.1 493.3 163.0 495.0 162.5C496.7 162.0 499.2 160.4 500.0 160.0" fill="none" stroke="#141414" stroke-width="1.15"/>
</g>
<g mask="url(#m369_19)">
<path d="M444.0 151.9C445.0 151.8 447.5 151.6 449.9 151.5C452.3 151.4 456.2 151.0 458.6 151.1C461.0 151.2 462.8 151.4 464.5 151.9C466.2 152.4 467.4 152.9 468.9 154.0C470.4 155.1 471.9 156.8 473.3 158.4C474.8 160.0 476.4 162.0 477.6 163.6C478.8 165.2 479.6 166.7 480.6 168.0C481.6 169.3 482.3 170.9 483.5 171.6C484.7 172.3 486.5 172.2 487.9 172.3C489.3 172.4 491.3 172.3 492.0 172.3" fill="none" stroke="#141414" stroke-width="1.15"/>
<path d="M444.0 151.9C444.7 152.0 446.6 152.1 448.4 152.6C450.2 153.1 452.7 153.8 455.0 154.8C457.3 155.8 460.1 157.1 462.3 158.4C464.5 159.7 466.3 161.3 468.1 162.8C469.9 164.3 471.7 165.8 473.3 167.2C474.9 168.5 476.2 169.7 477.6 170.9C479.1 172.1 480.5 173.5 482.0 174.5C483.5 175.5 484.7 176.2 486.4 176.7C488.1 177.2 491.1 177.4 492.0 177.5" fill="none" stroke="#141414" stroke-width="1.15"/>
<path d="M448.4 152.6C449.5 153.4 453.1 156.0 455.0 157.7C456.9 159.4 458.5 161.0 460.1 162.8C461.7 164.6 463.2 166.8 464.5 168.7C465.8 170.6 467.0 172.8 468.1 174.5C469.2 176.2 470.4 177.7 471.1 178.9C471.8 180.2 472.0 180.8 472.5 182.0C473.0 183.2 473.8 185.3 474.0 186.0" fill="none" stroke="#141414" stroke-width="1.15"/>
<path d="M451.3 154.0C452.5 154.7 456.3 156.9 458.6 158.4C460.9 159.9 463.4 161.6 465.2 162.8C467.0 164.0 468.2 164.3 469.6 165.8C471.0 167.3 472.2 169.8 473.3 171.6C474.4 173.4 475.4 175.0 476.2 176.7C477.0 178.4 477.8 180.4 478.4 182.0C479.0 183.6 479.7 185.3 480.0 186.0" fill="none" stroke="#141414" stroke-width="1.15"/>
<path d="M469.6 165.8C470.0 166.2 471.0 166.8 471.8 168.0C472.6 169.2 473.9 171.3 474.7 173.0C475.5 174.7 476.2 176.7 476.9 178.2C477.6 179.7 478.4 180.7 479.1 182.0C479.8 183.3 480.7 185.3 481.0 186.0" fill="none" stroke="#141414" stroke-width="1.15"/>
<path d="M466.0 146.0C466.5 146.6 467.9 147.9 468.9 149.7C469.9 151.5 470.8 154.6 471.8 157.0C472.8 159.4 473.7 162.2 474.7 164.3C475.7 166.4 476.6 168.3 477.6 169.4C478.6 170.5 480.1 170.7 480.6 170.9" fill="none" stroke="#141414" stroke-width="1.15"/>
<path d="M473.3 146.0C473.9 146.5 475.7 147.9 476.9 148.9C478.1 149.9 479.2 151.1 480.6 151.9C482.0 152.8 483.1 153.4 485.0 154.0C486.9 154.6 490.8 155.2 492.0 155.5" fill="none" stroke="#141414" stroke-width="1.15"/>
<path d="M468.1 149.7C469.0 149.9 471.7 150.4 473.3 151.1C474.9 151.8 476.2 152.8 477.6 154.0C479.1 155.2 480.5 157.1 482.0 158.4C483.5 159.7 484.7 161.0 486.4 162.0C488.1 163.0 491.1 163.9 492.0 164.3" fill="none" stroke="#141414" stroke-width="1.15"/>
<path d="M479.1 147.5C479.7 147.6 480.7 148.0 482.8 148.2C484.9 148.4 490.5 148.5 492.0 148.6" fill="none" stroke="#141414" stroke-width="1.15"/>
</g>
<g mask="url(#m369_20)">
<path d="M488.0 140.4C489.0 140.4 492.1 140.5 493.9 140.7C495.7 140.9 497.3 141.5 499.0 141.5C500.7 141.5 502.8 140.9 504.1 140.7C505.4 140.4 506.0 140.4 507.0 140.0C508.0 139.6 509.5 138.3 510.0 138.0" fill="none" stroke="#141414" stroke-width="1.15"/>
<path d="M488.0 148.8C489.2 148.7 492.9 148.1 495.3 148.0C497.7 147.9 500.7 148.3 502.6 148.4C504.6 148.5 505.5 149.1 507.0 148.8C508.5 148.5 509.9 147.4 511.4 146.6C512.9 145.8 514.3 144.8 515.8 143.7C517.3 142.6 519.0 141.1 520.2 140.0C521.4 138.9 522.5 137.5 523.0 137.0" fill="none" stroke="#141414" stroke-width="1.15"/>
<path d="M488.0 155.7C489.0 155.7 492.1 155.9 493.9 155.7C495.7 155.5 497.2 155.0 499.0 154.3C500.8 153.6 503.1 152.8 504.8 151.7C506.5 150.6 507.9 149.2 509.2 148.0C510.5 146.8 511.8 145.5 512.9 144.4C514.0 143.3 515.1 142.2 515.8 141.5C516.5 140.8 516.8 140.6 517.3 140.0C517.8 139.4 518.7 138.3 519.0 138.0" fill="none" stroke="#141414" stroke-width="1.15"/>
<path d="M488.0 163.4C489.2 163.4 492.9 163.8 495.3 163.4C497.7 163.0 500.7 162.0 502.6 161.2C504.6 160.3 505.5 159.4 507.0 158.3C508.5 157.2 509.7 155.8 511.4 154.6C513.1 153.4 515.6 152.0 517.3 151.0C519.0 150.0 519.9 149.6 521.6 148.8C523.3 148.0 525.5 146.9 527.5 146.2C529.5 145.5 532.0 145.1 533.4 144.8C534.8 144.5 535.6 144.6 536.0 144.5" fill="none" stroke="#141414" stroke-width="1.15"/>
<path d="M509.0 151.7C510.6 151.6 515.9 151.4 518.7 151.3C521.5 151.2 523.1 151.3 526.0 151.3C528.9 151.3 534.3 151.3 536.0 151.3" fill="none" stroke="#141414" stroke-width="1.15"/>
<path d="M488.0 172.2C489.2 172.1 493.1 172.0 495.3 171.5C497.5 171.0 499.5 170.4 501.2 169.3C502.9 168.2 504.1 166.4 505.6 164.9C507.1 163.4 508.6 162.0 510.0 160.5C511.4 159.0 512.8 157.6 514.3 156.1C515.8 154.6 517.4 152.9 518.7 151.7C520.1 150.5 521.2 149.7 522.4 148.8C523.6 148.0 524.4 147.3 526.0 146.6C527.6 145.9 530.2 145.2 531.9 144.8C533.6 144.5 535.3 144.6 536.0 144.5" fill="none" stroke="#141414" stroke-width="1.15"/>
<path d="M493.0 179.0C493.4 178.5 494.2 177.4 495.3 176.0C496.4 174.6 498.1 172.3 499.7 170.7C501.3 169.1 503.1 167.8 504.8 166.3C506.5 164.9 508.2 163.6 510.0 162.0C511.8 160.4 514.1 158.4 515.8 156.8C517.5 155.2 518.7 153.4 520.2 152.4C521.7 151.4 523.9 151.2 524.6 151.0" fill="none" stroke="#141414" stroke-width="1.15"/>
<path d="M502.0 179.0C502.2 178.5 502.8 177.4 503.4 176.0C504.0 174.6 504.6 172.4 505.6 170.7C506.6 169.0 508.0 167.2 509.2 165.6C510.4 164.0 511.5 162.8 512.9 161.2C514.2 159.6 516.1 157.6 517.3 156.1C518.5 154.6 519.7 153.0 520.2 152.4" fill="none" stroke="#141414" stroke-width="1.15"/>
<path d="M504.0 179.0C504.3 178.5 505.0 177.4 505.6 176.0C506.2 174.6 507.0 172.4 507.8 170.7C508.6 169.0 509.6 167.3 510.7 165.6C511.8 163.9 513.0 162.2 514.3 160.5C515.6 158.8 517.2 156.9 518.7 155.4C520.2 153.9 521.9 152.4 523.1 151.7C524.3 151.0 525.5 151.1 526.0 151.0" fill="none" stroke="#141414" stroke-width="1.15"/>
<path d="M511.0 179.0C511.4 178.5 512.6 177.4 513.6 176.0C514.6 174.6 516.0 172.4 517.3 170.7C518.6 169.0 520.1 167.0 521.6 165.6C523.1 164.2 524.5 163.0 526.0 162.0C527.5 161.0 528.7 160.2 530.4 159.8C532.1 159.4 535.1 159.5 536.0 159.4" fill="none" stroke="#141414" stroke-width="1.15"/>
</g>
<g mask="url(#m369_21)">
<path d="M486.0 172.6C486.7 172.6 488.5 172.7 490.0 172.6C491.5 172.5 493.0 172.3 494.8 171.9C496.6 171.5 498.9 171.0 500.6 170.4C502.3 169.8 503.8 168.9 505.0 168.2C506.2 167.5 507.2 166.7 508.0 166.0C508.8 165.3 509.7 164.3 510.0 164.0" fill="none" stroke="#141414" stroke-width="1.15"/>
<path d="M486.0 175.5C486.7 175.9 488.5 177.4 490.0 177.7C491.5 177.9 493.3 177.6 494.8 177.0C496.3 176.4 497.9 175.1 499.2 174.0C500.5 172.9 501.7 171.5 502.8 170.4C503.9 169.3 505.1 168.2 505.8 167.5C506.5 166.8 506.7 166.6 507.2 166.0C507.7 165.4 508.7 164.3 509.0 164.0" fill="none" stroke="#141414" stroke-width="1.15"/>
<path d="M493.0 205.0C493.2 204.5 493.2 203.9 494.0 202.0C494.8 200.1 496.6 196.4 497.7 193.8C498.8 191.2 499.6 188.9 500.6 186.5C501.6 184.1 502.6 181.6 503.6 179.2C504.6 176.8 505.5 174.1 506.5 171.9C507.5 169.7 508.6 167.5 509.4 166.0C510.1 164.5 510.7 163.5 511.0 163.0" fill="none" stroke="#141414" stroke-width="1.15"/>
<path d="M494.5 205.0C494.7 204.5 494.7 203.9 495.5 202.0C496.3 200.1 498.0 196.6 499.2 193.8C500.4 191.0 501.7 187.8 502.8 185.0C503.9 182.2 504.9 179.4 505.8 177.0C506.7 174.6 507.3 172.2 508.0 170.4C508.7 168.6 509.5 167.2 510.1 166.0C510.7 164.8 511.3 163.5 511.5 163.0" fill="none" stroke="#141414" stroke-width="1.15"/>
<path d="M495.0 205.0C495.3 204.5 495.8 203.9 497.0 202.0C498.2 200.1 500.3 196.6 502.1 193.8C503.9 191.0 506.1 187.8 508.0 185.0C509.9 182.2 512.1 179.4 513.8 177.0C515.5 174.6 516.9 172.2 518.2 170.4C519.5 168.6 520.8 167.2 521.8 166.0C522.8 164.8 523.6 163.5 524.0 163.0" fill="none" stroke="#141414" stroke-width="1.15"/>
</g>
<g mask="url(#m369_22)">
<path d="M574.0 147.5C575.2 147.6 578.8 147.9 581.5 148.1C584.2 148.3 587.3 148.8 590.2 148.8C593.2 148.8 596.3 148.5 599.0 148.1C601.7 147.7 603.8 147.1 606.5 146.2C609.2 145.4 612.3 144.1 615.2 143.1C618.2 142.2 621.9 141.2 624.0 140.6C626.1 140.0 627.1 139.6 627.8 139.4" fill="none" stroke="#141414" stroke-width="1.15"/>
<path d="M574.0 142.5C575.2 142.8 578.8 144.0 581.5 144.4C584.2 144.8 587.3 145.1 590.2 145.0C593.2 144.9 596.3 144.6 599.0 143.8C601.7 142.9 604.8 140.8 606.5 140.0C608.2 139.2 608.6 139.0 609.0 138.8" fill="none" stroke="#141414" stroke-width="1.15"/>
<path d="M574.0 152.5C575.2 152.9 578.8 154.4 581.5 155.0C584.2 155.6 587.3 156.2 590.2 156.2C593.2 156.2 596.3 155.6 599.0 155.0C601.7 154.4 604.0 153.3 606.5 152.5C609.0 151.7 611.5 150.5 614.0 150.0C616.5 149.5 619.0 149.4 621.5 149.4C624.0 149.4 626.5 149.7 629.0 150.0C631.5 150.3 634.0 151.2 636.5 151.2C639.0 151.2 641.5 150.6 644.0 150.0C646.5 149.4 650.0 147.9 651.2 147.5" fill="none" stroke="#141414" stroke-width="1.15"/>
<path d="M574.0 157.5C575.2 157.9 578.8 159.0 581.5 160.0C584.2 161.0 587.3 163.5 590.2 163.8C593.2 164.0 596.3 162.5 599.0 161.2C601.7 160.0 604.4 157.6 606.5 156.2C608.6 154.9 609.8 154.0 611.5 153.1C613.2 152.3 614.4 151.7 616.5 151.2C618.6 150.8 621.5 150.5 624.0 150.6C626.5 150.7 629.0 151.2 631.5 151.9C634.0 152.5 636.7 153.6 639.0 154.4C641.3 155.1 643.2 155.5 645.2 156.2C647.3 157.0 650.2 158.3 651.2 158.8" fill="none" stroke="#141414" stroke-width="1.15"/>
<path d="M574.0 161.2C575.2 161.9 578.8 163.1 581.5 165.0C584.2 166.9 587.3 171.1 590.2 172.5C593.2 173.9 595.9 173.2 599.0 173.1C602.1 173.0 606.1 172.5 609.0 171.9C611.9 171.2 614.0 170.3 616.5 169.4C619.0 168.4 621.5 167.3 624.0 166.2C626.5 165.2 629.0 164.1 631.5 163.1C634.0 162.2 636.5 161.4 639.0 160.6C641.5 159.9 644.5 159.1 646.5 158.8C648.5 158.4 650.5 158.8 651.2 158.8" fill="none" stroke="#141414" stroke-width="1.15"/>
<path d="M574.0 163.8C575.2 165.0 578.8 169.0 581.5 171.2C584.2 173.5 587.3 176.9 590.2 177.5C593.2 178.1 596.7 176.5 599.0 175.0C601.3 173.5 602.5 171.2 604.0 168.8C605.5 166.2 606.5 162.3 607.8 160.0C609.0 157.7 609.6 156.1 611.5 155.0C613.4 153.9 616.3 153.4 619.0 153.1C621.7 152.8 624.8 152.8 627.8 153.1C630.7 153.4 633.8 154.3 636.5 155.0C639.2 155.7 641.5 156.9 644.0 157.5C646.5 158.1 650.0 158.5 651.2 158.8" fill="none" stroke="#141414" stroke-width="1.15"/>
<path d="M592.8 206.2C593.0 205.5 593.0 205.5 594.0 202.0C595.0 198.5 597.3 190.8 599.0 185.0C600.7 179.2 602.5 171.9 604.0 167.5C605.5 163.1 606.5 161.0 607.8 158.8C609.0 156.5 610.0 155.1 611.5 153.8C613.0 152.4 615.7 151.1 616.5 150.6" fill="none" stroke="#141414" stroke-width="1.15"/>
<path d="M596.5 206.2C596.9 205.5 597.3 204.7 599.0 202.0C600.7 199.3 604.0 193.9 606.5 190.0C609.0 186.1 611.5 181.9 614.0 178.8C616.5 175.6 619.0 173.2 621.5 171.2C624.0 169.3 626.1 168.3 629.0 166.9C631.9 165.4 635.3 163.9 639.0 162.5C642.7 161.1 649.2 159.4 651.2 158.8" fill="none" stroke="#141414" stroke-width="1.15"/>
<path d="M596.5 206.2C596.9 205.5 596.9 204.7 599.0 202.0C601.1 199.3 605.9 194.1 609.0 190.0C612.1 185.9 614.8 180.8 617.8 177.5C620.7 174.2 623.4 172.2 626.5 170.0C629.6 167.8 633.6 165.8 636.5 164.4C639.4 162.9 641.5 162.2 644.0 161.2C646.5 160.3 650.0 159.2 651.2 158.8" fill="none" stroke="#141414" stroke-width="1.15"/>
<path d="M574.0 158.8C575.2 158.9 578.8 159.4 581.5 159.4C584.2 159.4 587.3 159.1 590.2 158.8C593.2 158.4 596.3 158.3 599.0 157.5C601.7 156.7 604.4 154.8 606.5 153.8C608.6 152.7 610.7 151.7 611.5 151.2" fill="none" stroke="#141414" stroke-width="1.15"/>
<path d="M644.0 138.8C644.6 139.4 646.5 141.0 647.8 142.5C649.0 144.0 650.7 146.7 651.2 147.5" fill="none" stroke="#141414" stroke-width="1.15"/>
<path d="M627.8 140.0C629.2 140.4 633.8 141.7 636.5 142.5C639.2 143.3 641.5 144.2 644.0 145.0C646.5 145.8 650.0 147.1 651.2 147.5" fill="none" stroke="#141414" stroke-width="1.15"/>
</g>
<g mask="url(#m369_23)">
<path d="M410.0 21.2C411.2 21.4 415.4 21.4 417.5 21.9C419.6 22.4 420.7 23.2 422.5 24.4C424.3 25.5 426.0 27.8 428.1 28.8C430.2 29.7 432.4 29.7 435.0 30.0C437.6 30.3 442.3 30.5 443.8 30.6" fill="none" stroke="#141414" stroke-width="1.15"/>
<path d="M410.0 29.4C410.8 28.9 413.1 26.7 415.0 26.2C416.9 25.8 419.1 26.1 421.2 26.9C423.4 27.6 425.8 29.8 428.1 30.6C430.4 31.5 432.4 31.9 435.0 31.9C437.6 31.9 442.3 30.8 443.8 30.6" fill="none" stroke="#141414" stroke-width="1.15"/>
<path d="M410.0 36.9C411.2 36.8 415.4 36.8 417.5 36.2C419.6 35.7 420.7 35.0 422.5 33.8C424.3 32.5 427.2 29.6 428.1 28.8" fill="none" stroke="#141414" stroke-width="1.15"/>
<path d="M443.8 30.6C445.0 29.7 448.1 26.9 451.2 25.0C454.4 23.1 459.0 20.0 462.5 19.4C466.0 18.8 468.8 20.2 472.5 21.2C476.2 22.3 481.8 24.8 485.0 25.6C488.2 26.5 490.8 26.1 492.0 26.2" fill="none" stroke="#141414" stroke-width="1.15"/>
<path d="M443.8 30.6C445.4 29.8 450.6 26.7 453.8 25.6C456.9 24.6 459.8 23.6 462.5 24.4C465.2 25.1 467.5 27.6 470.0 30.0C472.5 32.4 474.6 36.8 477.5 38.8C480.4 40.7 485.1 41.4 487.5 41.9C489.9 42.4 491.2 41.9 492.0 41.9" fill="none" stroke="#141414" stroke-width="1.15"/>
<path d="M443.8 30.6C444.8 31.4 447.9 33.5 450.0 35.0C452.1 36.5 454.0 38.4 456.2 39.4C458.5 40.3 461.0 40.4 463.8 40.6C466.5 40.8 469.8 40.2 472.5 40.6C475.2 41.0 477.5 42.2 480.0 43.1C482.5 44.1 485.5 45.5 487.5 46.2C489.5 47.0 491.2 47.3 492.0 47.5" fill="none" stroke="#141414" stroke-width="1.15"/>
<path d="M463.8 40.6C464.8 40.5 467.7 39.7 470.0 40.0C472.3 40.3 475.0 41.7 477.5 42.5C480.0 43.3 482.6 44.6 485.0 45.0C487.4 45.4 490.8 45.0 492.0 45.0" fill="none" stroke="#141414" stroke-width="1.15"/>
<path d="M410.0 43.1C411.2 43.3 415.4 43.6 417.5 44.4C419.6 45.1 420.7 46.6 422.5 47.5C424.3 48.4 426.0 50.0 428.1 50.0C430.2 50.0 432.4 47.9 435.0 47.5C437.6 47.1 441.0 48.1 443.8 47.5C446.5 46.9 449.0 44.4 451.2 43.8C453.5 43.1 455.4 43.1 457.5 43.8C459.6 44.4 461.7 46.0 463.8 47.5C465.8 49.0 468.1 50.8 470.0 52.5C471.9 54.2 473.5 55.4 475.0 57.5C476.5 59.6 477.7 62.6 478.8 65.0C479.8 67.4 480.8 70.8 481.2 72.0" fill="none" stroke="#141414" stroke-width="1.15"/>
<path d="M410.0 47.5C411.2 47.3 415.4 46.7 417.5 46.2C419.6 45.8 420.7 45.4 422.5 45.0C424.3 44.6 426.0 43.8 428.1 43.8C430.2 43.8 432.4 44.4 435.0 45.0C437.6 45.6 441.2 46.7 443.8 47.5C446.2 48.3 447.7 49.4 450.0 50.0C452.3 50.6 455.0 50.8 457.5 51.2C460.0 51.7 462.5 52.3 465.0 52.5C467.5 52.7 470.0 52.9 472.5 52.5C475.0 52.1 477.5 50.8 480.0 50.0C482.5 49.2 485.5 48.1 487.5 47.5C489.5 46.9 491.2 46.5 492.0 46.2" fill="none" stroke="#141414" stroke-width="1.15"/>
<path d="M410.0 51.2C411.0 50.6 414.2 48.6 416.2 47.5C418.3 46.4 420.5 45.4 422.5 44.8C424.5 44.1 427.2 43.9 428.1 43.8" fill="none" stroke="#141414" stroke-width="1.15"/>
<path d="M443.8 47.5C445.2 47.1 449.8 45.2 452.5 45.0C455.2 44.8 457.5 45.4 460.0 46.2C462.5 47.1 465.4 49.0 467.5 50.0C469.6 51.0 470.4 51.2 472.5 52.5C474.6 53.8 477.5 56.2 480.0 57.5C482.5 58.8 485.5 59.6 487.5 60.0C489.5 60.4 491.2 60.0 492.0 60.0" fill="none" stroke="#141414" stroke-width="1.15"/>
<path d="M410.0 61.2C411.2 61.0 414.5 60.2 417.5 60.0C420.5 59.8 425.2 60.0 428.1 60.0C431.0 60.0 432.4 60.0 435.0 60.0C437.6 60.0 441.0 59.8 443.8 60.0C446.5 60.2 448.5 60.8 451.2 61.2C454.0 61.7 457.3 62.1 460.0 62.5C462.7 62.9 465.0 63.1 467.5 63.8C470.0 64.4 472.5 65.4 475.0 66.2C477.5 67.1 479.7 68.5 482.5 68.8C485.3 69.0 490.4 67.7 492.0 67.5" fill="none" stroke="#141414" stroke-width="1.15"/>
<path d="M410.0 65.0C411.2 64.6 415.0 63.3 417.5 62.5C420.0 61.7 423.2 60.4 425.0 60.0C426.8 59.6 427.6 60.0 428.1 60.0" fill="none" stroke="#141414" stroke-width="1.15"/>
<path d="M443.8 60.0C444.8 60.6 447.7 62.3 450.0 63.8C452.3 65.2 455.4 67.4 457.5 68.8C459.6 70.1 461.7 71.5 462.5 72.0" fill="none" stroke="#141414" stroke-width="1.15"/>
<path d="M465.0 72.0C466.2 71.2 470.0 68.7 472.5 67.5C475.0 66.3 477.5 65.6 480.0 65.0C482.5 64.4 485.5 64.0 487.5 63.8C489.5 63.5 491.2 63.8 492.0 63.8" fill="none" stroke="#141414" stroke-width="1.15"/>
</g>
<g mask="url(#m369_24)">
<path d="M436.0 101.9C437.4 101.8 441.6 102.1 444.1 101.2C446.6 100.4 448.8 97.6 451.0 96.9C453.2 96.1 455.2 96.1 457.2 96.9C459.3 97.6 461.2 99.3 463.5 101.2C465.8 103.2 468.5 106.2 471.0 108.8C473.5 111.2 476.0 114.2 478.5 116.2C481.0 118.3 484.1 120.1 486.0 121.2C487.9 122.4 487.9 123.1 490.0 123.1C492.1 123.1 495.8 122.4 498.5 121.2C501.2 120.1 503.5 118.1 506.0 116.2C508.5 114.4 511.5 111.5 513.5 110.0C515.5 108.5 517.2 107.9 518.0 107.5" fill="none" stroke="#141414" stroke-width="1.15"/>
<path d="M444.1 101.2C445.3 100.8 448.8 98.5 451.0 98.8C453.2 99.0 455.2 100.2 457.2 102.5C459.3 104.8 461.6 109.2 463.5 112.5C465.4 115.8 467.0 119.2 468.5 122.5C470.0 125.8 471.4 129.9 472.2 132.0C473.1 134.1 473.3 134.5 473.5 135.0" fill="none" stroke="#141414" stroke-width="1.15"/>
<path d="M444.1 101.2C445.3 102.0 448.8 103.5 451.0 105.6C453.2 107.7 455.4 110.9 457.2 113.8C459.1 116.6 460.8 119.5 462.2 122.5C463.7 125.5 465.2 129.9 466.0 132.0C466.8 134.1 467.0 134.5 467.2 135.0" fill="none" stroke="#141414" stroke-width="1.15"/>
<path d="M444.1 101.9C445.3 102.8 449.0 105.3 451.0 107.5C453.0 109.7 454.3 112.3 456.0 115.0C457.7 117.7 459.5 120.9 461.0 123.8C462.5 126.6 463.9 130.1 464.8 132.0C465.6 133.9 465.8 134.5 466.0 135.0" fill="none" stroke="#141414" stroke-width="1.15"/>
<path d="M436.0 123.8C437.4 123.8 441.8 123.5 444.1 123.8C446.4 124.0 447.8 124.2 449.8 125.0C451.7 125.8 454.3 127.6 456.0 128.8C457.7 129.9 458.7 131.0 459.8 132.0C460.8 133.0 461.8 134.5 462.2 135.0" fill="none" stroke="#141414" stroke-width="1.15"/>
<path d="M444.1 123.8C445.1 124.4 448.2 126.1 449.8 127.5C451.3 128.9 452.6 130.8 453.5 132.0C454.4 133.2 455.1 134.5 455.4 135.0" fill="none" stroke="#141414" stroke-width="1.15"/>
<path d="M458.5 70.0C459.8 70.6 463.5 72.7 466.0 73.8C468.5 74.8 471.0 75.2 473.5 76.2C476.0 77.3 478.9 79.0 481.0 80.0C483.1 81.0 484.5 82.0 486.0 82.5C487.5 83.0 489.3 83.0 490.0 83.1" fill="none" stroke="#141414" stroke-width="1.15"/>
<path d="M461.0 70.0C462.0 70.4 465.0 71.7 467.2 72.5C469.5 73.3 472.7 74.0 474.8 75.0C476.8 76.0 478.3 76.9 479.8 78.8C481.2 80.6 482.2 84.0 483.5 86.2C484.8 88.5 486.2 91.4 487.2 92.5C488.3 93.6 488.5 93.5 490.0 93.1C491.5 92.7 494.0 91.6 496.0 90.0C498.0 88.4 500.2 86.0 502.2 83.8C504.3 81.5 506.6 78.3 508.5 76.2C510.4 74.2 512.7 72.1 513.5 71.2" fill="none" stroke="#141414" stroke-width="1.15"/>
<path d="M490.0 108.8C490.6 107.7 492.1 105.2 493.5 102.5C494.9 99.8 496.8 95.6 498.5 92.5C500.2 89.4 501.8 86.5 503.5 83.8C505.2 81.0 506.8 78.3 508.5 76.2C510.2 74.2 512.7 72.1 513.5 71.2" fill="none" stroke="#141414" stroke-width="1.15"/>
<path d="M490.0 79.4C491.0 79.1 493.8 78.2 496.0 77.5C498.2 76.8 501.0 75.8 503.5 75.0C506.0 74.2 508.9 73.3 511.0 72.5C513.1 71.7 515.2 70.4 516.0 70.0" fill="none" stroke="#141414" stroke-width="1.15"/>
<path d="M479.8 70.0C480.4 70.4 481.8 72.1 483.5 72.5C485.2 72.9 487.5 72.5 490.0 72.5C492.5 72.5 495.8 72.7 498.5 72.5C501.2 72.3 503.9 71.7 506.0 71.2C508.1 70.8 510.2 70.2 511.0 70.0" fill="none" stroke="#141414" stroke-width="1.15"/>
<path d="M494.8 132.0C496.2 130.8 500.8 127.2 503.5 125.0C506.2 122.8 508.6 120.6 511.0 118.8C513.4 116.9 516.8 114.6 518.0 113.8" fill="none" stroke="#141414" stroke-width="1.15"/>
<path d="M511.0 132.0C511.8 131.0 514.8 127.6 516.0 126.2C517.2 124.9 517.7 124.2 518.0 123.8" fill="none" stroke="#141414" stroke-width="1.15"/>
</g>
<g mask="url(#m369_25)">
<path d="M574.0 90.0C574.8 91.2 577.3 95.0 579.0 97.5C580.7 100.0 582.1 103.1 584.0 105.0C585.9 106.9 589.2 108.1 590.2 108.8" fill="none" stroke="#141414" stroke-width="1.15"/>
<path d="M581.5 90.0C582.3 90.4 585.0 92.0 586.5 92.5C588.0 93.0 589.0 93.2 590.2 93.1C591.5 93.0 592.8 92.4 594.0 91.9C595.2 91.4 597.1 90.3 597.8 90.0" fill="none" stroke="#141414" stroke-width="1.15"/>
<path d="M574.0 111.2C575.2 112.5 578.8 116.8 581.5 118.8C584.2 120.7 587.3 122.7 590.2 123.1C593.2 123.5 595.9 122.8 599.0 121.2C602.1 119.7 605.9 116.1 609.0 113.8C612.1 111.4 615.2 107.9 617.8 106.9C620.2 105.8 621.7 106.1 624.0 107.5C626.3 108.9 629.0 112.3 631.5 115.0C634.0 117.7 636.7 121.2 639.0 123.8C641.3 126.2 643.2 128.8 645.2 130.0C647.3 131.2 650.2 131.0 651.2 131.2" fill="none" stroke="#141414" stroke-width="1.15"/>
<path d="M574.0 125.0C575.2 125.8 578.8 128.4 581.5 130.0C584.2 131.6 587.3 133.9 590.2 134.4C593.2 134.9 596.3 134.3 599.0 133.1C601.7 132.0 604.2 129.5 606.5 127.5C608.8 125.5 610.5 123.0 612.8 121.2C615.0 119.5 618.4 117.6 620.2 116.9C622.1 116.1 622.5 116.1 624.0 116.9C625.5 117.6 627.3 119.3 629.0 121.2C630.7 123.2 632.3 126.8 634.0 128.8C635.7 130.7 637.1 132.5 639.0 133.1C640.9 133.8 643.2 132.8 645.2 132.5C647.3 132.2 650.2 131.5 651.2 131.2" fill="none" stroke="#141414" stroke-width="1.15"/>
<path d="M574.0 135.0C575.2 135.6 578.8 138.0 581.5 138.8C584.2 139.5 587.3 139.0 590.2 139.4C593.2 139.8 596.7 141.1 599.0 141.2C601.3 141.4 602.5 141.2 604.0 140.0C605.5 138.8 606.5 136.2 607.8 133.8C609.0 131.2 610.0 127.5 611.5 125.0C613.0 122.5 614.8 120.7 616.5 118.8C618.2 116.8 619.8 114.2 621.5 113.1C623.2 112.1 624.6 111.8 626.5 112.5C628.4 113.2 630.7 115.2 632.8 117.5C634.8 119.8 636.9 124.0 639.0 126.2C641.1 128.5 643.2 130.4 645.2 131.2C647.3 132.1 650.2 131.2 651.2 131.2" fill="none" stroke="#141414" stroke-width="1.15"/>
<path d="M574.0 147.5C575.2 147.7 578.8 148.6 581.5 148.8C584.2 148.9 587.3 148.3 590.2 148.1C593.2 147.9 596.3 148.4 599.0 147.5C601.7 146.6 603.8 144.2 606.5 142.5C609.2 140.8 612.3 138.8 615.2 137.5C618.2 136.2 621.3 135.6 624.0 135.0C626.7 134.4 629.0 133.8 631.5 133.8C634.0 133.8 636.7 134.0 639.0 135.0C641.3 136.0 643.2 137.9 645.2 140.0C647.3 142.1 650.2 146.2 651.2 147.5" fill="none" stroke="#141414" stroke-width="1.15"/>
<path d="M574.0 152.5C576.7 152.5 585.5 153.1 590.2 152.5C595.0 151.9 599.2 150.0 602.8 148.8C606.3 147.5 608.0 146.2 611.5 145.0C615.0 143.8 620.2 142.3 624.0 141.2C627.8 140.2 631.5 139.0 634.0 138.8C636.5 138.5 637.1 139.2 639.0 140.0C640.9 140.8 643.2 142.5 645.2 143.8C647.3 145.0 650.2 146.9 651.2 147.5" fill="none" stroke="#141414" stroke-width="1.15"/>
</g>
<g mask="url(#m369_26)">
<path d="M489.5 60.4C489.9 60.5 490.3 60.8 492.0 61.0C493.7 61.2 497.0 61.2 499.5 61.6C502.0 62.0 504.5 63.5 507.0 63.5C509.5 63.5 512.0 62.5 514.5 61.6C517.0 60.8 519.5 59.3 522.0 58.5C524.5 57.7 527.4 56.9 529.5 56.6C531.6 56.3 532.4 55.9 534.5 56.6C536.6 57.4 539.9 59.3 542.0 61.0C544.1 62.7 545.7 65.6 547.0 66.6C548.3 67.7 548.1 66.9 549.8 67.2C551.4 67.6 554.5 67.9 557.0 68.5C559.5 69.1 562.0 69.8 564.5 71.0C567.0 72.2 570.4 74.8 572.0 76.0C573.6 77.2 573.7 78.1 574.0 78.5" fill="none" stroke="#141414" stroke-width="1.15"/>
<path d="M489.5 65.4C489.9 65.3 490.3 65.3 492.0 64.8C493.7 64.2 497.4 62.2 499.5 62.2C501.6 62.2 502.8 64.1 504.5 64.8C506.2 65.4 507.4 66.2 509.5 66.0C511.6 65.8 514.5 64.3 517.0 63.5C519.5 62.7 521.8 61.1 524.5 61.0C527.2 60.9 530.6 62.7 533.5 62.9C536.4 63.1 539.3 62.4 542.0 62.2C544.7 62.1 547.2 62.0 549.8 62.2C552.2 62.5 554.5 62.9 557.0 63.5C559.5 64.1 562.0 65.0 564.5 66.0C567.0 67.0 570.4 68.9 572.0 69.8C573.6 70.6 573.7 70.8 574.0 71.0" fill="none" stroke="#141414" stroke-width="1.15"/>
<path d="M489.5 71.6C489.9 71.7 490.3 71.9 492.0 72.2C493.7 72.6 497.0 73.5 499.5 73.5C502.0 73.5 504.5 73.1 507.0 72.2C509.5 71.4 512.0 70.0 514.5 68.5C517.0 67.0 519.5 65.0 522.0 63.5C524.5 62.0 527.6 60.6 529.5 59.8C531.4 58.9 531.4 58.7 533.5 58.5C535.6 58.3 539.3 58.5 542.0 58.5C544.7 58.5 547.2 58.5 549.8 58.5C552.2 58.5 555.0 58.1 557.0 58.5C559.0 58.9 560.3 59.8 562.0 61.0C563.7 62.2 565.3 64.1 567.0 66.0C568.7 67.9 570.8 70.8 572.0 72.2C573.2 73.7 573.7 74.3 574.0 74.8" fill="none" stroke="#141414" stroke-width="1.15"/>
<path d="M489.5 79.8C489.9 79.5 490.3 79.1 492.0 78.5C493.7 77.9 497.0 77.0 499.5 76.0C502.0 75.0 504.5 73.8 507.0 72.2C509.5 70.7 512.0 68.2 514.5 66.6C517.0 65.1 519.5 64.2 522.0 62.9C524.5 61.5 527.6 59.4 529.5 58.5C531.4 57.6 532.8 57.5 533.5 57.2" fill="none" stroke="#141414" stroke-width="1.15"/>
<path d="M490.8 96.0C491.0 95.6 491.0 94.8 492.0 93.5C493.0 92.2 495.3 90.6 497.0 88.5C498.7 86.4 500.3 83.3 502.0 81.0C503.7 78.7 505.3 76.6 507.0 74.8C508.7 72.9 509.9 71.4 512.0 69.8C514.1 68.1 517.0 65.8 519.5 64.8C522.0 63.7 524.7 63.7 527.0 63.5C529.3 63.3 531.0 63.5 533.5 63.5C536.0 63.5 539.3 63.4 542.0 63.5C544.7 63.6 547.2 64.2 549.8 64.1C552.2 64.0 554.5 62.8 557.0 62.9C559.5 63.0 562.0 63.6 564.5 64.8C567.0 65.9 570.4 68.7 572.0 69.8C573.6 70.8 573.7 70.8 574.0 71.0" fill="none" stroke="#141414" stroke-width="1.15"/>
<path d="M490.8 109.8C491.0 109.3 491.0 109.1 492.0 107.2C493.0 105.4 495.3 101.6 497.0 98.5C498.7 95.4 500.3 91.6 502.0 88.5C503.7 85.4 505.5 82.5 507.0 79.8C508.5 77.0 509.1 74.3 510.8 72.2C512.4 70.2 514.7 68.7 517.0 67.2C519.3 65.8 523.2 64.1 524.5 63.5" fill="none" stroke="#141414" stroke-width="1.15"/>
<path d="M549.8 63.5C550.5 63.1 552.7 62.0 554.5 61.0C556.3 60.0 559.3 58.1 560.8 57.2C562.2 56.4 562.8 56.2 563.2 56.0" fill="none" stroke="#141414" stroke-width="1.15"/>
<path d="M503.2 118.0C504.5 116.8 508.0 112.9 510.8 111.0C513.5 109.1 516.8 107.6 519.5 106.6C522.2 105.7 524.7 105.3 527.0 105.4C529.3 105.5 531.0 107.1 533.5 107.2C536.0 107.4 539.3 106.4 542.0 106.0C544.7 105.6 547.2 105.6 549.8 104.8C552.2 103.9 554.5 101.6 557.0 101.0C559.5 100.4 562.0 100.2 564.5 101.0C567.0 101.8 570.4 104.8 572.0 106.0C573.6 107.2 573.7 108.1 574.0 108.5" fill="none" stroke="#141414" stroke-width="1.15"/>
<path d="M512.0 118.0C513.2 117.0 517.0 113.6 519.5 112.2C522.0 110.9 524.7 110.1 527.0 109.8C529.3 109.4 531.0 110.0 533.5 110.4C536.0 110.8 539.3 111.8 542.0 112.2C544.7 112.7 547.7 112.5 549.8 112.9C551.8 113.3 553.7 114.4 554.5 114.8" fill="none" stroke="#141414" stroke-width="1.15"/>
<path d="M523.2 118.0C524.3 117.0 527.8 113.5 529.5 112.2C531.2 111.0 532.8 110.7 533.5 110.4" fill="none" stroke="#141414" stroke-width="1.15"/>
<path d="M549.8 105.4C550.5 106.1 552.9 108.2 554.5 109.8C556.1 111.3 558.0 113.4 559.5 114.8C561.0 116.1 562.6 117.5 563.2 118.0" fill="none" stroke="#141414" stroke-width="1.15"/>
<path d="M549.8 107.2C550.3 108.1 552.0 110.5 553.2 112.2C554.5 114.0 556.4 117.0 557.0 118.0" fill="none" stroke="#141414" stroke-width="1.15"/>
</g>
<g mask="url(#m369_27)">
<path d="M536.0 107.0C536.7 106.9 538.4 106.7 540.0 106.5C541.6 106.3 544.0 105.9 545.6 105.6C547.2 105.3 548.3 105.1 549.7 104.6C551.1 104.0 552.1 102.8 553.9 102.3C555.7 101.8 558.2 101.0 560.4 101.4C562.6 101.8 564.9 103.3 566.9 104.6C568.9 105.9 570.4 107.4 572.4 109.3C574.4 111.2 576.9 113.8 578.9 115.7C580.9 117.6 582.5 119.2 584.4 120.4C586.3 121.6 588.6 122.9 590.5 123.1C592.4 123.3 594.0 122.5 595.6 121.8C597.2 121.1 598.6 120.0 600.0 119.0C601.4 118.0 603.3 116.5 604.0 116.0" fill="none" stroke="#141414" stroke-width="1.15"/>
<path d="M536.0 111.4C536.7 111.4 538.4 111.5 540.0 111.6C541.6 111.7 544.0 111.8 545.6 112.0C547.2 112.2 548.2 112.7 549.7 112.5C551.2 112.3 553.3 111.0 554.8 111.1C556.3 111.2 556.8 111.9 558.5 113.0C560.2 114.1 562.7 115.9 565.0 117.6C567.3 119.3 569.9 121.2 572.4 123.1C574.9 124.9 577.5 127.0 579.8 128.7C582.1 130.4 584.5 132.3 586.3 133.3C588.1 134.3 589.0 134.6 590.5 134.7C592.0 134.8 594.0 134.2 595.6 133.8C597.2 133.4 598.6 132.6 600.0 132.0C601.4 131.4 603.3 130.3 604.0 130.0" fill="none" stroke="#141414" stroke-width="1.15"/>
<path d="M549.7 104.6C550.4 105.4 552.4 107.8 553.9 109.3C555.4 110.8 557.0 111.9 558.5 113.9C560.0 115.9 561.6 119.0 563.1 121.3C564.6 123.6 566.2 125.8 567.8 127.8C569.3 129.8 570.7 131.5 572.4 133.3C574.1 135.2 576.1 137.7 578.0 138.9C579.9 140.1 581.4 140.2 583.5 140.3C585.6 140.5 588.5 139.7 590.5 139.8C592.5 139.9 594.0 140.4 595.6 140.7C597.2 141.0 598.6 141.4 600.0 141.7C601.4 142.0 603.3 142.4 604.0 142.5" fill="none" stroke="#141414" stroke-width="1.15"/>
<path d="M549.7 112.5C550.4 113.5 552.4 116.0 553.9 118.5C555.4 121.0 557.0 124.7 558.5 127.8C560.0 130.9 561.7 134.0 563.1 137.0C564.5 140.0 566.1 143.9 566.9 145.9C567.7 147.9 567.8 148.5 568.0 149.0" fill="none" stroke="#141414" stroke-width="1.15"/>
<path d="M554.8 111.1C555.4 111.9 557.1 113.4 558.5 115.7C559.9 118.0 561.6 121.5 563.1 125.0C564.6 128.6 566.7 133.5 567.8 137.0C568.9 140.5 569.1 143.9 569.6 145.9C570.1 147.9 570.4 148.5 570.5 149.0" fill="none" stroke="#141414" stroke-width="1.15"/>
<path d="M536.0 134.6C536.7 134.6 538.4 134.5 540.0 134.3C541.6 134.1 544.0 133.5 545.6 133.3C547.2 133.1 548.2 133.0 549.7 133.3C551.2 133.6 553.0 134.1 554.8 135.2C556.6 136.3 558.8 138.0 560.4 139.8C562.0 141.6 563.2 144.4 564.1 145.9C565.0 147.4 565.7 148.5 566.0 149.0" fill="none" stroke="#141414" stroke-width="1.15"/>
<path d="M549.7 133.8C550.6 134.3 553.3 135.8 554.8 137.0C556.3 138.2 557.3 139.2 558.5 140.7C559.7 142.2 561.3 144.5 562.2 145.9C563.1 147.3 563.7 148.5 564.0 149.0" fill="none" stroke="#141414" stroke-width="1.15"/>
<path d="M580.0 96.0C580.4 96.7 581.6 98.4 582.6 100.0C583.6 101.6 585.0 104.1 586.3 105.6C587.6 107.1 589.8 108.3 590.5 108.8" fill="none" stroke="#141414" stroke-width="1.15"/>
</g>
<path d="M369.0 184.9C369.9 183.8 373.4 178.7 374.6 178.0C375.9 177.3 375.6 177.2 376.5 180.5C377.4 183.8 378.8 192.0 380.2 198.0C381.7 204.0 384.2 213.6 385.0 216.8" fill="none" stroke="#d83030" stroke-width="1.3"/>
<path d="M385.0 216.8C385.9 213.2 388.8 201.3 390.2 195.5C391.8 189.7 392.8 185.8 394.0 182.0C395.2 178.2 396.3 175.0 397.5 172.5C398.7 170.0 399.8 168.7 401.0 167.0C402.2 165.3 403.0 164.1 404.5 162.5C406.0 160.9 408.2 158.8 410.2 157.5C412.2 156.2 414.6 155.1 416.5 154.6C418.4 154.1 420.0 154.2 421.5 154.4C423.0 154.6 424.2 155.2 425.2 155.6C426.3 156.0 427.5 156.7 428.0 156.9" fill="none" stroke="#d83030" stroke-width="1.3"/>
<path d="M369.0 186.8C370.0 188.8 372.6 194.2 375.2 199.2C377.9 204.2 383.4 213.8 385.0 216.8" fill="none" stroke="#30d030" stroke-width="1.3"/>
<path d="M385.0 216.8C386.1 213.6 389.8 203.3 391.5 198.0C393.2 192.7 394.0 189.3 395.5 185.0C397.0 180.7 398.9 175.2 400.2 172.0C401.6 168.8 402.5 167.8 403.5 166.0C404.5 164.2 405.0 163.3 406.5 161.5C408.0 159.7 410.7 156.6 412.8 155.0C414.8 153.4 417.1 152.8 419.0 151.9C420.9 151.0 422.5 150.1 424.0 149.4C425.5 148.7 427.3 147.8 428.0 147.5" fill="none" stroke="#30d030" stroke-width="1.3"/>
<path d="M369.0 188.6C370.2 191.0 373.8 198.3 376.5 203.0C379.2 207.7 383.6 214.5 385.0 216.8" fill="none" stroke="#2828d0" stroke-width="1.3"/>
<path d="M385.0 216.8C386.5 214.7 390.8 209.4 394.0 204.2C397.2 199.1 401.2 190.9 404.0 186.0C406.8 181.1 408.4 178.2 410.5 175.0C412.6 171.8 414.5 168.9 416.5 166.5C418.5 164.1 420.8 162.1 422.8 160.5C424.7 158.9 427.1 157.6 428.0 157.0" fill="none" stroke="#2828d0" stroke-width="1.3"/>
<path d="M549.5 165.5C551.0 165.5 555.5 165.5 558.5 165.5C561.5 165.5 565.2 165.3 567.2 165.8C569.3 166.2 570.4 167.6 571.0 168.0" fill="none" stroke="#d83030" stroke-width="1.3"/>
<path d="M549.5 144.0C551.0 145.0 556.0 147.8 558.5 150.0C561.0 152.2 562.9 155.0 564.8 157.5C566.6 160.0 568.1 161.8 569.8 165.0C571.4 168.2 572.9 172.5 574.8 176.8C576.6 181.0 579.1 185.9 581.0 190.5C582.9 195.1 584.5 199.9 586.0 204.2C587.5 208.6 589.3 214.7 590.0 216.8" fill="none" stroke="#30d030" stroke-width="1.3"/>
<path d="M549.5 165.5C551.0 166.1 555.3 167.0 558.5 169.2C561.7 171.5 565.2 175.1 568.5 179.2C571.8 183.4 575.6 189.5 578.5 194.2C581.4 199.0 584.1 204.2 586.0 208.0C587.9 211.8 589.3 215.3 590.0 216.8" fill="none" stroke="#2828d0" stroke-width="1.3"/>
<rect x="369.0" y="9.75" width="282.29999999999995" height="207.55" fill="none" stroke="#666" stroke-width="1.1"/>
<line x1="369.0" y1="217.30" x2="372.0" y2="217.30" stroke="#333" stroke-width="1"/>
<line x1="651.3" y1="217.30" x2="648.3" y2="217.30" stroke="#333" stroke-width="1"/>
<line x1="369.0" y1="202.48" x2="371.0" y2="202.48" stroke="#333" stroke-width="1"/>
<line x1="651.3" y1="202.48" x2="649.3" y2="202.48" stroke="#333" stroke-width="1"/>
<line x1="369.0" y1="187.65" x2="372.0" y2="187.65" stroke="#333" stroke-width="1"/>
<line x1="651.3" y1="187.65" x2="648.3" y2="187.65" stroke="#333" stroke-width="1"/>
<line x1="369.0" y1="172.83" x2="371.0" y2="172.83" stroke="#333" stroke-width="1"/>
<line x1="651.3" y1="172.83" x2="649.3" y2="172.83" stroke="#333" stroke-width="1"/>
<line x1="369.0" y1="158.00" x2="372.0" y2="158.00" stroke="#333" stroke-width="1"/>
<line x1="651.3" y1="158.00" x2="648.3" y2="158.00" stroke="#333" stroke-width="1"/>
<line x1="369.0" y1="143.18" x2="371.0" y2="143.18" stroke="#333" stroke-width="1"/>
<line x1="651.3" y1="143.18" x2="649.3" y2="143.18" stroke="#333" stroke-width="1"/>
<line x1="369.0" y1="128.35" x2="372.0" y2="128.35" stroke="#333" stroke-width="1"/>
<line x1="651.3" y1="128.35" x2="648.3" y2="128.35" stroke="#333" stroke-width="1"/>
<line x1="369.0" y1="113.53" x2="371.0" y2="113.53" stroke="#333" stroke-width="1"/>
<line x1="651.3" y1="113.53" x2="649.3" y2="113.53" stroke="#333" stroke-width="1"/>
<line x1="369.0" y1="98.70" x2="372.0" y2="98.70" stroke="#333" stroke-width="1"/>
<line x1="651.3" y1="98.70" x2="648.3" y2="98.70" stroke="#333" stroke-width="1"/>
<line x1="369.0" y1="83.88" x2="371.0" y2="83.88" stroke="#333" stroke-width="1"/>
<line x1="651.3" y1="83.88" x2="649.3" y2="83.88" stroke="#333" stroke-width="1"/>
<line x1="369.0" y1="69.05" x2="372.0" y2="69.05" stroke="#333" stroke-width="1"/>
<line x1="651.3" y1="69.05" x2="648.3" y2="69.05" stroke="#333" stroke-width="1"/>
<line x1="369.0" y1="54.23" x2="371.0" y2="54.23" stroke="#333" stroke-width="1"/>
<line x1="651.3" y1="54.23" x2="649.3" y2="54.23" stroke="#333" stroke-width="1"/>
<line x1="369.0" y1="39.40" x2="372.0" y2="39.40" stroke="#333" stroke-width="1"/>
<line x1="651.3" y1="39.40" x2="648.3" y2="39.40" stroke="#333" stroke-width="1"/>
<line x1="369.0" y1="24.58" x2="371.0" y2="24.58" stroke="#333" stroke-width="1"/>
<line x1="651.3" y1="24.58" x2="649.3" y2="24.58" stroke="#333" stroke-width="1"/>
<line x1="369.0" y1="9.75" x2="372.0" y2="9.75" stroke="#333" stroke-width="1"/>
<line x1="651.3" y1="9.75" x2="648.3" y2="9.75" stroke="#333" stroke-width="1"/>
<text x="365.4" y="220.9" font-size="12.5" text-anchor="end" fill="#222" >0</text>
<text x="365.4" y="191.25" font-size="12.5" text-anchor="end" fill="#222" >1</text>
<text x="365.4" y="161.6" font-size="12.5" text-anchor="end" fill="#222" >2</text>
<text x="365.4" y="131.95000000000002" font-size="12.5" text-anchor="end" fill="#222" >3</text>
<text x="365.4" y="102.30000000000001" font-size="12.5" text-anchor="end" fill="#222" >4</text>
<text x="365.4" y="72.65" font-size="12.5" text-anchor="end" fill="#222" >5</text>
<text x="365.4" y="43.000000000000036" font-size="12.5" text-anchor="end" fill="#222" >6</text>
<text x="365.4" y="13.350000000000028" font-size="12.5" text-anchor="end" fill="#222" >7</text>
<text x="369.0" y="233.8" font-size="13" text-anchor="middle" fill="#222" >X</text>
<text x="384.9" y="233.8" font-size="13" text-anchor="middle" fill="#222" >Γ</text>
<text x="428.0" y="233.8" font-size="13" text-anchor="middle" fill="#222" >Y</text>
<text x="443.8" y="233.8" font-size="13" text-anchor="middle" fill="#222" >P</text>
<text x="489.8" y="233.8" font-size="13" text-anchor="middle" fill="#222" >Γ</text>
<text x="533.6" y="233.8" font-size="13" text-anchor="middle" fill="#222" >A</text>
<text x="549.5" y="233.8" font-size="13" text-anchor="middle" fill="#222" >Z</text>
<text x="590.0" y="233.8" font-size="13" text-anchor="middle" fill="#222" >Γ</text>
<text x="651.3" y="233.8" font-size="13" text-anchor="middle" fill="#222" >T</text>
<text x="10.7" y="24.2" font-size="18" text-anchor="middle" fill="#222" >(a)</text>
<text x="343.5" y="24.2" font-size="18" text-anchor="middle" fill="#222" >(b)</text>
<text x="13.6" y="122" font-size="13" text-anchor="middle" fill="#222" transform="rotate(-90 13.6 122)" >Frequency (THz)</text>
<text x="346.3" y="122" font-size="13" text-anchor="middle" fill="#222" transform="rotate(-90 346.3 122)" >Frequency (THz)</text>
<polyline points="34.60,462.00 39.00,462.00 49.00,460.50 59.00,457.50 66.50,453.75 75.25,442.50 81.50,437.50 86.50,427.50 90.25,415.00 92.75,397.50 96.00,390.00 98.50,375.00 101.50,375.00 104.50,373.75 107.00,376.25 110.25,420.00 112.75,415.00 119.00,377.00 122.75,390.00 128.50,413.75 131.50,415.00 135.25,411.25 142.00,382.50 145.75,345.00 148.50,360.00 151.50,407.50 156.50,409.50 160.25,405.50 163.50,412.50 166.00,442.50 170.25,451.25 176.50,462.00 202.50,462.00 210.00,457.50 215.00,440.00 218.75,415.00 221.25,355.00 225.00,347.50 227.50,282.50 232.50,407.50 235.50,402.50 238.75,365.00 242.00,361.25 245.50,370.00 248.75,372.50 251.25,317.50 256.75,393.75 260.00,360.00 263.75,382.50 266.25,412.50 270.75,407.50 275.00,417.50 281.25,422.50 285.00,436.25 290.00,437.50 294.50,434.50 297.50,450.00 300.00,462.00 317.00,462.00" fill="none" stroke="#1e1e1e" stroke-width="1.3" stroke-linejoin="round" />
<polyline points="34.60,462.00 44.00,462.00 59.00,459.50 66.50,457.00 75.25,452.50 84.00,447.00 87.75,443.00 94.00,425.00 98.50,412.50 102.75,412.50 105.25,408.25 107.75,412.50 110.25,440.00 119.00,415.00 129.00,437.50 134.00,437.50 141.50,425.00 145.75,400.00 151.50,433.00 157.75,433.00 162.75,435.00 165.25,451.25 175.25,462.00 207.50,462.00 212.50,455.00 220.00,417.50 223.75,417.50 227.00,398.75 229.50,415.00 233.00,442.50 236.25,435.00 240.00,412.50 243.75,413.75 247.00,418.75 251.25,395.00 256.25,430.00 259.50,411.25 263.75,426.25 267.50,437.50 271.25,433.75 276.25,438.75 285.00,448.75 293.75,447.50 297.50,452.50 300.00,462.00" fill="none" stroke="#d43a3a" stroke-width="1.3" stroke-linejoin="round" />
<polyline points="34.60,462.00 44.00,462.00 59.00,460.00 66.50,457.50 75.25,453.50 84.00,447.50 90.25,436.25 97.75,425.00 106.50,427.50 109.00,429.50 110.25,442.50 119.00,422.50 129.00,438.75 134.00,438.00 141.50,427.50 145.75,406.25 151.50,435.00 159.00,437.50 162.75,435.00 165.25,451.25 175.25,462.00 207.50,462.00 212.50,455.00 220.00,397.50 223.75,390.00 227.00,350.00 229.50,380.00 233.00,428.75 237.00,428.75 240.00,410.00 243.75,411.25 247.00,417.50 251.25,388.75 255.00,422.50 259.50,410.00 263.75,425.00 267.50,438.75 271.25,435.00 276.25,440.00 285.00,450.00 293.75,448.00 297.50,452.50 300.00,462.00" fill="none" stroke="#2a2ac8" stroke-width="1.3" stroke-linejoin="round" />
<rect x="34.6" y="254.3" width="282.59999999999997" height="207.59999999999997" fill="none" stroke="#555" stroke-width="1.1"/>
<line x1="34.60" y1="461.9" x2="34.60" y2="458.9" stroke="#333" stroke-width="1"/>
<line x1="34.60" y1="254.3" x2="34.60" y2="257.3" stroke="#333" stroke-width="1"/>
<line x1="54.79" y1="461.9" x2="54.79" y2="459.9" stroke="#333" stroke-width="1"/>
<line x1="54.79" y1="254.3" x2="54.79" y2="256.3" stroke="#333" stroke-width="1"/>
<line x1="74.97" y1="461.9" x2="74.97" y2="458.9" stroke="#333" stroke-width="1"/>
<line x1="74.97" y1="254.3" x2="74.97" y2="257.3" stroke="#333" stroke-width="1"/>
<line x1="95.16" y1="461.9" x2="95.16" y2="459.9" stroke="#333" stroke-width="1"/>
<line x1="95.16" y1="254.3" x2="95.16" y2="256.3" stroke="#333" stroke-width="1"/>
<line x1="115.34" y1="461.9" x2="115.34" y2="458.9" stroke="#333" stroke-width="1"/>
<line x1="115.34" y1="254.3" x2="115.34" y2="257.3" stroke="#333" stroke-width="1"/>
<line x1="135.53" y1="461.9" x2="135.53" y2="459.9" stroke="#333" stroke-width="1"/>
<line x1="135.53" y1="254.3" x2="135.53" y2="256.3" stroke="#333" stroke-width="1"/>
<line x1="155.71" y1="461.9" x2="155.71" y2="458.9" stroke="#333" stroke-width="1"/>
<line x1="155.71" y1="254.3" x2="155.71" y2="257.3" stroke="#333" stroke-width="1"/>
<line x1="175.90" y1="461.9" x2="175.90" y2="459.9" stroke="#333" stroke-width="1"/>
<line x1="175.90" y1="254.3" x2="175.90" y2="256.3" stroke="#333" stroke-width="1"/>
<line x1="196.09" y1="461.9" x2="196.09" y2="458.9" stroke="#333" stroke-width="1"/>
<line x1="196.09" y1="254.3" x2="196.09" y2="257.3" stroke="#333" stroke-width="1"/>
<line x1="216.27" y1="461.9" x2="216.27" y2="459.9" stroke="#333" stroke-width="1"/>
<line x1="216.27" y1="254.3" x2="216.27" y2="256.3" stroke="#333" stroke-width="1"/>
<line x1="236.46" y1="461.9" x2="236.46" y2="458.9" stroke="#333" stroke-width="1"/>
<line x1="236.46" y1="254.3" x2="236.46" y2="257.3" stroke="#333" stroke-width="1"/>
<line x1="256.64" y1="461.9" x2="256.64" y2="459.9" stroke="#333" stroke-width="1"/>
<line x1="256.64" y1="254.3" x2="256.64" y2="256.3" stroke="#333" stroke-width="1"/>
<line x1="276.83" y1="461.9" x2="276.83" y2="458.9" stroke="#333" stroke-width="1"/>
<line x1="276.83" y1="254.3" x2="276.83" y2="257.3" stroke="#333" stroke-width="1"/>
<line x1="297.01" y1="461.9" x2="297.01" y2="459.9" stroke="#333" stroke-width="1"/>
<line x1="297.01" y1="254.3" x2="297.01" y2="256.3" stroke="#333" stroke-width="1"/>
<line x1="317.20" y1="461.9" x2="317.20" y2="458.9" stroke="#333" stroke-width="1"/>
<line x1="317.20" y1="254.3" x2="317.20" y2="257.3" stroke="#333" stroke-width="1"/>
<line x1="34.6" y1="461.90" x2="37.1" y2="461.90" stroke="#333" stroke-width="1"/>
<line x1="317.2" y1="461.90" x2="314.7" y2="461.90" stroke="#333" stroke-width="1"/>
<line x1="34.6" y1="443.03" x2="37.1" y2="443.03" stroke="#333" stroke-width="1"/>
<line x1="317.2" y1="443.03" x2="314.7" y2="443.03" stroke="#333" stroke-width="1"/>
<line x1="34.6" y1="424.16" x2="37.1" y2="424.16" stroke="#333" stroke-width="1"/>
<line x1="317.2" y1="424.16" x2="314.7" y2="424.16" stroke="#333" stroke-width="1"/>
<line x1="34.6" y1="405.29" x2="37.1" y2="405.29" stroke="#333" stroke-width="1"/>
<line x1="317.2" y1="405.29" x2="314.7" y2="405.29" stroke="#333" stroke-width="1"/>
<line x1="34.6" y1="386.42" x2="37.1" y2="386.42" stroke="#333" stroke-width="1"/>
<line x1="317.2" y1="386.42" x2="314.7" y2="386.42" stroke="#333" stroke-width="1"/>
<line x1="34.6" y1="367.55" x2="37.1" y2="367.55" stroke="#333" stroke-width="1"/>
<line x1="317.2" y1="367.55" x2="314.7" y2="367.55" stroke="#333" stroke-width="1"/>
<line x1="34.6" y1="348.68" x2="37.1" y2="348.68" stroke="#333" stroke-width="1"/>
<line x1="317.2" y1="348.68" x2="314.7" y2="348.68" stroke="#333" stroke-width="1"/>
<line x1="34.6" y1="329.81" x2="37.1" y2="329.81" stroke="#333" stroke-width="1"/>
<line x1="317.2" y1="329.81" x2="314.7" y2="329.81" stroke="#333" stroke-width="1"/>
<line x1="34.6" y1="310.94" x2="37.1" y2="310.94" stroke="#333" stroke-width="1"/>
<line x1="317.2" y1="310.94" x2="314.7" y2="310.94" stroke="#333" stroke-width="1"/>
<line x1="34.6" y1="292.07" x2="37.1" y2="292.07" stroke="#333" stroke-width="1"/>
<line x1="317.2" y1="292.07" x2="314.7" y2="292.07" stroke="#333" stroke-width="1"/>
<line x1="34.6" y1="273.20" x2="37.1" y2="273.20" stroke="#333" stroke-width="1"/>
<line x1="317.2" y1="273.20" x2="314.7" y2="273.20" stroke="#333" stroke-width="1"/>
<text x="34.6" y="474" font-size="12" text-anchor="middle" fill="#222" >0</text>
<text x="74.97142857142856" y="474" font-size="12" text-anchor="middle" fill="#222" >1</text>
<text x="115.34285714285713" y="474" font-size="12" text-anchor="middle" fill="#222" >2</text>
<text x="155.7142857142857" y="474" font-size="12" text-anchor="middle" fill="#222" >3</text>
<text x="196.08571428571426" y="474" font-size="12" text-anchor="middle" fill="#222" >4</text>
<text x="236.45714285714283" y="474" font-size="12" text-anchor="middle" fill="#222" >5</text>
<text x="276.8285714285714" y="474" font-size="12" text-anchor="middle" fill="#222" >6</text>
<text x="317.2" y="474" font-size="12" text-anchor="middle" fill="#222" >7</text>
<text x="175.9" y="491" font-size="13" text-anchor="middle" fill="#222" >Frequency (THz)</text>
<line x1="66" y1="278.9" x2="94" y2="278.9" stroke="#222" stroke-width="1.6"/>
<text x="97.5" y="282.9" font-size="12" text-anchor="start" fill="#222" >Total</text>
<line x1="66" y1="293.9" x2="94" y2="293.9" stroke="#b04848" stroke-width="1.6"/>
<text x="97.5" y="297.9" font-size="12" text-anchor="start" fill="#222" >Ge</text>
<line x1="66" y1="308.9" x2="94" y2="308.9" stroke="#3434c8" stroke-width="1.6"/>
<text x="97.5" y="312.9" font-size="12" text-anchor="start" fill="#222" >Se</text>
<polyline points="369.00,462.00 376.50,462.00 394.00,459.50 409.00,454.50 419.00,446.25 427.75,432.50 434.50,410.00 437.75,382.50 441.50,352.50 444.00,350.00 446.50,332.50 448.50,331.25 450.25,332.50 452.75,317.50 455.25,316.25 457.75,315.00 459.50,312.50 462.00,317.50 465.25,335.00 468.50,346.25 471.00,365.00 474.00,361.25 477.00,370.00 480.25,367.50 482.75,380.00 486.00,387.50 489.00,381.25 492.75,380.00 495.25,376.25 497.75,392.50 500.25,381.25 504.00,371.25 507.75,380.00 511.50,378.75 514.00,382.50 516.50,397.50 520.25,404.00 524.00,416.00 527.00,442.50 530.75,451.25 540.75,458.75 545.75,450.00 550.75,427.50 557.00,407.50 563.25,390.00 567.00,364.00 572.00,336.00 575.75,322.50 579.50,280.00 582.50,275.00 585.00,297.50 588.25,357.50 590.75,345.00 594.50,307.50 597.50,305.00 600.75,326.25 603.25,310.00 606.50,377.50 609.50,340.00 614.50,383.00 618.25,386.00 624.50,377.50 630.00,388.75 633.25,382.00 635.75,420.00 639.50,432.50 642.00,450.00 643.25,462.00 651.80,462.00" fill="none" stroke="#1e1e1e" stroke-width="1.3" stroke-linejoin="round" />
<polyline points="369.00,462.00 379.00,462.00 401.50,457.50 419.00,450.00 431.50,433.75 439.00,404.00 441.50,393.00 444.00,390.00 447.75,377.50 450.25,377.00 452.75,370.00 455.50,372.00 459.00,370.00 462.00,372.50 465.25,386.25 468.50,389.00 471.00,403.00 474.00,400.00 477.00,407.00 480.25,406.00 484.00,415.00 487.75,412.50 494.00,412.50 496.50,426.25 500.25,420.00 504.00,417.50 507.75,422.50 511.50,423.50 514.00,426.25 517.75,433.00 523.25,442.50 527.00,450.00 532.00,456.25 540.75,459.50 552.00,441.25 564.50,425.00 575.75,412.50 579.50,397.50 582.50,397.50 588.25,422.50 592.00,406.25 597.00,392.50 600.75,405.00 603.25,400.00 606.50,422.50 609.50,403.75 615.75,420.00 624.50,416.25 632.00,422.50 634.00,420.00 637.00,441.25 640.75,448.75 643.25,462.00 651.80,462.00" fill="none" stroke="#d43a3a" stroke-width="1.3" stroke-linejoin="round" />
<polyline points="369.00,462.00 384.00,462.00 406.50,458.75 424.00,450.00 432.75,440.00 437.75,427.50 441.50,420.00 444.00,422.50 446.50,418.75 449.00,417.50 452.75,413.75 455.25,411.25 458.50,404.50 461.50,407.50 466.50,415.00 471.50,422.50 475.25,422.50 479.00,426.25 485.25,431.25 489.00,430.00 494.00,426.25 497.75,427.50 504.00,415.00 507.75,419.50 511.50,417.50 514.00,418.75 517.75,427.50 521.50,430.00 525.75,446.25 532.00,453.75 540.75,459.50 552.00,437.50 562.00,407.50 569.50,387.50 575.75,372.50 579.50,342.50 582.50,339.00 588.25,396.25 594.00,372.50 600.00,382.50 603.25,371.25 605.75,417.50 609.00,397.50 615.75,422.50 627.00,427.50 633.25,421.25 636.50,440.00 640.00,447.50 643.25,462.00 651.80,462.00" fill="none" stroke="#2a2ac8" stroke-width="1.3" stroke-linejoin="round" />
<rect x="369.0" y="254.3" width="282.79999999999995" height="207.59999999999997" fill="none" stroke="#555" stroke-width="1.1"/>
<line x1="369.00" y1="461.9" x2="369.00" y2="458.9" stroke="#333" stroke-width="1"/>
<line x1="369.00" y1="254.3" x2="369.00" y2="257.3" stroke="#333" stroke-width="1"/>
<line x1="389.20" y1="461.9" x2="389.20" y2="459.9" stroke="#333" stroke-width="1"/>
<line x1="389.20" y1="254.3" x2="389.20" y2="256.3" stroke="#333" stroke-width="1"/>
<line x1="409.40" y1="461.9" x2="409.40" y2="458.9" stroke="#333" stroke-width="1"/>
<line x1="409.40" y1="254.3" x2="409.40" y2="257.3" stroke="#333" stroke-width="1"/>
<line x1="429.60" y1="461.9" x2="429.60" y2="459.9" stroke="#333" stroke-width="1"/>
<line x1="429.60" y1="254.3" x2="429.60" y2="256.3" stroke="#333" stroke-width="1"/>
<line x1="449.80" y1="461.9" x2="449.80" y2="458.9" stroke="#333" stroke-width="1"/>
<line x1="449.80" y1="254.3" x2="449.80" y2="257.3" stroke="#333" stroke-width="1"/>
<line x1="470.00" y1="461.9" x2="470.00" y2="459.9" stroke="#333" stroke-width="1"/>
<line x1="470.00" y1="254.3" x2="470.00" y2="256.3" stroke="#333" stroke-width="1"/>
<line x1="490.20" y1="461.9" x2="490.20" y2="458.9" stroke="#333" stroke-width="1"/>
<line x1="490.20" y1="254.3" x2="490.20" y2="257.3" stroke="#333" stroke-width="1"/>
<line x1="510.40" y1="461.9" x2="510.40" y2="459.9" stroke="#333" stroke-width="1"/>
<line x1="510.40" y1="254.3" x2="510.40" y2="256.3" stroke="#333" stroke-width="1"/>
<line x1="530.60" y1="461.9" x2="530.60" y2="458.9" stroke="#333" stroke-width="1"/>
<line x1="530.60" y1="254.3" x2="530.60" y2="257.3" stroke="#333" stroke-width="1"/>
<line x1="550.80" y1="461.9" x2="550.80" y2="459.9" stroke="#333" stroke-width="1"/>
<line x1="550.80" y1="254.3" x2="550.80" y2="256.3" stroke="#333" stroke-width="1"/>
<line x1="571.00" y1="461.9" x2="571.00" y2="458.9" stroke="#333" stroke-width="1"/>
<line x1="571.00" y1="254.3" x2="571.00" y2="257.3" stroke="#333" stroke-width="1"/>
<line x1="591.20" y1="461.9" x2="591.20" y2="459.9" stroke="#333" stroke-width="1"/>
<line x1="591.20" y1="254.3" x2="591.20" y2="256.3" stroke="#333" stroke-width="1"/>
<line x1="611.40" y1="461.9" x2="611.40" y2="458.9" stroke="#333" stroke-width="1"/>
<line x1="611.40" y1="254.3" x2="611.40" y2="257.3" stroke="#333" stroke-width="1"/>
<line x1="631.60" y1="461.9" x2="631.60" y2="459.9" stroke="#333" stroke-width="1"/>
<line x1="631.60" y1="254.3" x2="631.60" y2="256.3" stroke="#333" stroke-width="1"/>
<line x1="651.80" y1="461.9" x2="651.80" y2="458.9" stroke="#333" stroke-width="1"/>
<line x1="651.80" y1="254.3" x2="651.80" y2="257.3" stroke="#333" stroke-width="1"/>
<line x1="369.0" y1="461.90" x2="371.5" y2="461.90" stroke="#333" stroke-width="1"/>
<line x1="651.8" y1="461.90" x2="649.3" y2="461.90" stroke="#333" stroke-width="1"/>
<line x1="369.0" y1="449.70" x2="371.5" y2="449.70" stroke="#333" stroke-width="1"/>
<line x1="651.8" y1="449.70" x2="649.3" y2="449.70" stroke="#333" stroke-width="1"/>
<line x1="369.0" y1="437.50" x2="371.5" y2="437.50" stroke="#333" stroke-width="1"/>
<line x1="651.8" y1="437.50" x2="649.3" y2="437.50" stroke="#333" stroke-width="1"/>
<line x1="369.0" y1="425.30" x2="371.5" y2="425.30" stroke="#333" stroke-width="1"/>
<line x1="651.8" y1="425.30" x2="649.3" y2="425.30" stroke="#333" stroke-width="1"/>
<line x1="369.0" y1="413.10" x2="371.5" y2="413.10" stroke="#333" stroke-width="1"/>
<line x1="651.8" y1="413.10" x2="649.3" y2="413.10" stroke="#333" stroke-width="1"/>
<line x1="369.0" y1="400.90" x2="371.5" y2="400.90" stroke="#333" stroke-width="1"/>
<line x1="651.8" y1="400.90" x2="649.3" y2="400.90" stroke="#333" stroke-width="1"/>
<line x1="369.0" y1="388.70" x2="371.5" y2="388.70" stroke="#333" stroke-width="1"/>
<line x1="651.8" y1="388.70" x2="649.3" y2="388.70" stroke="#333" stroke-width="1"/>
<line x1="369.0" y1="376.50" x2="371.5" y2="376.50" stroke="#333" stroke-width="1"/>
<line x1="651.8" y1="376.50" x2="649.3" y2="376.50" stroke="#333" stroke-width="1"/>
<line x1="369.0" y1="364.30" x2="371.5" y2="364.30" stroke="#333" stroke-width="1"/>
<line x1="651.8" y1="364.30" x2="649.3" y2="364.30" stroke="#333" stroke-width="1"/>
<line x1="369.0" y1="352.10" x2="371.5" y2="352.10" stroke="#333" stroke-width="1"/>
<line x1="651.8" y1="352.10" x2="649.3" y2="352.10" stroke="#333" stroke-width="1"/>
<line x1="369.0" y1="339.90" x2="371.5" y2="339.90" stroke="#333" stroke-width="1"/>
<line x1="651.8" y1="339.90" x2="649.3" y2="339.90" stroke="#333" stroke-width="1"/>
<line x1="369.0" y1="327.70" x2="371.5" y2="327.70" stroke="#333" stroke-width="1"/>
<line x1="651.8" y1="327.70" x2="649.3" y2="327.70" stroke="#333" stroke-width="1"/>
<line x1="369.0" y1="315.50" x2="371.5" y2="315.50" stroke="#333" stroke-width="1"/>
<line x1="651.8" y1="315.50" x2="649.3" y2="315.50" stroke="#333" stroke-width="1"/>
<line x1="369.0" y1="303.30" x2="371.5" y2="303.30" stroke="#333" stroke-width="1"/>
<line x1="651.8" y1="303.30" x2="649.3" y2="303.30" stroke="#333" stroke-width="1"/>
<line x1="369.0" y1="291.10" x2="371.5" y2="291.10" stroke="#333" stroke-width="1"/>
<line x1="651.8" y1="291.10" x2="649.3" y2="291.10" stroke="#333" stroke-width="1"/>
<line x1="369.0" y1="278.90" x2="371.5" y2="278.90" stroke="#333" stroke-width="1"/>
<line x1="651.8" y1="278.90" x2="649.3" y2="278.90" stroke="#333" stroke-width="1"/>
<line x1="369.0" y1="266.70" x2="371.5" y2="266.70" stroke="#333" stroke-width="1"/>
<line x1="651.8" y1="266.70" x2="649.3" y2="266.70" stroke="#333" stroke-width="1"/>
<text x="369.0" y="474" font-size="12" text-anchor="middle" fill="#222" >0</text>
<text x="409.4" y="474" font-size="12" text-anchor="middle" fill="#222" >1</text>
<text x="449.79999999999995" y="474" font-size="12" text-anchor="middle" fill="#222" >2</text>
<text x="490.2" y="474" font-size="12" text-anchor="middle" fill="#222" >3</text>
<text x="530.5999999999999" y="474" font-size="12" text-anchor="middle" fill="#222" >4</text>
<text x="571.0" y="474" font-size="12" text-anchor="middle" fill="#222" >5</text>
<text x="611.4" y="474" font-size="12" text-anchor="middle" fill="#222" >6</text>
<text x="651.8" y="474" font-size="12" text-anchor="middle" fill="#222" >7</text>
<text x="510.4" y="491" font-size="13" text-anchor="middle" fill="#222" >Frequency (THz)</text>
<line x1="397" y1="276.5" x2="425" y2="276.5" stroke="#222" stroke-width="1.6"/>
<text x="428.5" y="280.5" font-size="12" text-anchor="start" fill="#222" >Total</text>
<line x1="397" y1="291.5" x2="425" y2="291.5" stroke="#b04848" stroke-width="1.6"/>
<text x="428.5" y="295.5" font-size="12" text-anchor="start" fill="#222" >Ge</text>
<line x1="397" y1="306.5" x2="425" y2="306.5" stroke="#3434c8" stroke-width="1.6"/>
<text x="428.5" y="310.5" font-size="12" text-anchor="start" fill="#222" >Se</text>
<text x="10.5" y="270" font-size="18" text-anchor="middle" fill="#222" >(c)</text>
<text x="342.7" y="270" font-size="18" text-anchor="middle" fill="#222" >(d)</text>
<text x="17.5" y="366" font-size="13" text-anchor="middle" fill="#222" transform="rotate(-90 17.5 366)" >DOS (arbitrary units)</text>
<text x="352" y="366" font-size="13" text-anchor="middle" fill="#222" transform="rotate(-90 352 366)" >DOS (arbitrary units)</text>
</svg></body></html>
